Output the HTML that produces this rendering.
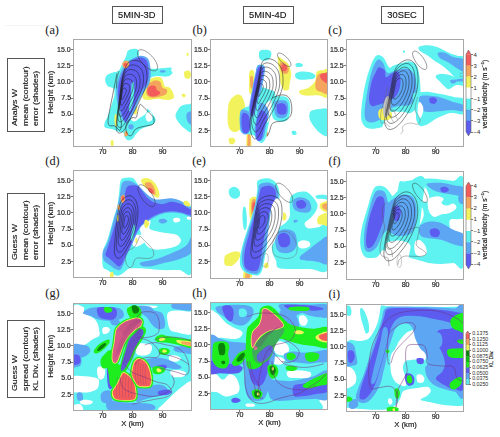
<!DOCTYPE html><html><head><meta charset="utf-8"><style>
*{margin:0;padding:0;box-sizing:border-box}
html,body{width:500px;height:437px;background:#fff;overflow:hidden}
body{position:relative;font-family:"Liberation Sans",sans-serif;color:#111;-webkit-text-stroke:0.15px #222}
.a{position:absolute}
.fr{position:absolute;border:1px solid #a8a8a8}
.t{position:absolute;font-size:7px;line-height:7px;white-space:nowrap;color:#333}
.tk{position:absolute;background:#777}
.pl{position:absolute;-webkit-text-stroke:0.05px #111;font-family:"Liberation Serif",serif;font-size:12.3px;line-height:12px;white-space:nowrap;color:#222}
.box{position:absolute;border:1px solid #555;font-size:9.6px;white-space:nowrap;color:#333}
svg{position:absolute;overflow:hidden}
svg.p{filter:blur(0.35px)}
</style></head><body>

<div class="box" style="left:111.5px;top:5.5px;width:51.0px;height:18.0px"></div>
<div class="a" style="left:107.00px;top:10.97px;width:60px;text-align:center;font-size:8.9px;line-height:8.9px;white-space:nowrap;color:#111;"><span style="display:inline-block;transform:scaleX(1.05);transform-origin:50% 50%">5MIN-3D</span></div>
<div class="box" style="left:243px;top:6px;width:50.5px;height:18px"></div>
<div class="a" style="left:238.25px;top:11.47px;width:60px;text-align:center;font-size:8.9px;line-height:8.9px;white-space:nowrap;color:#111;"><span style="display:inline-block;transform:scaleX(1.05);transform-origin:50% 50%">5MIN-4D</span></div>
<div class="box" style="left:380.5px;top:5.5px;width:43.0px;height:18.0px"></div>
<div class="a" style="left:372.00px;top:10.97px;width:60px;text-align:center;font-size:8.9px;line-height:8.9px;white-space:nowrap;color:#111;"><span style="display:inline-block;transform:scaleX(1.05);transform-origin:50% 50%">30SEC</span></div>
<div class="a" style="left:5px;top:25px;width:40px;height:1px;background:#f4f4f4"></div>
<div class="box" style="left:7px;top:58.4px;width:37.5px;height:73.79999999999998px"></div>
<div class="a" style="left:11.44px;top:125.50px;font-size:7.4px;line-height:7.4px;white-space:nowrap;color:#111;transform-origin:0 0;transform:rotate(-90deg);"><span style="display:inline-block;transform:scaleX(1.19);transform-origin:0 50%">Analys W</span></div>
<div class="a" style="left:21.54px;top:125.50px;font-size:7.4px;line-height:7.4px;white-space:nowrap;color:#111;transform-origin:0 0;transform:rotate(-90deg);"><span style="display:inline-block;transform:scaleX(1.19);transform-origin:0 50%">mean (contour)</span></div>
<div class="a" style="left:31.74px;top:125.50px;font-size:7.4px;line-height:7.4px;white-space:nowrap;color:#111;transform-origin:0 0;transform:rotate(-90deg);"><span style="display:inline-block;transform:scaleX(1.19);transform-origin:0 50%">error (shades)</span></div>
<div class="box" style="left:7px;top:193.2px;width:37.5px;height:73.5px"></div>
<div class="a" style="left:11.44px;top:260.00px;font-size:7.4px;line-height:7.4px;white-space:nowrap;color:#111;transform-origin:0 0;transform:rotate(-90deg);"><span style="display:inline-block;transform:scaleX(1.19);transform-origin:0 50%">Guess W</span></div>
<div class="a" style="left:21.54px;top:260.00px;font-size:7.4px;line-height:7.4px;white-space:nowrap;color:#111;transform-origin:0 0;transform:rotate(-90deg);"><span style="display:inline-block;transform:scaleX(1.19);transform-origin:0 50%">mean (contour)</span></div>
<div class="a" style="left:31.74px;top:260.00px;font-size:7.4px;line-height:7.4px;white-space:nowrap;color:#111;transform-origin:0 0;transform:rotate(-90deg);"><span style="display:inline-block;transform:scaleX(1.19);transform-origin:0 50%">error (shades)</span></div>
<div class="box" style="left:7px;top:320.1px;width:37.5px;height:77.5px"></div>
<div class="a" style="left:11.44px;top:390.90px;font-size:7.4px;line-height:7.4px;white-space:nowrap;color:#111;transform-origin:0 0;transform:rotate(-90deg);"><span style="display:inline-block;transform:scaleX(1.19);transform-origin:0 50%">Guess W</span></div>
<div class="a" style="left:21.54px;top:390.90px;font-size:7.4px;line-height:7.4px;white-space:nowrap;color:#111;transform-origin:0 0;transform:rotate(-90deg);"><span style="display:inline-block;transform:scaleX(1.19);transform-origin:0 50%">spread (contour)</span></div>
<div class="a" style="left:31.74px;top:390.90px;font-size:7.4px;line-height:7.4px;white-space:nowrap;color:#111;transform-origin:0 0;transform:rotate(-90deg);"><span style="display:inline-block;transform:scaleX(1.19);transform-origin:0 50%">KL Div. (shades)</span></div>
<svg class="p" style="left:73px;top:39px" width="119" height="108" viewBox="0 0 482 437" preserveAspectRatio="none"><defs><clipPath id="ca"><rect x="2.0" y="2.0" width="477.9" height="433.0"/></clipPath></defs><g clip-path="url(#ca)"><path d="M222.0,48.0 C226.2,43.0 233.3,41.0 240.0,40.0 C246.7,39.0 257.3,38.7 262.0,42.0 C266.7,45.3 268.0,54.0 268.0,60.0 C268.0,66.0 260.3,71.3 262.0,78.0 C263.7,84.7 271.7,93.3 278.0,100.0 C284.3,106.7 291.3,113.3 300.0,118.0 C308.7,122.7 320.0,127.3 330.0,128.0 C340.0,128.7 349.2,122.3 360.0,122.0 C370.8,121.7 388.0,123.0 395.0,126.0 C402.0,129.0 404.5,135.7 402.0,140.0 C399.5,144.3 390.3,150.3 380.0,152.0 C369.7,153.7 351.7,148.7 340.0,150.0 C328.3,151.3 318.0,154.2 310.0,160.0 C302.0,165.8 297.0,175.8 292.0,185.0 C287.0,194.2 284.0,205.0 280.0,215.0 C276.0,225.0 271.0,236.7 268.0,245.0 C265.0,253.3 259.2,261.2 262.0,265.0 C264.8,268.8 278.7,265.5 285.0,268.0 C291.3,270.5 294.2,274.7 300.0,280.0 C305.8,285.3 314.2,292.5 320.0,300.0 C325.8,307.5 334.2,317.5 335.0,325.0 C335.8,332.5 330.8,340.0 325.0,345.0 C319.2,350.0 308.3,351.7 300.0,355.0 C291.7,358.3 282.5,360.0 275.0,365.0 C267.5,370.0 260.8,378.3 255.0,385.0 C249.2,391.7 245.5,400.8 240.0,405.0 C234.5,409.2 227.0,411.2 222.0,410.0 C217.0,408.8 212.8,403.0 210.0,398.0 C207.2,393.0 209.2,383.8 205.0,380.0 C200.8,376.2 192.5,377.5 185.0,375.0 C177.5,372.5 169.2,367.8 160.0,365.0 C150.8,362.2 135.3,362.2 130.0,358.0 C124.7,353.8 126.3,347.2 128.0,340.0 C129.7,332.8 136.3,324.2 140.0,315.0 C143.7,305.8 146.7,295.0 150.0,285.0 C153.3,275.0 157.0,265.0 160.0,255.0 C163.0,245.0 167.2,234.2 168.0,225.0 C168.8,215.8 169.7,205.8 165.0,200.0 C160.3,194.2 145.8,195.8 140.0,190.0 C134.2,184.2 130.0,172.5 130.0,165.0 C130.0,157.5 134.2,150.0 140.0,145.0 C145.8,140.0 157.5,137.8 165.0,135.0 C172.5,132.2 180.0,132.2 185.0,128.0 C190.0,123.8 191.7,116.3 195.0,110.0 C198.3,103.7 201.7,96.7 205.0,90.0 C208.3,83.3 212.2,77.0 215.0,70.0 C217.8,63.0 217.8,53.0 222.0,48.0Z" fill="#5ef2f0"/><path d="M255.0,266.0 C262.5,262.7 277.5,260.2 285.0,262.0 C292.5,263.8 298.2,270.7 300.0,277.0 C301.8,283.3 300.7,293.2 296.0,300.0 C291.3,306.8 279.3,312.5 272.0,318.0 C264.7,323.5 258.0,331.3 252.0,333.0 C246.0,334.7 239.3,333.2 236.0,328.0 C232.7,322.8 231.3,309.7 232.0,302.0 C232.7,294.3 236.2,288.0 240.0,282.0 C243.8,276.0 247.5,269.3 255.0,266.0Z" fill="#ffffff"/><path d="M298.0,300.0 C301.5,296.3 311.0,294.0 315.0,296.0 C319.0,298.0 321.5,306.3 322.0,312.0 C322.5,317.7 321.3,326.3 318.0,330.0 C314.7,333.7 306.0,336.0 302.0,334.0 C298.0,332.0 294.7,323.7 294.0,318.0 C293.3,312.3 294.5,303.7 298.0,300.0Z" fill="#ffffff"/><path d="M440.0,270.0 C447.7,266.0 463.0,264.0 470.0,264.0 C477.0,264.0 480.0,252.0 482.0,270.0 C484.0,288.0 487.0,356.7 482.0,372.0 C477.0,387.3 461.0,367.7 452.0,362.0 C443.0,356.3 434.2,346.3 428.0,338.0 C421.8,329.7 415.7,320.3 415.0,312.0 C414.3,303.7 419.8,295.0 424.0,288.0 C428.2,281.0 432.3,274.0 440.0,270.0Z" fill="#5ef2f0"/><path d="M462.0,300.0 C465.7,295.5 478.7,287.5 482.0,295.0 C485.3,302.5 484.3,337.5 482.0,345.0 C479.7,352.5 471.7,343.8 468.0,340.0 C464.3,336.2 461.0,328.7 460.0,322.0 C459.0,315.3 458.3,304.5 462.0,300.0Z" fill="#5ca6f4"/><path d="M306.0,122.0 C311.0,119.5 329.3,120.8 340.0,120.0 C350.7,119.2 360.2,117.5 370.0,117.0 C379.8,116.5 395.3,114.0 399.0,117.0 C402.7,120.0 393.5,129.5 392.0,135.0 C390.5,140.5 395.3,148.3 390.0,150.0 C384.7,151.7 370.0,146.7 360.0,145.0 C350.0,143.3 338.3,141.7 330.0,140.0 C321.7,138.3 314.0,138.0 310.0,135.0 C306.0,132.0 301.0,124.5 306.0,122.0Z" fill="#5ef2f0"/><path d="M353.0,128.0 C355.3,126.5 364.2,125.5 368.0,126.0 C371.8,126.5 376.3,129.3 376.0,131.0 C375.7,132.7 369.7,135.3 366.0,136.0 C362.3,136.7 356.2,136.3 354.0,135.0 C351.8,133.7 350.7,129.5 353.0,128.0Z" fill="#5ca6f4"/><path d="M452.0,132.0 C455.3,129.2 465.7,126.3 470.0,128.0 C474.3,129.7 477.7,136.7 478.0,142.0 C478.3,147.3 475.8,157.3 472.0,160.0 C468.2,162.7 458.7,160.5 455.0,158.0 C451.3,155.5 450.5,149.3 450.0,145.0 C449.5,140.7 448.7,134.8 452.0,132.0Z" fill="#f2f25c"/><path d="M440.0,224.0 C441.0,221.7 449.3,220.7 452.0,222.0 C454.7,223.3 457.0,229.7 456.0,232.0 C455.0,234.3 448.7,237.3 446.0,236.0 C443.3,234.7 439.0,226.3 440.0,224.0Z" fill="#f2f25c"/><path d="M460.0,58.0 C460.7,55.7 464.7,54.7 466.0,56.0 C467.3,57.3 468.7,63.7 468.0,66.0 C467.3,68.3 463.3,71.3 462.0,70.0 C460.7,68.7 459.3,60.3 460.0,58.0Z" fill="#f2f25c"/><path d="M154.0,412.0 C155.5,409.0 160.2,407.8 162.0,410.0 C163.8,412.2 165.3,421.0 165.0,425.0 C164.7,429.0 162.0,433.5 160.0,434.0 C158.0,434.5 154.0,431.7 153.0,428.0 C152.0,424.3 152.5,415.0 154.0,412.0Z" fill="#f2f25c"/><path d="M244.0,252.0 C245.8,247.0 251.3,246.2 254.0,250.0 C256.7,253.8 259.3,266.7 260.0,275.0 C260.7,283.3 260.0,295.2 258.0,300.0 C256.0,304.8 250.5,307.3 248.0,304.0 C245.5,300.7 243.7,288.7 243.0,280.0 C242.3,271.3 242.2,257.0 244.0,252.0Z" fill="#f2f25c"/><path d="M169.0,308.0 C170.3,304.0 174.5,302.3 176.0,306.0 C177.5,309.7 178.0,322.0 178.0,330.0 C178.0,338.0 177.3,350.7 176.0,354.0 C174.7,357.3 171.3,354.0 170.0,350.0 C168.7,346.0 168.2,337.0 168.0,330.0 C167.8,323.0 167.7,312.0 169.0,308.0Z" fill="#f2f25c"/><path d="M284.0,224.0 C286.2,213.3 291.0,188.8 297.0,178.0 C303.0,167.2 311.5,163.0 320.0,159.0 C328.5,155.0 341.0,153.2 348.0,154.0 C355.0,154.8 358.0,157.8 362.0,164.0 C366.0,170.2 367.3,185.7 372.0,191.0 C376.7,196.3 384.7,192.2 390.0,196.0 C395.3,199.8 401.0,207.0 404.0,214.0 C407.0,221.0 411.2,232.5 408.0,238.0 C404.8,243.5 395.7,246.3 385.0,247.0 C374.3,247.7 357.0,242.0 344.0,242.0 C331.0,242.0 317.0,247.0 307.0,247.0 C297.0,247.0 287.8,245.8 284.0,242.0 C280.2,238.2 281.8,234.7 284.0,224.0Z" fill="#f2f25c"/><path d="M297.0,210.0 C298.2,202.3 301.5,189.0 307.0,182.0 C312.5,175.0 322.3,169.5 330.0,168.0 C337.7,166.5 347.7,168.3 353.0,173.0 C358.3,177.7 357.3,190.7 362.0,196.0 C366.7,201.3 378.7,200.3 381.0,205.0 C383.3,209.7 380.7,219.3 376.0,224.0 C371.3,228.7 362.3,230.7 353.0,233.0 C343.7,235.3 328.8,238.8 320.0,238.0 C311.2,237.2 303.8,232.7 300.0,228.0 C296.2,223.3 295.8,217.7 297.0,210.0Z" fill="#f4a45c"/><path d="M302.0,201.0 C304.0,195.2 310.7,190.7 316.0,189.0 C321.3,187.3 330.2,188.3 334.0,191.0 C337.8,193.7 335.8,201.0 339.0,205.0 C342.2,209.0 352.2,211.2 353.0,215.0 C353.8,218.8 349.5,225.0 344.0,228.0 C338.5,231.0 326.7,233.7 320.0,233.0 C313.3,232.3 307.0,229.3 304.0,224.0 C301.0,218.7 300.0,206.8 302.0,201.0Z" fill="#f45c5c"/><path d="M208.0,108.0 C216.0,97.0 225.0,88.7 236.0,82.0 C247.0,75.3 262.7,68.3 274.0,68.0 C285.3,67.7 297.5,72.7 304.0,80.0 C310.5,87.3 311.2,101.7 313.0,112.0 C314.8,122.3 315.7,130.7 315.0,142.0 C314.3,153.3 313.2,168.7 309.0,180.0 C304.8,191.3 296.5,199.3 290.0,210.0 C283.5,220.7 276.0,232.0 270.0,244.0 C264.0,256.0 259.3,270.3 254.0,282.0 C248.7,293.7 243.7,304.0 238.0,314.0 C232.3,324.0 225.7,339.3 220.0,342.0 C214.3,344.7 209.3,338.0 204.0,330.0 C198.7,322.0 192.5,308.7 188.0,294.0 C183.5,279.3 178.8,259.3 177.0,242.0 C175.2,224.7 175.2,205.7 177.0,190.0 C178.8,174.3 182.8,161.7 188.0,148.0 C193.2,134.3 200.0,119.0 208.0,108.0Z" fill="#5ca6f4"/><path d="M213.0,113.0 C220.3,102.2 228.0,94.3 238.0,88.0 C248.0,81.7 263.2,75.3 273.0,75.0 C282.8,74.7 291.7,79.7 297.0,86.0 C302.3,92.3 303.3,104.0 305.0,113.0 C306.7,122.0 307.8,129.2 307.0,140.0 C306.2,150.8 304.5,167.2 300.0,178.0 C295.5,188.8 286.3,194.7 280.0,205.0 C273.7,215.3 267.7,227.5 262.0,240.0 C256.3,252.5 251.3,268.3 246.0,280.0 C240.7,291.7 235.3,301.0 230.0,310.0 C224.7,319.0 218.3,332.0 214.0,334.0 C209.7,336.0 207.3,329.2 204.0,322.0 C200.7,314.8 197.3,304.3 194.0,291.0 C190.7,277.7 185.7,258.5 184.0,242.0 C182.3,225.5 182.3,206.8 184.0,192.0 C185.7,177.2 189.2,166.2 194.0,153.0 C198.8,139.8 205.7,123.8 213.0,113.0Z" fill="#5c5cf0"/><path d="M238.0,180.0 C239.7,173.5 244.3,169.3 246.0,176.0 C247.7,182.7 248.7,205.7 248.0,220.0 C247.3,234.3 244.7,250.3 242.0,262.0 C239.3,273.7 234.7,286.0 232.0,290.0 C229.3,294.0 226.0,292.7 226.0,286.0 C226.0,279.3 230.3,261.8 232.0,250.0 C233.7,238.2 235.0,226.7 236.0,215.0 C237.0,203.3 236.3,186.5 238.0,180.0Z" fill="#5ef2f0"/><path d="M200.0,98.0 C201.7,94.0 207.7,89.0 212.0,88.0 C216.3,87.0 223.7,88.7 226.0,92.0 C228.3,95.3 228.0,103.7 226.0,108.0 C224.0,112.3 218.0,117.3 214.0,118.0 C210.0,118.7 204.3,115.3 202.0,112.0 C199.7,108.7 198.3,102.0 200.0,98.0Z" fill="#f4a45c"/><path d="M206.0,102.0 C207.2,99.7 211.7,95.7 214.0,96.0 C216.3,96.3 220.0,101.3 220.0,104.0 C220.0,106.7 216.2,111.0 214.0,112.0 C211.8,113.0 208.3,111.7 207.0,110.0 C205.7,108.3 204.8,104.3 206.0,102.0Z" fill="#f45c5c"/><path d="M209.0,376.0 C210.5,373.2 215.7,371.3 218.0,373.0 C220.3,374.7 223.3,382.5 223.0,386.0 C222.7,389.5 218.3,393.3 216.0,394.0 C213.7,394.7 210.2,393.0 209.0,390.0 C207.8,387.0 207.5,378.8 209.0,376.0Z" fill="#f4a45c"/><path d="M226.0,348.0 C228.3,345.2 236.7,343.7 240.0,345.0 C243.3,346.3 246.3,352.5 246.0,356.0 C245.7,359.5 241.3,365.0 238.0,366.0 C234.7,367.0 228.0,365.0 226.0,362.0 C224.0,359.0 223.7,350.8 226.0,348.0Z" fill="#5ca6f4"/><path d="M338.8,125.5 C336.6,127.6 333.2,128.7 329.3,128.8 C325.4,128.8 320.5,127.6 315.6,125.5 C310.7,123.4 305.1,120.1 299.9,116.2 C294.7,112.4 289.1,107.4 284.4,102.4 C279.7,97.3 275.2,91.5 271.7,86.0 C268.2,80.6 265.3,74.7 263.5,69.6 C261.8,64.6 261.0,59.6 261.3,55.8 C261.5,51.9 262.9,48.6 265.2,46.5 C267.4,44.4 270.8,43.3 274.7,43.2 C278.6,43.2 283.5,44.4 288.4,46.5 C293.3,48.6 298.9,51.9 304.1,55.8 C309.3,59.6 314.9,64.6 319.6,69.6 C324.3,74.7 328.8,80.5 332.3,86.0 C335.8,91.4 338.7,97.3 340.5,102.4 C342.2,107.4 343.0,112.4 342.7,116.2 C342.5,120.1 341.1,123.4 338.8,125.5Z" fill="none" stroke="#333" stroke-width="2.0"/><path d="M228.0,92.0 C237.3,85.0 251.7,85.3 262.0,88.0 C272.3,90.7 283.7,97.7 290.0,108.0 C296.3,118.3 299.7,134.7 300.0,150.0 C300.3,165.3 296.7,184.2 292.0,200.0 C287.3,215.8 279.0,230.0 272.0,245.0 C265.0,260.0 257.3,275.8 250.0,290.0 C242.7,304.2 235.5,316.7 228.0,330.0 C220.5,343.3 212.2,361.7 205.0,370.0 C197.8,378.3 190.0,381.7 185.0,380.0 C180.0,378.3 175.8,373.3 175.0,360.0 C174.2,346.7 177.8,320.0 180.0,300.0 C182.2,280.0 185.3,260.0 188.0,240.0 C190.7,220.0 193.0,198.3 196.0,180.0 C199.0,161.7 200.7,144.7 206.0,130.0 C211.3,115.3 218.7,99.0 228.0,92.0Z" fill="none" stroke="#1e1e1e" stroke-width="2.1"/><path d="M224.1,109.9 C232.1,103.9 244.4,104.2 253.3,106.5 C262.2,108.8 272.0,114.8 277.4,123.7 C282.8,132.6 285.7,146.6 286.0,159.8 C286.3,173.0 283.1,189.2 279.1,202.8 C275.1,216.4 267.9,228.6 261.9,241.5 C255.9,254.4 249.3,268.0 243.0,280.2 C236.7,292.4 230.5,303.1 224.1,314.6 C217.6,326.1 210.5,341.8 204.3,349.0 C198.1,356.2 191.4,359.0 187.1,357.6 C182.8,356.2 179.2,351.9 178.5,340.4 C177.8,328.9 180.9,306.0 182.8,288.8 C184.7,271.6 187.4,254.4 189.7,237.2 C192.0,220.0 194.0,201.4 196.6,185.6 C199.1,169.8 200.6,155.2 205.2,142.6 C209.7,130.0 216.1,115.9 224.1,109.9Z" fill="none" stroke="#1e1e1e" stroke-width="2.1"/><path d="M220.2,127.8 C226.9,122.8 237.2,123.0 244.6,125.0 C252.1,126.9 260.2,131.9 264.8,139.4 C269.4,146.8 271.8,158.6 272.0,169.6 C272.2,180.6 269.6,194.2 266.2,205.6 C262.9,217.0 256.9,227.2 251.8,238.0 C246.8,248.8 241.3,260.2 236.0,270.4 C230.7,280.6 225.6,289.6 220.2,299.2 C214.8,308.8 208.8,322.0 203.6,328.0 C198.4,334.0 192.8,336.4 189.2,335.2 C185.6,334.0 182.6,330.4 182.0,320.8 C181.4,311.2 184.0,292.0 185.6,277.6 C187.2,263.2 189.4,248.8 191.4,234.4 C193.3,220.0 195.0,204.4 197.1,191.2 C199.3,178.0 200.5,165.8 204.3,155.2 C208.2,144.6 213.4,132.9 220.2,127.8Z" fill="none" stroke="#1e1e1e" stroke-width="2.1"/><path d="M216.2,145.8 C221.7,141.7 230.0,141.9 236.0,143.4 C242.0,145.0 248.5,149.0 252.2,155.0 C255.9,161.0 257.8,170.5 258.0,179.4 C258.2,188.3 256.1,199.2 253.4,208.4 C250.7,217.6 245.8,225.8 241.8,234.5 C237.7,243.2 233.3,252.4 229.0,260.6 C224.7,268.8 220.6,276.1 216.2,283.8 C211.9,291.5 207.1,302.2 202.9,307.0 C198.7,311.8 194.2,313.8 191.3,312.8 C188.4,311.8 186.0,308.9 185.5,301.2 C185.0,293.5 187.1,278.0 188.4,266.4 C189.7,254.8 191.5,243.2 193.0,231.6 C194.6,220.0 195.9,207.4 197.7,196.8 C199.4,186.2 200.4,176.3 203.5,167.8 C206.6,159.3 210.8,149.8 216.2,145.8Z" fill="none" stroke="#1e1e1e" stroke-width="2.1"/><path d="M212.3,163.7 C216.4,160.6 222.7,160.7 227.3,161.9 C231.8,163.1 236.8,166.2 239.6,170.7 C242.4,175.3 243.9,182.5 244.0,189.2 C244.1,195.9 242.5,204.2 240.5,211.2 C238.4,218.2 234.8,224.4 231.7,231.0 C228.6,237.6 225.2,244.6 222.0,250.8 C218.8,257.0 215.6,262.5 212.3,268.4 C209.0,274.3 205.4,282.3 202.2,286.0 C199.0,289.7 195.6,291.1 193.4,290.4 C191.2,289.7 189.4,287.5 189.0,281.6 C188.6,275.7 190.2,264.0 191.2,255.2 C192.2,246.4 193.5,237.6 194.7,228.8 C195.9,220.0 196.9,210.5 198.2,202.4 C199.6,194.3 200.3,186.9 202.6,180.4 C205.0,173.9 208.2,166.8 212.3,163.7Z" fill="none" stroke="#1e1e1e" stroke-width="2.1"/><path d="M208.4,181.6 C211.2,179.5 215.5,179.6 218.6,180.4 C221.7,181.2 225.1,183.3 227.0,186.4 C228.9,189.5 229.9,194.4 230.0,199.0 C230.1,203.6 229.0,209.2 227.6,214.0 C226.2,218.8 223.7,223.0 221.6,227.5 C219.5,232.0 217.2,236.8 215.0,241.0 C212.8,245.2 210.7,249.0 208.4,253.0 C206.2,257.0 203.7,262.5 201.5,265.0 C199.3,267.5 197.0,268.5 195.5,268.0 C194.0,267.5 192.8,266.0 192.5,262.0 C192.2,258.0 193.3,250.0 194.0,244.0 C194.7,238.0 195.6,232.0 196.4,226.0 C197.2,220.0 197.9,213.5 198.8,208.0 C199.7,202.5 200.2,197.4 201.8,193.0 C203.4,188.6 205.6,183.7 208.4,181.6Z" fill="none" stroke="#1e1e1e" stroke-width="2.1"/><path d="M204.5,199.5 C206.0,198.4 208.3,198.5 209.9,198.9 C211.6,199.3 213.4,200.4 214.4,202.1 C215.4,203.7 215.9,206.3 216.0,208.8 C216.1,211.3 215.5,214.3 214.7,216.8 C214.0,219.3 212.6,221.6 211.5,224.0 C210.4,226.4 209.2,228.9 208.0,231.2 C206.8,233.5 205.7,235.5 204.5,237.6 C203.3,239.7 201.9,242.7 200.8,244.0 C199.7,245.3 198.4,245.9 197.6,245.6 C196.8,245.3 196.1,244.5 196.0,242.4 C195.9,240.3 196.5,236.0 196.8,232.8 C197.1,229.6 197.7,226.4 198.1,223.2 C198.5,220.0 198.9,216.5 199.4,213.6 C199.8,210.7 200.1,207.9 201.0,205.6 C201.8,203.3 203.0,200.6 204.5,199.5Z" fill="none" stroke="#1e1e1e" stroke-width="2.1"/><path d="M274.6,264.7 C278.1,266.4 283.4,273.5 290.5,280.5 C297.6,287.5 310.8,299.8 316.9,306.9 C323.0,313.9 326.1,316.6 327.4,322.8 C328.7,329.0 330.1,339.1 324.8,343.9 C319.5,348.7 305.8,349.2 295.7,351.8 C285.6,354.4 271.9,356.6 264.0,359.7 C256.1,362.8 251.7,366.8 248.2,370.3 C244.7,373.8 245.2,377.3 243.0,380.8 C240.8,384.3 238.5,390.5 235.0,391.4 C231.5,392.3 225.3,390.5 221.8,386.1 C218.3,381.7 214.8,372.0 213.9,365.0 C213.0,358.0 214.3,350.1 216.5,343.9 C218.7,337.7 222.7,332.4 227.1,328.0 C231.5,323.6 238.2,319.2 243.0,317.5 C247.8,315.8 252.6,322.8 256.1,317.5 C259.6,312.2 261.8,293.7 264.0,285.8 C266.2,277.9 267.5,273.5 269.3,270.0 C271.1,266.5 271.1,262.9 274.6,264.7Z" fill="none" stroke="#1e1e1e" stroke-width="2.2"/><path d="M178.0,140.0 C176.7,146.7 173.0,165.0 170.0,180.0 C167.0,195.0 163.3,213.3 160.0,230.0 C156.7,246.7 153.0,263.3 150.0,280.0 C147.0,296.7 142.3,318.3 142.0,330.0 C141.7,341.7 143.3,346.3 148.0,350.0 C152.7,353.7 163.0,348.7 170.0,352.0 C177.0,355.3 185.7,372.0 190.0,370.0 C194.3,368.0 196.3,351.7 196.0,340.0 C195.7,328.3 189.3,306.7 188.0,300.0" fill="none" stroke="#1e1e1e" stroke-width="2.2"/><path d="M186.0,130.0 C184.7,135.0 179.7,148.3 178.0,160.0 C176.3,171.7 176.3,193.3 176.0,200.0" fill="none" stroke="#1e1e1e" stroke-width="2.0"/></g></svg>
<div class="fr" style="left:73px;top:39px;width:119px;height:108px"></div>
<div class="tk" style="left:102px;top:147px;width:1px;height:2px"></div>
<div class="a" style="left:92.50px;top:149.40px;width:20px;text-align:center;font-size:6.5px;line-height:6.5px;white-space:nowrap;color:#111;"><span style="display:inline-block;transform:scaleX(1.1);transform-origin:50% 50%">70</span></div>
<div class="tk" style="left:132px;top:147px;width:1px;height:2px"></div>
<div class="a" style="left:122.50px;top:149.40px;width:20px;text-align:center;font-size:6.5px;line-height:6.5px;white-space:nowrap;color:#111;"><span style="display:inline-block;transform:scaleX(1.1);transform-origin:50% 50%">80</span></div>
<div class="tk" style="left:162px;top:147px;width:1px;height:2px"></div>
<div class="a" style="left:152.50px;top:149.40px;width:20px;text-align:center;font-size:6.5px;line-height:6.5px;white-space:nowrap;color:#111;"><span style="display:inline-block;transform:scaleX(1.1);transform-origin:50% 50%">90</span></div>
<div class="tk" style="left:71px;top:49.0px;width:2px;height:1px"></div>
<div class="a" style="left:40.80px;top:46.60px;width:30px;text-align:right;font-size:6.5px;line-height:6.5px;white-space:nowrap;color:#111;"><span style="display:inline-block;transform:scaleX(1.08);transform-origin:100% 50%">15.0</span></div>
<div class="tk" style="left:71px;top:65.2px;width:2px;height:1px"></div>
<div class="a" style="left:40.80px;top:62.80px;width:30px;text-align:right;font-size:6.5px;line-height:6.5px;white-space:nowrap;color:#111;"><span style="display:inline-block;transform:scaleX(1.08);transform-origin:100% 50%">12.5</span></div>
<div class="tk" style="left:71px;top:81.4px;width:2px;height:1px"></div>
<div class="a" style="left:40.80px;top:79.00px;width:30px;text-align:right;font-size:6.5px;line-height:6.5px;white-space:nowrap;color:#111;"><span style="display:inline-block;transform:scaleX(1.08);transform-origin:100% 50%">10.0</span></div>
<div class="tk" style="left:71px;top:97.6px;width:2px;height:1px"></div>
<div class="a" style="left:40.80px;top:95.20px;width:30px;text-align:right;font-size:6.5px;line-height:6.5px;white-space:nowrap;color:#111;"><span style="display:inline-block;transform:scaleX(1.08);transform-origin:100% 50%">7.5</span></div>
<div class="tk" style="left:71px;top:113.8px;width:2px;height:1px"></div>
<div class="a" style="left:40.80px;top:111.40px;width:30px;text-align:right;font-size:6.5px;line-height:6.5px;white-space:nowrap;color:#111;"><span style="display:inline-block;transform:scaleX(1.08);transform-origin:100% 50%">5.0</span></div>
<div class="tk" style="left:71px;top:130.0px;width:2px;height:1px"></div>
<div class="a" style="left:40.80px;top:127.60px;width:30px;text-align:right;font-size:6.5px;line-height:6.5px;white-space:nowrap;color:#111;"><span style="display:inline-block;transform:scaleX(1.08);transform-origin:100% 50%">2.5</span></div>
<div class="pl" style="left:45.300000000000004px;top:24.30px;font-size:12.3px;line-height:12.3px">(a)</div>
<div class="a" style="left:47.42px;top:131.70px;width:80px;text-align:center;font-size:7.3px;line-height:7.3px;white-space:nowrap;color:#111;transform-origin:0 0;transform:rotate(-90deg);"><span style="display:inline-block;transform:scaleX(1.14);transform-origin:50% 50%">Height (km)</span></div>
<svg class="p" style="left:210px;top:39px" width="118" height="108" viewBox="0 0 477 437" preserveAspectRatio="none"><defs><clipPath id="cb"><rect x="2.0" y="2.0" width="473.0" height="433.0"/></clipPath></defs><g clip-path="url(#cb)"><path d="M200.0,50.0 C203.7,44.3 214.5,44.0 222.0,44.0 C229.5,44.0 240.8,45.7 245.0,50.0 C249.2,54.3 248.5,64.3 247.0,70.0 C245.5,75.7 241.3,81.0 236.0,84.0 C230.7,87.0 221.0,89.0 215.0,88.0 C209.0,87.0 202.5,84.3 200.0,78.0 C197.5,71.7 196.3,55.7 200.0,50.0Z" fill="#5ef2f0"/><path d="M108.0,226.0 C116.0,223.0 122.7,226.0 128.0,232.0 C133.3,238.0 137.5,250.7 140.0,262.0 C142.5,273.3 143.3,287.8 143.0,300.0 C142.7,312.2 140.8,324.7 138.0,335.0 C135.2,345.3 131.7,355.2 126.0,362.0 C120.3,368.8 111.3,375.0 104.0,376.0 C96.7,377.0 87.3,374.0 82.0,368.0 C76.7,362.0 73.7,353.0 72.0,340.0 C70.3,327.0 70.7,305.0 72.0,290.0 C73.3,275.0 74.0,260.7 80.0,250.0 C86.0,239.3 100.0,229.0 108.0,226.0Z" fill="#f2f25c"/><path d="M76.0,404.0 C78.0,400.0 87.7,399.0 92.0,400.0 C96.3,401.0 101.3,406.0 102.0,410.0 C102.7,414.0 99.7,421.7 96.0,424.0 C92.3,426.3 83.3,427.3 80.0,424.0 C76.7,420.7 74.0,408.0 76.0,404.0Z" fill="#f2f25c"/><path d="M160.0,132.0 C163.0,124.2 172.7,122.5 176.0,128.0 C179.3,133.5 180.0,152.2 180.0,165.0 C180.0,177.8 178.0,194.8 176.0,205.0 C174.0,215.2 171.0,224.8 168.0,226.0 C165.0,227.2 159.7,220.5 158.0,212.0 C156.3,203.5 157.7,188.3 158.0,175.0 C158.3,161.7 157.0,139.8 160.0,132.0Z" fill="#f2f25c"/><path d="M163.0,155.0 C164.5,149.0 170.2,147.0 172.0,152.0 C173.8,157.0 174.7,176.7 174.0,185.0 C173.3,193.3 169.8,201.5 168.0,202.0 C166.2,202.5 163.8,195.8 163.0,188.0 C162.2,180.2 161.5,161.0 163.0,155.0Z" fill="#f4a45c"/><path d="M150.0,372.0 C152.0,366.7 157.3,363.3 160.0,368.0 C162.7,372.7 165.0,388.5 166.0,400.0 C167.0,411.5 169.0,430.8 166.0,437.0 C163.0,443.2 151.0,443.2 148.0,437.0 C145.0,430.8 147.7,410.8 148.0,400.0 C148.3,389.2 148.0,377.3 150.0,372.0Z" fill="#f2f25c"/><path d="M154.0,382.0 C155.7,377.3 160.3,375.3 162.0,380.0 C163.7,384.7 164.0,400.5 164.0,410.0 C164.0,419.5 164.0,432.5 162.0,437.0 C160.0,441.5 153.7,441.8 152.0,437.0 C150.3,432.2 151.7,417.2 152.0,408.0 C152.3,398.8 152.3,386.7 154.0,382.0Z" fill="#f4a45c"/><path d="M222.0,378.0 C223.7,376.0 229.7,374.8 232.0,376.0 C234.3,377.2 236.3,382.3 236.0,385.0 C235.7,387.7 232.3,391.5 230.0,392.0 C227.7,392.5 223.3,390.3 222.0,388.0 C220.7,385.7 220.3,380.0 222.0,378.0Z" fill="#f4a45c"/><path d="M190.0,112.0 C193.5,104.3 200.3,104.0 205.0,104.0 C209.7,104.0 216.8,101.8 218.0,112.0 C219.2,122.2 215.7,145.3 212.0,165.0 C208.3,184.7 201.3,209.2 196.0,230.0 C190.7,250.8 184.7,278.3 180.0,290.0 C175.3,301.7 170.3,305.0 168.0,300.0 C165.7,295.0 164.7,276.7 166.0,260.0 C167.3,243.3 173.0,218.3 176.0,200.0 C179.0,181.7 181.7,164.7 184.0,150.0 C186.3,135.3 186.5,119.7 190.0,112.0Z" fill="#5ef2f0"/><path d="M196.0,200.0 C202.5,191.0 207.7,195.2 215.0,196.0 C222.3,196.8 232.2,201.8 240.0,205.0 C247.8,208.2 258.3,207.5 262.0,215.0 C265.7,222.5 264.0,237.5 262.0,250.0 C260.0,262.5 253.7,276.7 250.0,290.0 C246.3,303.3 243.0,316.7 240.0,330.0 C237.0,343.3 234.3,358.3 232.0,370.0 C229.7,381.7 229.3,391.7 226.0,400.0 C222.7,408.3 217.0,417.7 212.0,420.0 C207.0,422.3 201.7,419.0 196.0,414.0 C190.3,409.0 184.0,394.7 178.0,390.0 C172.0,385.3 168.8,388.3 160.0,386.0 C151.2,383.7 131.5,383.7 125.0,376.0 C118.5,368.3 121.7,352.7 121.0,340.0 C120.3,327.3 118.7,310.0 121.0,300.0 C123.3,290.0 128.5,285.0 135.0,280.0 C141.5,275.0 153.2,275.0 160.0,270.0 C166.8,265.0 170.0,261.7 176.0,250.0 C182.0,238.3 189.5,209.0 196.0,200.0Z" fill="#5ef2f0"/><path d="M226.0,262.0 C231.3,253.0 247.0,245.3 252.0,246.0 C257.0,246.7 257.3,257.0 256.0,266.0 C254.7,275.0 247.3,288.5 244.0,300.0 C240.7,311.5 238.7,330.0 236.0,335.0 C233.3,340.0 230.7,335.8 228.0,330.0 C225.3,324.2 220.3,311.3 220.0,300.0 C219.7,288.7 220.7,271.0 226.0,262.0Z" fill="#ffffff"/><path d="M200.0,262.0 C206.0,253.3 217.7,261.7 224.0,268.0 C230.3,274.3 237.3,287.2 238.0,300.0 C238.7,312.8 231.3,329.2 228.0,345.0 C224.7,360.8 222.0,383.8 218.0,395.0 C214.0,406.2 209.3,410.3 204.0,412.0 C198.7,413.7 190.0,412.8 186.0,405.0 C182.0,397.2 179.7,379.2 180.0,365.0 C180.3,350.8 184.7,337.2 188.0,320.0 C191.3,302.8 194.0,270.7 200.0,262.0Z" fill="#5ca6f4"/><path d="M208.0,288.0 C214.7,286.0 229.0,299.5 231.0,311.0 C233.0,322.5 223.8,341.5 220.0,357.0 C216.2,372.5 212.8,395.2 208.0,404.0 C203.2,412.8 194.8,415.8 191.0,410.0 C187.2,404.2 185.0,383.5 185.0,369.0 C185.0,354.5 187.2,336.5 191.0,323.0 C194.8,309.5 201.3,290.0 208.0,288.0Z" fill="#5c5cf0"/><path d="M124.0,292.0 C128.2,281.7 139.3,285.8 146.0,288.0 C152.7,290.2 160.7,294.7 164.0,305.0 C167.3,315.3 167.7,337.2 166.0,350.0 C164.3,362.8 159.7,376.7 154.0,382.0 C148.3,387.3 137.5,387.3 132.0,382.0 C126.5,376.7 122.3,365.0 121.0,350.0 C119.7,335.0 119.8,302.3 124.0,292.0Z" fill="#5ca6f4"/><path d="M133.0,300.0 C137.8,296.2 151.2,301.5 156.0,311.0 C160.8,320.5 163.0,345.5 162.0,357.0 C161.0,368.5 154.8,377.0 150.0,380.0 C145.2,383.0 136.8,382.7 133.0,375.0 C129.2,367.3 127.0,346.5 127.0,334.0 C127.0,321.5 128.2,303.8 133.0,300.0Z" fill="#5c5cf0"/><path d="M192.0,108.0 C196.7,101.3 205.0,104.3 210.0,106.0 C215.0,107.7 221.3,106.3 222.0,118.0 C222.7,129.7 218.3,154.8 214.0,176.0 C209.7,197.2 201.7,223.5 196.0,245.0 C190.3,266.5 185.3,293.3 180.0,305.0 C174.7,316.7 167.7,319.2 164.0,315.0 C160.3,310.8 157.0,298.2 158.0,280.0 C159.0,261.8 166.0,228.3 170.0,206.0 C174.0,183.7 178.3,162.3 182.0,146.0 C185.7,129.7 187.3,114.7 192.0,108.0Z" fill="#5ca6f4"/><path d="M197.0,114.0 C202.2,109.2 214.2,110.3 216.0,120.0 C217.8,129.7 212.2,151.7 208.0,172.0 C203.8,192.3 196.2,220.7 191.0,242.0 C185.8,263.3 181.2,288.5 177.0,300.0 C172.8,311.5 168.5,315.0 166.0,311.0 C163.5,307.0 160.7,293.3 162.0,276.0 C163.3,258.7 170.2,228.2 174.0,207.0 C177.8,185.8 181.2,164.5 185.0,149.0 C188.8,133.5 191.8,118.8 197.0,114.0Z" fill="#5c5cf0"/><path d="M252.0,240.0 C257.0,230.3 270.3,232.7 280.0,232.0 C289.7,231.3 302.8,231.3 310.0,236.0 C317.2,240.7 320.8,249.3 323.0,260.0 C325.2,270.7 325.2,288.3 323.0,300.0 C320.8,311.7 317.2,324.3 310.0,330.0 C302.8,335.7 289.0,335.3 280.0,334.0 C271.0,332.7 261.0,329.3 256.0,322.0 C251.0,314.7 250.7,303.7 250.0,290.0 C249.3,276.3 247.0,249.7 252.0,240.0Z" fill="#5ef2f0"/><path d="M262.0,254.0 C267.0,248.7 281.7,247.7 290.0,248.0 C298.3,248.3 307.7,249.0 312.0,256.0 C316.3,263.0 317.0,280.0 316.0,290.0 C315.0,300.0 312.0,311.0 306.0,316.0 C300.0,321.0 287.0,321.8 280.0,320.0 C273.0,318.2 267.3,311.7 264.0,305.0 C260.7,298.3 260.3,288.5 260.0,280.0 C259.7,271.5 257.0,259.3 262.0,254.0Z" fill="#5ca6f4"/><path d="M272.0,264.0 C276.0,260.3 288.0,258.7 294.0,260.0 C300.0,261.3 305.7,265.7 308.0,272.0 C310.3,278.3 310.7,292.3 308.0,298.0 C305.3,303.7 297.7,305.7 292.0,306.0 C286.3,306.3 277.7,304.0 274.0,300.0 C270.3,296.0 270.3,288.0 270.0,282.0 C269.7,276.0 268.0,267.7 272.0,264.0Z" fill="#5c5cf0"/><path d="M274.0,76.0 C276.3,66.7 288.7,79.3 296.0,84.0 C303.3,88.7 312.7,94.7 318.0,104.0 C323.3,113.3 327.3,127.3 328.0,140.0 C328.7,152.7 323.7,169.3 322.0,180.0 C320.3,190.7 322.0,199.7 318.0,204.0 C314.0,208.3 303.3,210.0 298.0,206.0 C292.7,202.0 288.7,191.0 286.0,180.0 C283.3,169.0 284.0,157.3 282.0,140.0 C280.0,122.7 271.7,85.3 274.0,76.0Z" fill="#f2f25c"/><path d="M284.0,96.0 C287.3,92.3 298.3,94.3 304.0,98.0 C309.7,101.7 316.3,111.3 318.0,118.0 C319.7,124.7 317.7,134.3 314.0,138.0 C310.3,141.7 301.0,143.0 296.0,140.0 C291.0,137.0 286.0,127.3 284.0,120.0 C282.0,112.7 280.7,99.7 284.0,96.0Z" fill="#f4a45c"/><path d="M290.0,104.0 C292.0,100.3 300.3,101.7 304.0,104.0 C307.7,106.3 312.0,113.7 312.0,118.0 C312.0,122.3 307.3,128.7 304.0,130.0 C300.7,131.3 294.3,130.3 292.0,126.0 C289.7,121.7 288.0,107.7 290.0,104.0Z" fill="#f45c5c"/><path d="M346.0,100.0 C348.0,97.5 357.0,96.3 362.0,97.0 C367.0,97.7 374.7,101.5 376.0,104.0 C377.3,106.5 374.3,110.7 370.0,112.0 C365.7,113.3 354.0,114.0 350.0,112.0 C346.0,110.0 344.0,102.5 346.0,100.0Z" fill="#5ef2f0"/><path d="M346.0,140.0 C350.0,136.2 361.0,133.0 370.0,132.0 C379.0,131.0 390.8,131.7 400.0,134.0 C409.2,136.3 421.7,141.7 425.0,146.0 C428.3,150.3 425.5,157.0 420.0,160.0 C414.5,163.0 402.0,163.3 392.0,164.0 C382.0,164.7 367.7,165.5 360.0,164.0 C352.3,162.5 348.3,159.0 346.0,155.0 C343.7,151.0 342.0,143.8 346.0,140.0Z" fill="#5ef2f0"/><path d="M360.0,210.0 C363.3,204.8 387.2,203.7 398.0,197.0 C408.8,190.3 419.3,180.8 425.0,170.0 C430.7,159.2 426.5,139.3 432.0,132.0 C437.5,124.7 450.5,126.3 458.0,126.0 C465.5,125.7 473.8,112.3 477.0,130.0 C480.2,147.7 483.5,215.7 477.0,232.0 C470.5,248.3 454.5,228.7 438.0,228.0 C421.5,227.3 391.0,231.0 378.0,228.0 C365.0,225.0 356.7,215.2 360.0,210.0Z" fill="#f2f25c"/><path d="M426.0,180.0 C427.0,170.0 430.3,152.0 436.0,145.0 C441.7,138.0 453.2,138.8 460.0,138.0 C466.8,137.2 474.2,126.7 477.0,140.0 C479.8,153.3 481.5,205.7 477.0,218.0 C472.5,230.3 457.8,216.2 450.0,214.0 C442.2,211.8 434.0,210.7 430.0,205.0 C426.0,199.3 425.0,190.0 426.0,180.0Z" fill="#f4a45c"/><path d="M446.0,145.0 C448.7,141.3 458.8,138.8 464.0,138.0 C469.2,137.2 474.8,133.3 477.0,140.0 C479.2,146.7 479.8,172.7 477.0,178.0 C474.2,183.3 464.8,175.0 460.0,172.0 C455.2,169.0 450.3,164.5 448.0,160.0 C445.7,155.5 443.3,148.7 446.0,145.0Z" fill="#f45c5c"/><path d="M410.0,290.0 C416.3,286.5 428.8,284.0 440.0,284.0 C451.2,284.0 470.8,273.0 477.0,290.0 C483.2,307.0 481.5,370.3 477.0,386.0 C472.5,401.7 458.7,388.3 450.0,384.0 C441.3,379.7 432.5,369.0 425.0,360.0 C417.5,351.0 408.8,339.2 405.0,330.0 C401.2,320.8 401.2,311.7 402.0,305.0 C402.8,298.3 403.7,293.5 410.0,290.0Z" fill="#5ef2f0"/><path d="M330.0,374.0 C331.5,371.3 341.7,370.3 345.0,372.0 C348.3,373.7 351.5,381.3 350.0,384.0 C348.5,386.7 339.3,389.7 336.0,388.0 C332.7,386.3 328.5,376.7 330.0,374.0Z" fill="#5ef2f0"/><path d="M325.5,109.5 C324.2,110.7 322.1,111.4 319.7,111.3 C317.3,111.2 314.2,110.4 311.0,109.0 C307.8,107.6 304.1,105.4 300.6,102.9 C297.1,100.4 293.3,97.1 290.1,93.9 C286.9,90.7 283.6,86.9 281.1,83.4 C278.6,79.9 276.4,76.2 275.0,73.0 C273.6,69.8 272.8,66.7 272.7,64.3 C272.6,61.9 273.3,59.8 274.5,58.5 C275.8,57.3 277.9,56.6 280.3,56.7 C282.7,56.8 285.8,57.6 289.0,59.0 C292.2,60.4 295.9,62.6 299.4,65.1 C302.9,67.6 306.7,70.9 309.9,74.1 C313.1,77.3 316.4,81.1 318.9,84.6 C321.4,88.1 323.6,91.8 325.0,95.0 C326.4,98.2 327.2,101.3 327.3,103.7 C327.4,106.1 326.7,108.2 325.5,109.5Z" fill="none" stroke="#333" stroke-width="2.0"/><path d="M212.0,92.0 C216.8,84.5 223.7,80.7 232.0,80.0 C240.3,79.3 252.7,81.7 262.0,88.0 C271.3,94.3 282.5,106.0 288.0,118.0 C293.5,130.0 294.3,146.3 295.0,160.0 C295.7,173.7 295.8,184.5 292.0,200.0 C288.2,215.5 279.2,236.3 272.0,253.0 C264.8,269.7 257.7,284.5 249.0,300.0 C240.3,315.5 228.7,330.7 220.0,346.0 C211.3,361.3 203.7,382.3 197.0,392.0 C190.3,401.7 185.2,405.8 180.0,404.0 C174.8,402.2 169.0,392.7 166.0,381.0 C163.0,369.3 160.7,353.3 162.0,334.0 C163.3,314.7 169.2,290.0 174.0,265.0 C178.8,240.0 186.2,207.3 191.0,184.0 C195.8,160.7 199.5,140.3 203.0,125.0 C206.5,109.7 207.2,99.5 212.0,92.0Z" fill="none" stroke="#1e1e1e" stroke-width="2.1"/><path d="M210.3,107.1 C214.5,100.7 220.4,97.4 227.5,96.8 C234.7,96.2 245.3,98.2 253.3,103.7 C261.3,109.1 270.9,119.2 275.7,129.5 C280.4,139.8 281.1,153.8 281.7,165.6 C282.3,177.4 282.4,186.7 279.1,200.0 C275.8,213.3 268.1,231.2 261.9,245.6 C255.8,259.9 249.6,272.7 242.1,286.0 C234.7,299.3 224.7,312.4 217.2,325.6 C209.7,338.7 203.2,356.8 197.4,365.1 C191.7,373.4 187.2,377.0 182.8,375.4 C178.4,373.9 173.3,365.7 170.8,355.7 C168.2,345.6 166.2,331.9 167.3,315.2 C168.5,298.6 173.5,277.4 177.6,255.9 C181.8,234.4 188.1,206.3 192.3,186.2 C196.4,166.2 199.6,148.7 202.6,135.5 C205.6,122.3 206.2,113.6 210.3,107.1Z" fill="none" stroke="#1e1e1e" stroke-width="2.1"/><path d="M208.6,122.2 C212.1,116.8 217.0,114.1 223.0,113.6 C229.0,113.1 237.9,114.8 244.6,119.4 C251.4,123.9 259.4,132.3 263.4,141.0 C267.3,149.6 267.9,161.4 268.4,171.2 C268.9,181.0 269.0,188.8 266.2,200.0 C263.5,211.2 257.0,226.2 251.8,238.2 C246.7,250.2 241.5,260.8 235.3,272.0 C229.0,283.2 220.6,294.1 214.4,305.1 C208.2,316.2 202.6,331.3 197.8,338.2 C193.0,345.2 189.3,348.2 185.6,346.9 C181.9,345.6 177.7,338.7 175.5,330.3 C173.4,321.9 171.7,310.4 172.6,296.5 C173.6,282.6 177.8,264.8 181.3,246.8 C184.8,228.8 190.0,205.3 193.5,188.5 C197.0,171.7 199.6,157.0 202.2,146.0 C204.7,135.0 205.2,127.6 208.6,122.2Z" fill="none" stroke="#1e1e1e" stroke-width="2.1"/><path d="M207.0,137.4 C209.8,133.0 213.7,130.8 218.6,130.4 C223.4,130.0 230.5,131.4 236.0,135.0 C241.4,138.7 247.8,145.5 251.0,152.4 C254.2,159.4 254.7,168.9 255.1,176.8 C255.5,184.7 255.6,191.0 253.4,200.0 C251.1,209.0 245.9,221.1 241.8,230.7 C237.6,240.4 233.4,249.0 228.4,258.0 C223.4,267.0 216.6,275.8 211.6,284.7 C206.6,293.6 202.1,305.8 198.3,311.4 C194.4,317.0 191.4,319.4 188.4,318.3 C185.4,317.3 182.0,311.7 180.3,305.0 C178.5,298.2 177.2,288.9 178.0,277.7 C178.7,266.5 182.1,252.2 184.9,237.7 C187.7,223.2 192.0,204.3 194.8,190.7 C197.6,177.2 199.7,165.4 201.7,156.5 C203.8,147.6 204.2,141.7 207.0,137.4Z" fill="none" stroke="#1e1e1e" stroke-width="2.1"/><path d="M205.3,152.5 C207.4,149.2 210.4,147.5 214.1,147.2 C217.7,146.9 223.2,147.9 227.3,150.7 C231.4,153.5 236.3,158.6 238.7,163.9 C241.1,169.2 241.5,176.4 241.8,182.4 C242.1,188.4 242.2,193.2 240.5,200.0 C238.8,206.8 234.8,216.0 231.7,223.3 C228.5,230.7 225.4,237.2 221.6,244.0 C217.7,250.8 212.6,257.5 208.8,264.2 C205.0,271.0 201.6,280.2 198.7,284.5 C195.7,288.7 193.5,290.6 191.2,289.8 C188.9,289.0 186.4,284.8 185.0,279.6 C183.7,274.5 182.7,267.5 183.3,259.0 C183.9,250.5 186.4,239.6 188.6,228.6 C190.7,217.6 193.9,203.2 196.0,193.0 C198.2,182.7 199.8,173.7 201.3,167.0 C202.9,160.3 203.2,155.8 205.3,152.5Z" fill="none" stroke="#1e1e1e" stroke-width="2.1"/><path d="M203.6,167.6 C205.0,165.3 207.1,164.2 209.6,164.0 C212.1,163.8 215.8,164.5 218.6,166.4 C221.4,168.3 224.8,171.8 226.4,175.4 C228.1,179.0 228.3,183.9 228.5,188.0 C228.7,192.1 228.8,195.3 227.6,200.0 C226.4,204.7 223.8,210.9 221.6,215.9 C219.4,220.9 217.3,225.3 214.7,230.0 C212.1,234.7 208.6,239.2 206.0,243.8 C203.4,248.4 201.1,254.7 199.1,257.6 C197.1,260.5 195.6,261.8 194.0,261.2 C192.4,260.6 190.7,257.8 189.8,254.3 C188.9,250.8 188.2,246.0 188.6,240.2 C189.0,234.4 190.8,227.0 192.2,219.5 C193.6,212.0 195.9,202.2 197.3,195.2 C198.8,188.2 199.9,182.1 200.9,177.5 C201.9,172.9 202.2,169.8 203.6,167.6Z" fill="none" stroke="#1e1e1e" stroke-width="2.1"/><path d="M201.9,182.7 C202.7,181.5 203.8,180.9 205.1,180.8 C206.5,180.7 208.4,181.1 209.9,182.1 C211.4,183.1 213.2,185.0 214.1,186.9 C215.0,188.8 215.1,191.4 215.2,193.6 C215.3,195.8 215.3,197.5 214.7,200.0 C214.1,202.5 212.7,205.8 211.5,208.5 C210.4,211.1 209.2,213.5 207.8,216.0 C206.5,218.5 204.6,220.9 203.2,223.4 C201.8,225.8 200.6,229.2 199.5,230.7 C198.5,232.3 197.6,232.9 196.8,232.6 C196.0,232.3 195.0,230.8 194.6,229.0 C194.1,227.1 193.7,224.5 193.9,221.4 C194.1,218.3 195.1,214.4 195.8,210.4 C196.6,206.4 197.8,201.2 198.6,197.4 C199.3,193.7 199.9,190.5 200.5,188.0 C201.0,185.5 201.1,183.9 201.9,182.7Z" fill="none" stroke="#1e1e1e" stroke-width="2.1"/><path d="M252.0,238.0 C258.3,236.0 279.0,226.3 290.0,226.0 C301.0,225.7 311.3,228.7 318.0,236.0 C324.7,243.3 328.7,257.7 330.0,270.0 C331.3,282.3 331.0,300.0 326.0,310.0 C321.0,320.0 309.7,325.8 300.0,330.0 C290.3,334.2 276.3,332.5 268.0,335.0 C259.7,337.5 254.7,338.3 250.0,345.0 C245.3,351.7 243.3,366.7 240.0,375.0 C236.7,383.3 231.7,391.7 230.0,395.0" fill="none" stroke="#1e1e1e" stroke-width="2.2"/></g></svg>
<div class="fr" style="left:210px;top:39px;width:118px;height:108px"></div>
<div class="tk" style="left:239px;top:147px;width:1px;height:2px"></div>
<div class="a" style="left:229.50px;top:149.40px;width:20px;text-align:center;font-size:6.5px;line-height:6.5px;white-space:nowrap;color:#111;"><span style="display:inline-block;transform:scaleX(1.1);transform-origin:50% 50%">70</span></div>
<div class="tk" style="left:269px;top:147px;width:1px;height:2px"></div>
<div class="a" style="left:259.50px;top:149.40px;width:20px;text-align:center;font-size:6.5px;line-height:6.5px;white-space:nowrap;color:#111;"><span style="display:inline-block;transform:scaleX(1.1);transform-origin:50% 50%">80</span></div>
<div class="tk" style="left:299px;top:147px;width:1px;height:2px"></div>
<div class="a" style="left:289.50px;top:149.40px;width:20px;text-align:center;font-size:6.5px;line-height:6.5px;white-space:nowrap;color:#111;"><span style="display:inline-block;transform:scaleX(1.1);transform-origin:50% 50%">90</span></div>
<div class="tk" style="left:208px;top:49.0px;width:2px;height:1px"></div>
<div class="a" style="left:177.80px;top:46.60px;width:30px;text-align:right;font-size:6.5px;line-height:6.5px;white-space:nowrap;color:#111;"><span style="display:inline-block;transform:scaleX(1.08);transform-origin:100% 50%">15.0</span></div>
<div class="tk" style="left:208px;top:65.2px;width:2px;height:1px"></div>
<div class="a" style="left:177.80px;top:62.80px;width:30px;text-align:right;font-size:6.5px;line-height:6.5px;white-space:nowrap;color:#111;"><span style="display:inline-block;transform:scaleX(1.08);transform-origin:100% 50%">12.5</span></div>
<div class="tk" style="left:208px;top:81.4px;width:2px;height:1px"></div>
<div class="a" style="left:177.80px;top:79.00px;width:30px;text-align:right;font-size:6.5px;line-height:6.5px;white-space:nowrap;color:#111;"><span style="display:inline-block;transform:scaleX(1.08);transform-origin:100% 50%">10.0</span></div>
<div class="tk" style="left:208px;top:97.6px;width:2px;height:1px"></div>
<div class="a" style="left:177.80px;top:95.20px;width:30px;text-align:right;font-size:6.5px;line-height:6.5px;white-space:nowrap;color:#111;"><span style="display:inline-block;transform:scaleX(1.08);transform-origin:100% 50%">7.5</span></div>
<div class="tk" style="left:208px;top:113.8px;width:2px;height:1px"></div>
<div class="a" style="left:177.80px;top:111.40px;width:30px;text-align:right;font-size:6.5px;line-height:6.5px;white-space:nowrap;color:#111;"><span style="display:inline-block;transform:scaleX(1.08);transform-origin:100% 50%">5.0</span></div>
<div class="tk" style="left:208px;top:130.0px;width:2px;height:1px"></div>
<div class="a" style="left:177.80px;top:127.60px;width:30px;text-align:right;font-size:6.5px;line-height:6.5px;white-space:nowrap;color:#111;"><span style="display:inline-block;transform:scaleX(1.08);transform-origin:100% 50%">2.5</span></div>
<div class="pl" style="left:192.5px;top:24.30px;font-size:12.3px;line-height:12.3px">(b)</div>
<svg class="p" style="left:346px;top:39px" width="118" height="108" viewBox="0 0 477 437" preserveAspectRatio="none"><defs><clipPath id="cc"><rect x="2.0" y="2.0" width="473.0" height="433.0"/></clipPath></defs><g clip-path="url(#cc)"><path d="M122.0,68.0 C130.7,61.3 141.3,66.3 150.0,74.0 C158.7,81.7 167.2,108.3 174.0,114.0 C180.8,119.7 182.3,110.8 191.0,108.0 C199.7,105.2 214.5,99.8 226.0,97.0 C237.5,94.2 249.5,88.2 260.0,91.0 C270.5,93.8 282.2,96.7 289.0,114.0 C295.8,131.3 300.0,169.8 301.0,195.0 C302.0,220.2 301.8,247.5 295.0,265.0 C288.2,282.5 271.5,295.2 260.0,300.0 C248.5,304.8 237.5,292.2 226.0,294.0 C214.5,295.8 198.7,302.3 191.0,311.0 C183.3,319.7 187.7,338.3 180.0,346.0 C172.3,353.7 158.7,354.2 145.0,357.0 C131.3,359.8 110.5,364.8 98.0,363.0 C85.5,361.2 76.2,356.5 70.0,346.0 C63.8,335.5 60.2,325.2 61.0,300.0 C61.8,274.8 68.8,226.0 75.0,195.0 C81.2,164.0 90.2,135.2 98.0,114.0 C105.8,92.8 113.3,74.7 122.0,68.0Z" fill="#5ef2f0"/><path d="M127.0,85.0 C134.7,79.3 143.2,88.3 150.0,97.0 C156.8,105.7 159.2,132.2 168.0,137.0 C176.8,141.8 189.5,128.8 203.0,126.0 C216.5,123.2 236.5,116.2 249.0,120.0 C261.5,123.8 272.2,132.7 278.0,149.0 C283.8,165.3 287.0,198.7 284.0,218.0 C281.0,237.3 271.7,256.2 260.0,265.0 C248.3,273.8 227.3,268.2 214.0,271.0 C200.7,273.8 189.7,275.3 180.0,282.0 C170.3,288.7 165.7,302.3 156.0,311.0 C146.3,319.7 133.5,330.2 122.0,334.0 C110.5,337.8 94.8,339.7 87.0,334.0 C79.2,328.3 75.0,321.2 75.0,300.0 C75.0,278.8 82.2,235.2 87.0,207.0 C91.8,178.8 97.3,151.3 104.0,131.0 C110.7,110.7 119.3,90.7 127.0,85.0Z" fill="#5ca6f4"/><path d="M133.0,114.0 C138.7,113.2 151.2,119.2 156.0,126.0 C160.8,132.8 156.2,153.2 162.0,155.0 C167.8,156.8 182.3,140.0 191.0,137.0 C199.7,134.0 209.2,129.2 214.0,137.0 C218.8,144.8 221.8,168.5 220.0,184.0 C218.2,199.5 211.7,218.5 203.0,230.0 C194.3,241.5 179.7,247.2 168.0,253.0 C156.3,258.8 143.7,262.0 133.0,265.0 C122.3,268.0 110.7,274.8 104.0,271.0 C97.3,267.2 93.0,258.5 93.0,242.0 C93.0,225.5 99.2,190.5 104.0,172.0 C108.8,153.5 117.2,140.7 122.0,131.0 C126.8,121.3 127.3,114.8 133.0,114.0Z" fill="#5c5cf0"/><path d="M180.0,300.0 C190.7,291.3 202.5,294.0 214.0,294.0 C225.5,294.0 235.5,297.2 249.0,300.0 C262.5,302.8 286.3,301.5 295.0,311.0 C303.7,320.5 302.8,341.5 301.0,357.0 C299.2,372.5 302.3,394.3 284.0,404.0 C265.7,413.7 214.2,417.0 191.0,415.0 C167.8,413.0 151.8,403.5 145.0,392.0 C138.2,380.5 144.2,361.3 150.0,346.0 C155.8,330.7 169.3,308.7 180.0,300.0Z" fill="#ffffff"/><path d="M133.0,288.0 C137.8,281.7 153.3,277.0 162.0,279.0 C170.7,281.0 182.0,292.7 185.0,300.0 C188.0,307.3 185.8,318.2 180.0,323.0 C174.2,327.8 157.8,330.0 150.0,329.0 C142.2,328.0 135.8,323.8 133.0,317.0 C130.2,310.2 128.2,294.3 133.0,288.0Z" fill="#f2f25c"/><path d="M160.0,240.0 C163.3,234.0 168.7,228.3 172.0,232.0 C175.3,235.7 179.3,250.7 180.0,262.0 C180.7,273.3 179.3,290.7 176.0,300.0 C172.7,309.3 164.3,318.0 160.0,318.0 C155.7,318.0 151.3,308.3 150.0,300.0 C148.7,291.7 150.3,278.0 152.0,268.0 C153.7,258.0 156.7,246.0 160.0,240.0Z" fill="#c4c4c4"/><path d="M297.0,30.0 C303.2,27.5 318.7,24.5 331.0,25.0 C343.3,25.5 356.8,27.8 371.0,33.0 C385.2,38.2 402.8,50.2 416.0,56.0 C429.2,61.8 439.8,64.2 450.0,68.0 C460.2,71.8 472.5,61.7 477.0,79.0 C481.5,96.3 482.5,158.8 477.0,172.0 C471.5,185.2 454.2,165.0 444.0,158.0 C433.8,151.0 425.3,138.5 416.0,130.0 C406.7,121.5 397.3,113.7 388.0,107.0 C378.7,100.3 369.5,96.5 360.0,90.0 C350.5,83.5 340.5,74.5 331.0,68.0 C321.5,61.5 309.2,55.7 303.0,51.0 C296.8,46.3 295.0,43.5 294.0,40.0 C293.0,36.5 290.8,32.5 297.0,30.0Z" fill="#5ef2f0"/><path d="M371.0,57.0 C373.8,53.2 388.7,53.3 399.0,56.0 C409.3,58.7 420.0,68.2 433.0,73.0 C446.0,77.8 469.7,75.5 477.0,85.0 C484.3,94.5 481.5,124.3 477.0,130.0 C472.5,135.7 460.2,124.7 450.0,119.0 C439.8,113.3 427.3,102.7 416.0,96.0 C404.7,89.3 389.5,85.5 382.0,79.0 C374.5,72.5 368.2,60.8 371.0,57.0Z" fill="#5ca6f4"/><path d="M365.0,147.0 C368.8,144.2 378.5,141.0 388.0,141.0 C397.5,141.0 412.7,144.5 422.0,147.0 C431.3,149.5 434.8,154.5 444.0,156.0 C453.2,157.5 471.5,150.8 477.0,156.0 C482.5,161.2 482.5,181.8 477.0,187.0 C471.5,192.2 454.2,184.3 444.0,187.0 C433.8,189.7 423.5,202.2 416.0,203.0 C408.5,203.8 404.7,196.7 399.0,192.0 C393.3,187.3 387.7,180.7 382.0,175.0 C376.3,169.3 367.8,162.7 365.0,158.0 C362.2,153.3 361.2,149.8 365.0,147.0Z" fill="#5ef2f0"/><path d="M421.0,167.0 C423.0,164.5 436.0,163.7 440.0,165.0 C444.0,166.3 447.0,172.5 445.0,175.0 C443.0,177.5 432.0,181.3 428.0,180.0 C424.0,178.7 419.0,169.5 421.0,167.0Z" fill="#5ca6f4"/><path d="M440.0,165.0 C445.3,163.0 470.8,159.2 477.0,160.0 C483.2,160.8 482.3,168.0 477.0,170.0 C471.7,172.0 451.2,172.8 445.0,172.0 C438.8,171.2 434.7,167.0 440.0,165.0Z" fill="#5ca6f4"/><path d="M270.0,222.0 C274.2,213.7 289.2,216.3 300.0,215.0 C310.8,213.7 319.2,212.3 335.0,214.0 C350.8,215.7 377.5,221.3 395.0,225.0 C412.5,228.7 426.3,232.7 440.0,236.0 C453.7,239.3 470.8,234.0 477.0,245.0 C483.2,256.0 483.2,292.8 477.0,302.0 C470.8,311.2 451.2,300.0 440.0,300.0 C428.8,300.0 422.5,298.3 410.0,302.0 C397.5,305.7 378.3,314.8 365.0,322.0 C351.7,329.2 340.8,340.0 330.0,345.0 C319.2,350.0 307.5,354.5 300.0,352.0 C292.5,349.5 288.0,338.7 285.0,330.0 C282.0,321.3 283.7,310.8 282.0,300.0 C280.3,289.2 277.0,278.0 275.0,265.0 C273.0,252.0 265.8,230.3 270.0,222.0Z" fill="#5ef2f0"/><path d="M300.0,232.0 C307.3,227.0 326.7,229.3 340.0,230.0 C353.3,230.7 365.0,232.0 380.0,236.0 C395.0,240.0 413.8,248.7 430.0,254.0 C446.2,259.3 469.2,261.7 477.0,268.0 C484.8,274.3 484.8,288.8 477.0,292.0 C469.2,295.2 447.0,287.0 430.0,287.0 C413.0,287.0 391.7,290.7 375.0,292.0 C358.3,293.3 341.5,296.2 330.0,295.0 C318.5,293.8 311.7,290.8 306.0,285.0 C300.3,279.2 297.0,268.8 296.0,260.0 C295.0,251.2 292.7,237.0 300.0,232.0Z" fill="#5ca6f4"/><path d="M338.0,240.0 C340.7,236.3 351.0,234.7 356.0,236.0 C361.0,237.3 367.7,243.7 368.0,248.0 C368.3,252.3 362.7,260.3 358.0,262.0 C353.3,263.7 343.3,261.7 340.0,258.0 C336.7,254.3 335.3,243.7 338.0,240.0Z" fill="#5c5cf0"/><path d="M292.0,262.0 C293.7,254.7 296.7,253.7 300.0,256.0 C303.3,258.3 310.3,268.7 312.0,276.0 C313.7,283.3 312.0,292.7 310.0,300.0 C308.0,307.3 303.3,320.0 300.0,320.0 C296.7,320.0 291.3,309.7 290.0,300.0 C288.7,290.3 290.3,269.3 292.0,262.0Z" fill="#ffffff"/><path d="M230.0,48.0 C230.7,46.3 234.7,45.0 236.0,46.0 C237.3,47.0 238.7,52.3 238.0,54.0 C237.3,55.7 233.3,57.0 232.0,56.0 C230.7,55.0 229.3,49.7 230.0,48.0Z" fill="#5ef2f0"/><path d="M323.2,122.0 C321.5,123.3 318.9,123.6 316.0,123.0 C313.1,122.4 309.5,120.8 306.0,118.4 C302.5,116.0 298.4,112.6 294.8,108.8 C291.1,105.0 287.3,100.3 284.1,95.8 C280.9,91.2 277.8,85.9 275.5,81.2 C273.2,76.5 271.3,71.5 270.3,67.4 C269.3,63.3 268.9,59.3 269.4,56.4 C269.8,53.5 271.0,51.2 272.8,50.0 C274.5,48.7 277.1,48.4 280.0,49.0 C282.9,49.6 286.5,51.2 290.0,53.6 C293.5,56.0 297.6,59.4 301.2,63.2 C304.9,67.0 308.7,71.7 311.9,76.2 C315.1,80.8 318.2,86.1 320.5,90.8 C322.8,95.5 324.7,100.5 325.7,104.6 C326.7,108.7 327.1,112.7 326.6,115.6 C326.2,118.5 325.0,120.8 323.2,122.0Z" fill="none" stroke="#333" stroke-width="2.0"/><path d="M208.0,108.0 C216.7,97.3 232.3,87.5 243.0,85.0 C253.7,82.5 264.3,85.2 272.0,93.0 C279.7,100.8 286.2,115.0 289.0,132.0 C291.8,149.0 291.8,174.8 289.0,195.0 C286.2,215.2 278.7,235.5 272.0,253.0 C265.3,270.5 257.7,285.5 249.0,300.0 C240.3,314.5 229.7,329.5 220.0,340.0 C210.3,350.5 199.7,359.2 191.0,363.0 C182.3,366.8 173.8,367.8 168.0,363.0 C162.2,358.2 156.3,348.5 156.0,334.0 C155.7,319.5 162.0,297.2 166.0,276.0 C170.0,254.8 175.8,228.2 180.0,207.0 C184.2,185.8 186.3,165.5 191.0,149.0 C195.7,132.5 199.3,118.7 208.0,108.0Z" fill="none" stroke="#1e1e1e" stroke-width="2.1"/><path d="M207.6,119.5 C215.0,110.3 228.5,101.9 237.7,99.7 C246.9,97.5 256.0,99.8 262.6,106.6 C269.2,113.3 274.8,125.5 277.2,140.1 C279.7,154.7 279.7,177.0 277.2,194.3 C274.8,211.6 268.4,229.1 262.6,244.2 C256.9,259.2 250.3,272.1 242.8,284.6 C235.4,297.1 226.2,310.0 217.9,319.0 C209.6,328.0 200.4,335.5 193.0,338.8 C185.5,342.1 178.2,342.9 173.2,338.8 C168.2,334.6 163.1,326.3 162.9,313.8 C162.6,301.4 168.0,282.2 171.5,264.0 C174.9,245.8 179.9,222.8 183.5,204.6 C187.1,186.4 188.9,168.9 193.0,154.7 C197.0,140.6 200.1,128.7 207.6,119.5Z" fill="none" stroke="#1e1e1e" stroke-width="2.1"/><path d="M207.2,131.0 C213.4,123.3 224.7,116.2 232.4,114.4 C240.0,112.6 247.7,114.5 253.2,120.2 C258.8,125.8 263.4,136.0 265.5,148.2 C267.5,160.5 267.5,179.1 265.5,193.6 C263.4,208.1 258.0,222.8 253.2,235.4 C248.4,248.0 242.9,258.8 236.7,269.2 C230.4,279.6 222.8,290.4 215.8,298.0 C208.8,305.6 201.2,311.8 194.9,314.6 C188.7,317.3 182.6,318.0 178.4,314.6 C174.2,311.1 170.0,304.1 169.7,293.7 C169.5,283.2 174.0,267.2 176.9,251.9 C179.8,236.7 184.0,217.5 187.0,202.2 C190.0,187.0 191.6,172.4 194.9,160.5 C198.3,148.6 200.9,138.6 207.2,131.0Z" fill="none" stroke="#1e1e1e" stroke-width="2.1"/><path d="M206.7,142.4 C211.8,136.3 220.9,130.5 227.0,129.1 C233.2,127.6 239.4,129.2 243.9,133.7 C248.3,138.3 252.1,146.5 253.7,156.4 C255.4,166.2 255.4,181.2 253.7,192.9 C252.1,204.6 247.7,216.4 243.9,226.5 C240.0,236.7 235.5,245.4 230.5,253.8 C225.5,262.2 219.3,270.9 213.7,277.0 C208.1,283.1 201.9,288.1 196.9,290.3 C191.9,292.6 186.9,293.1 183.5,290.3 C180.2,287.5 176.8,281.9 176.6,273.5 C176.4,265.1 180.1,252.2 182.4,239.9 C184.7,227.6 188.1,212.1 190.5,199.9 C192.9,187.6 194.2,175.8 196.9,166.2 C199.6,156.7 201.7,148.6 206.7,142.4Z" fill="none" stroke="#1e1e1e" stroke-width="2.1"/><path d="M206.3,153.9 C210.1,149.2 217.0,144.9 221.7,143.8 C226.4,142.7 231.1,143.9 234.5,147.3 C237.9,150.8 240.7,157.0 242.0,164.5 C243.2,172.0 243.2,183.3 242.0,192.2 C240.7,201.1 237.4,210.0 234.5,217.7 C231.5,225.4 228.2,232.0 224.4,238.4 C220.5,244.8 215.9,251.4 211.6,256.0 C207.3,260.6 202.7,264.4 198.8,266.1 C195.0,267.8 191.3,268.2 188.7,266.1 C186.2,264.0 183.6,259.7 183.4,253.4 C183.3,247.0 186.1,237.2 187.8,227.8 C189.6,218.5 192.2,206.8 194.0,197.5 C195.8,188.2 196.8,179.2 198.8,172.0 C200.9,164.7 202.5,158.6 206.3,153.9Z" fill="none" stroke="#1e1e1e" stroke-width="2.1"/><path d="M205.9,165.4 C208.5,162.2 213.2,159.2 216.4,158.5 C219.6,157.8 222.8,158.6 225.1,160.9 C227.4,163.2 229.3,167.5 230.2,172.6 C231.0,177.7 231.0,185.4 230.2,191.5 C229.3,197.6 227.1,203.7 225.1,208.9 C223.1,214.2 220.8,218.7 218.2,223.0 C215.6,227.3 212.4,231.8 209.5,235.0 C206.6,238.2 203.4,240.8 200.8,241.9 C198.2,243.1 195.7,243.4 193.9,241.9 C192.2,240.4 190.4,237.5 190.3,233.2 C190.2,228.8 192.1,222.2 193.3,215.8 C194.5,209.5 196.2,201.4 197.5,195.1 C198.8,188.8 199.4,182.6 200.8,177.7 C202.2,172.8 203.3,168.6 205.9,165.4Z" fill="none" stroke="#1e1e1e" stroke-width="2.1"/><path d="M167.7,192.8 C166.5,199.0 163.4,217.5 160.3,229.9 C157.2,242.2 152.3,255.8 149.2,267.0 C146.1,278.1 143.4,286.7 141.8,296.6 C140.2,306.5 139.2,318.9 139.6,326.3 C139.9,333.7 141.2,339.3 144.0,341.1 C146.8,343.0 152.6,336.2 156.6,337.4 C160.5,338.6 164.0,345.4 167.7,348.5 C171.4,351.6 177.0,354.7 178.8,355.9" fill="none" stroke="#666" stroke-width="1.6"/><path d="M175.1,203.9 C173.9,210.1 170.2,229.3 167.7,241.0 C165.2,252.7 161.5,263.9 160.3,274.4 C159.1,284.9 157.8,299.1 160.3,304.0 C162.8,309.0 170.8,300.3 175.1,304.0 C179.4,307.7 183.1,320.7 186.2,326.3 C189.3,331.8 192.4,335.5 193.6,337.4" fill="none" stroke="#666" stroke-width="1.6"/><path d="M182.5,215.1 C181.9,221.2 179.4,241.0 178.8,252.1 C178.2,263.2 176.4,275.6 178.8,281.8 C181.3,288.0 189.9,284.3 193.6,289.2 C197.3,294.1 198.6,305.3 201.0,311.4 C203.5,317.6 207.2,323.8 208.5,326.3" fill="none" stroke="#666" stroke-width="1.6"/><path d="M290.0,235.0 C288.7,239.5 283.7,252.8 282.0,262.0 C280.3,271.2 278.3,282.0 280.0,290.0 C281.7,298.0 288.7,303.3 292.0,310.0 C295.3,316.7 300.3,324.2 300.0,330.0 C299.7,335.8 296.3,343.3 290.0,345.0 C283.7,346.7 270.3,340.0 262.0,340.0 C253.7,340.0 245.7,342.0 240.0,345.0 C234.3,348.0 229.7,353.5 228.0,358.0 C226.3,362.5 231.3,367.5 230.0,372.0 C228.7,376.5 221.7,382.8 220.0,385.0" fill="none" stroke="#666" stroke-width="1.6"/><path d="M460.0,140.0 C462.8,139.7 474.2,136.0 477.0,138.0 C479.8,140.0 479.8,150.0 477.0,152.0 C474.2,154.0 462.8,150.3 460.0,150.0" fill="none" stroke="#666" stroke-width="1.4"/></g></svg>
<div class="fr" style="left:346px;top:39px;width:118px;height:108px"></div>
<div class="tk" style="left:375px;top:147px;width:1px;height:2px"></div>
<div class="a" style="left:365.50px;top:149.40px;width:20px;text-align:center;font-size:6.5px;line-height:6.5px;white-space:nowrap;color:#111;"><span style="display:inline-block;transform:scaleX(1.1);transform-origin:50% 50%">70</span></div>
<div class="tk" style="left:405px;top:147px;width:1px;height:2px"></div>
<div class="a" style="left:395.50px;top:149.40px;width:20px;text-align:center;font-size:6.5px;line-height:6.5px;white-space:nowrap;color:#111;"><span style="display:inline-block;transform:scaleX(1.1);transform-origin:50% 50%">80</span></div>
<div class="tk" style="left:435px;top:147px;width:1px;height:2px"></div>
<div class="a" style="left:425.50px;top:149.40px;width:20px;text-align:center;font-size:6.5px;line-height:6.5px;white-space:nowrap;color:#111;"><span style="display:inline-block;transform:scaleX(1.1);transform-origin:50% 50%">90</span></div>
<div class="tk" style="left:344px;top:49.0px;width:2px;height:1px"></div>
<div class="a" style="left:313.80px;top:46.60px;width:30px;text-align:right;font-size:6.5px;line-height:6.5px;white-space:nowrap;color:#111;"><span style="display:inline-block;transform:scaleX(1.08);transform-origin:100% 50%">15.0</span></div>
<div class="tk" style="left:344px;top:65.2px;width:2px;height:1px"></div>
<div class="a" style="left:313.80px;top:62.80px;width:30px;text-align:right;font-size:6.5px;line-height:6.5px;white-space:nowrap;color:#111;"><span style="display:inline-block;transform:scaleX(1.08);transform-origin:100% 50%">12.5</span></div>
<div class="tk" style="left:344px;top:81.4px;width:2px;height:1px"></div>
<div class="a" style="left:313.80px;top:79.00px;width:30px;text-align:right;font-size:6.5px;line-height:6.5px;white-space:nowrap;color:#111;"><span style="display:inline-block;transform:scaleX(1.08);transform-origin:100% 50%">10.0</span></div>
<div class="tk" style="left:344px;top:97.6px;width:2px;height:1px"></div>
<div class="a" style="left:313.80px;top:95.20px;width:30px;text-align:right;font-size:6.5px;line-height:6.5px;white-space:nowrap;color:#111;"><span style="display:inline-block;transform:scaleX(1.08);transform-origin:100% 50%">7.5</span></div>
<div class="tk" style="left:344px;top:113.8px;width:2px;height:1px"></div>
<div class="a" style="left:313.80px;top:111.40px;width:30px;text-align:right;font-size:6.5px;line-height:6.5px;white-space:nowrap;color:#111;"><span style="display:inline-block;transform:scaleX(1.08);transform-origin:100% 50%">5.0</span></div>
<div class="tk" style="left:344px;top:130.0px;width:2px;height:1px"></div>
<div class="a" style="left:313.80px;top:127.60px;width:30px;text-align:right;font-size:6.5px;line-height:6.5px;white-space:nowrap;color:#111;"><span style="display:inline-block;transform:scaleX(1.08);transform-origin:100% 50%">2.5</span></div>
<div class="pl" style="left:328.3px;top:24.30px;font-size:12.3px;line-height:12.3px">(c)</div>
<svg class="p" style="left:73px;top:170px" width="119" height="108" viewBox="0 0 482 437" preserveAspectRatio="none"><defs><clipPath id="cd"><rect x="2.0" y="2.0" width="477.9" height="433.0"/></clipPath></defs><g clip-path="url(#cd)"><path d="M194.0,41.0 C199.7,29.5 211.3,32.0 220.0,31.0 C228.7,30.0 239.7,31.5 246.0,35.0 C252.3,38.5 250.7,41.2 258.0,52.0 C265.3,62.8 279.7,89.0 290.0,100.0 C300.3,111.0 308.3,114.3 320.0,118.0 C331.7,121.7 346.7,122.0 360.0,122.0 C373.3,122.0 386.7,117.0 400.0,118.0 C413.3,119.0 428.3,123.0 440.0,128.0 C451.7,133.0 463.0,143.0 470.0,148.0 C477.0,153.0 480.0,114.7 482.0,158.0 C484.0,201.3 490.7,366.8 482.0,408.0 C473.3,449.2 450.3,405.5 430.0,405.0 C409.7,404.5 381.7,405.8 360.0,405.0 C338.3,404.2 318.3,401.2 300.0,400.0 C281.7,398.8 262.5,398.0 250.0,398.0 C237.5,398.0 233.3,396.3 225.0,400.0 C216.7,403.7 207.5,415.3 200.0,420.0 C192.5,424.7 186.7,428.0 180.0,428.0 C173.3,428.0 166.7,423.8 160.0,420.0 C153.3,416.2 146.5,410.0 140.0,405.0 C133.5,400.0 124.2,402.5 121.0,390.0 C117.8,377.5 117.8,348.3 121.0,330.0 C124.2,311.7 133.5,300.0 140.0,280.0 C146.5,260.0 153.7,231.7 160.0,210.0 C166.3,188.3 173.7,168.3 178.0,150.0 C182.3,131.7 183.3,118.2 186.0,100.0 C188.7,81.8 188.3,52.5 194.0,41.0Z" fill="#5ef2f0"/><path d="M271.0,190.0 C277.0,185.2 295.8,183.0 303.0,186.0 C310.2,189.0 312.8,199.5 314.0,208.0 C315.2,216.5 305.8,230.3 310.0,237.0 C314.2,243.7 328.0,245.0 339.0,248.0 C350.0,251.0 362.7,252.7 376.0,255.0 C389.3,257.3 408.8,257.2 419.0,262.0 C429.2,266.8 436.5,276.7 437.0,284.0 C437.5,291.3 431.0,300.3 422.0,306.0 C413.0,311.7 398.0,315.3 383.0,318.0 C368.0,320.7 345.3,323.2 332.0,322.0 C318.7,320.8 310.8,317.3 303.0,311.0 C295.2,304.7 289.8,293.8 285.0,284.0 C280.2,274.2 277.0,263.5 274.0,252.0 C271.0,240.5 267.5,225.3 267.0,215.0 C266.5,204.7 265.0,194.8 271.0,190.0Z" fill="#ffffff"/><path d="M242.0,268.0 C246.0,263.3 254.0,262.0 262.0,262.0 C270.0,262.0 285.0,263.3 290.0,268.0 C295.0,272.7 295.3,283.8 292.0,290.0 C288.7,296.2 277.3,301.7 270.0,305.0 C262.7,308.3 253.3,312.5 248.0,310.0 C242.7,307.5 239.0,297.0 238.0,290.0 C237.0,283.0 238.0,272.7 242.0,268.0Z" fill="#ffffff"/><path d="M406.0,197.0 C408.7,194.0 423.3,192.5 428.0,194.0 C432.7,195.5 436.7,203.0 434.0,206.0 C431.3,209.0 416.7,213.5 412.0,212.0 C407.3,210.5 403.3,200.0 406.0,197.0Z" fill="#ffffff"/><path d="M462.0,190.0 C465.0,188.0 478.7,186.5 482.0,188.0 C485.3,189.5 485.0,197.0 482.0,199.0 C479.0,201.0 467.3,201.5 464.0,200.0 C460.7,198.5 459.0,192.0 462.0,190.0Z" fill="#ffffff"/><path d="M349.0,201.0 C352.3,198.7 364.5,197.0 370.0,198.0 C375.5,199.0 382.7,204.0 382.0,207.0 C381.3,210.0 371.3,215.2 366.0,216.0 C360.7,216.8 352.8,214.5 350.0,212.0 C347.2,209.5 345.7,203.3 349.0,201.0Z" fill="#5ca6f4"/><path d="M274.0,374.0 C283.5,369.2 316.0,367.2 339.0,360.0 C362.0,352.8 391.5,340.7 412.0,331.0 C432.5,321.3 450.3,312.8 462.0,302.0 C473.7,291.2 478.7,261.2 482.0,266.0 C485.3,270.8 490.2,315.3 482.0,331.0 C473.8,346.7 450.7,352.8 433.0,360.0 C415.3,367.2 395.2,369.2 376.0,374.0 C356.8,378.8 333.7,386.5 318.0,389.0 C302.3,391.5 289.3,391.5 282.0,389.0 C274.7,386.5 264.5,378.8 274.0,374.0Z" fill="#5ca6f4"/><path d="M200.0,52.0 C205.8,42.7 216.3,43.5 225.0,44.0 C233.7,44.5 244.2,50.7 252.0,55.0 C259.8,59.3 264.0,62.8 272.0,70.0 C280.0,77.2 290.3,90.0 300.0,98.0 C309.7,106.0 320.0,114.7 330.0,118.0 C340.0,121.3 349.2,118.7 360.0,118.0 C370.8,117.3 382.5,113.0 395.0,114.0 C407.5,115.0 422.8,118.7 435.0,124.0 C447.2,129.3 460.2,140.7 468.0,146.0 C475.8,151.3 479.7,148.7 482.0,156.0 C484.3,163.3 489.0,186.7 482.0,190.0 C475.0,193.3 454.5,179.0 440.0,176.0 C425.5,173.0 409.5,171.3 395.0,172.0 C380.5,172.7 366.3,175.3 353.0,180.0 C339.7,184.7 327.2,192.5 315.0,200.0 C302.8,207.5 289.5,215.0 280.0,225.0 C270.5,235.0 264.7,247.5 258.0,260.0 C251.3,272.5 246.3,286.7 240.0,300.0 C233.7,313.3 225.8,326.7 220.0,340.0 C214.2,353.3 210.0,369.2 205.0,380.0 C200.0,390.8 195.8,401.7 190.0,405.0 C184.2,408.3 176.7,403.3 170.0,400.0 C163.3,396.7 157.5,390.8 150.0,385.0 C142.5,379.2 129.8,374.2 125.0,365.0 C120.2,355.8 119.0,340.8 121.0,330.0 C123.0,319.2 132.2,311.7 137.0,300.0 C141.8,288.3 145.3,276.7 150.0,260.0 C154.7,243.3 160.0,218.3 165.0,200.0 C170.0,181.7 175.8,166.7 180.0,150.0 C184.2,133.3 186.7,116.3 190.0,100.0 C193.3,83.7 194.2,61.3 200.0,52.0Z" fill="#5ca6f4"/><path d="M217.0,72.0 C221.7,64.0 228.5,63.2 236.0,62.0 C243.5,60.8 254.3,60.7 262.0,65.0 C269.7,69.3 275.2,79.8 282.0,88.0 C288.8,96.2 295.0,106.7 303.0,114.0 C311.0,121.3 319.8,128.0 330.0,132.0 C340.2,136.0 353.2,138.7 364.0,138.0 C374.8,137.3 383.3,128.3 395.0,128.0 C406.7,127.7 422.0,131.5 434.0,136.0 C446.0,140.5 459.0,150.5 467.0,155.0 C475.0,159.5 479.5,158.3 482.0,163.0 C484.5,167.7 490.0,181.7 482.0,183.0 C474.0,184.3 448.7,173.7 434.0,171.0 C419.3,168.3 407.5,166.3 394.0,167.0 C380.5,167.7 366.7,170.3 353.0,175.0 C339.3,179.7 324.2,187.5 312.0,195.0 C299.8,202.5 289.3,210.0 280.0,220.0 C270.7,230.0 262.5,243.3 256.0,255.0 C249.5,266.7 245.7,279.2 241.0,290.0 C236.3,300.8 232.8,310.0 228.0,320.0 C223.2,330.0 217.0,340.0 212.0,350.0 C207.0,360.0 202.3,373.3 198.0,380.0 C193.7,386.7 190.3,390.0 186.0,390.0 C181.7,390.0 178.0,385.0 172.0,380.0 C166.0,375.0 156.7,365.8 150.0,360.0 C143.3,354.2 134.2,350.8 132.0,345.0 C129.8,339.2 133.7,335.8 137.0,325.0 C140.3,314.2 146.8,296.2 152.0,280.0 C157.2,263.8 163.7,241.8 168.0,228.0 C172.3,214.2 173.7,210.0 178.0,197.0 C182.3,184.0 189.0,164.5 194.0,150.0 C199.0,135.5 204.2,123.0 208.0,110.0 C211.8,97.0 212.3,80.0 217.0,72.0Z" fill="#5c5cf0"/><path d="M246.0,222.0 C248.3,218.3 251.7,221.7 252.0,228.0 C252.3,234.3 250.0,250.5 248.0,260.0 C246.0,269.5 242.3,281.7 240.0,285.0 C237.7,288.3 234.3,285.8 234.0,280.0 C233.7,274.2 236.0,259.7 238.0,250.0 C240.0,240.3 243.7,225.7 246.0,222.0Z" fill="#5ef2f0"/><path d="M277.0,38.0 C280.5,33.8 294.3,31.0 303.0,33.0 C311.7,35.0 322.0,42.5 329.0,50.0 C336.0,57.5 341.5,69.0 345.0,78.0 C348.5,87.0 350.8,98.3 350.0,104.0 C349.2,109.7 344.3,112.7 340.0,112.0 C335.7,111.3 330.2,105.3 324.0,100.0 C317.8,94.7 310.0,87.0 303.0,80.0 C296.0,73.0 286.3,65.0 282.0,58.0 C277.7,51.0 273.5,42.2 277.0,38.0Z" fill="#f2f25c"/><path d="M293.0,52.0 C296.5,50.0 308.0,47.7 314.0,51.0 C320.0,54.3 325.7,64.2 329.0,72.0 C332.3,79.8 334.8,93.7 334.0,98.0 C333.2,102.3 328.8,101.0 324.0,98.0 C319.2,95.0 310.2,85.8 305.0,80.0 C299.8,74.2 295.0,67.7 293.0,63.0 C291.0,58.3 289.5,54.0 293.0,52.0Z" fill="#f4a45c"/><path d="M306.0,72.0 C308.5,70.8 317.5,73.5 321.0,77.0 C324.5,80.5 327.8,90.2 327.0,93.0 C326.2,95.8 319.5,95.5 316.0,94.0 C312.5,92.5 307.7,87.7 306.0,84.0 C304.3,80.3 303.5,73.2 306.0,72.0Z" fill="#f45c5c"/><path d="M194.0,108.0 C195.8,103.3 203.2,98.8 206.0,100.0 C208.8,101.2 211.2,109.7 211.0,115.0 C210.8,120.3 207.7,129.8 205.0,132.0 C202.3,134.2 196.8,132.0 195.0,128.0 C193.2,124.0 192.2,112.7 194.0,108.0Z" fill="#f4a45c"/><path d="M198.0,110.0 C198.8,107.0 203.5,104.7 205.0,106.0 C206.5,107.3 207.8,115.0 207.0,118.0 C206.2,121.0 201.5,125.3 200.0,124.0 C198.5,122.7 197.2,113.0 198.0,110.0Z" fill="#f45c5c"/><path d="M180.0,145.0 C181.0,141.7 186.3,139.8 188.0,142.0 C189.7,144.2 191.0,154.7 190.0,158.0 C189.0,161.3 183.7,164.2 182.0,162.0 C180.3,159.8 179.0,148.3 180.0,145.0Z" fill="#f4a45c"/><path d="M178.0,185.0 C178.8,181.3 182.8,180.7 184.0,184.0 C185.2,187.3 185.8,201.3 185.0,205.0 C184.2,208.7 180.2,209.3 179.0,206.0 C177.8,202.7 177.2,188.7 178.0,185.0Z" fill="#f2f25c"/><path d="M290.0,205.0 C291.7,200.3 297.3,200.3 300.0,202.0 C302.7,203.7 306.0,209.7 306.0,215.0 C306.0,220.3 302.7,231.5 300.0,234.0 C297.3,236.5 291.7,234.8 290.0,230.0 C288.3,225.2 288.3,209.7 290.0,205.0Z" fill="#f2f25c"/><path d="M448.0,128.0 C449.7,125.2 457.3,123.0 462.0,125.0 C466.7,127.0 475.0,136.2 476.0,140.0 C477.0,143.8 472.0,147.7 468.0,148.0 C464.0,148.3 455.3,145.3 452.0,142.0 C448.7,138.7 446.3,130.8 448.0,128.0Z" fill="#f2f25c"/><path d="M293.0,210.0 C294.3,206.3 303.5,206.0 306.0,208.0 C308.5,210.0 309.3,218.3 308.0,222.0 C306.7,225.7 300.5,232.0 298.0,230.0 C295.5,228.0 291.7,213.7 293.0,210.0Z" fill="#f2f25c"/><path d="M253.0,278.0 C253.8,275.0 257.8,273.7 259.0,276.0 C260.2,278.3 260.8,289.0 260.0,292.0 C259.2,295.0 255.2,296.3 254.0,294.0 C252.8,291.7 252.2,281.0 253.0,278.0Z" fill="#f2f25c"/><path d="M152.0,416.0 C154.0,412.2 160.0,410.5 162.0,414.0 C164.0,417.5 166.0,433.2 164.0,437.0 C162.0,440.8 152.0,440.5 150.0,437.0 C148.0,433.5 150.0,419.8 152.0,416.0Z" fill="#f2f25c"/><path d="M327.8,146.6 C325.5,148.2 322.2,148.8 318.7,148.2 C315.1,147.6 310.7,145.7 306.3,143.0 C302.0,140.3 297.2,136.4 292.8,132.0 C288.4,127.6 283.8,122.1 280.0,116.6 C276.2,111.2 272.6,105.0 269.9,99.4 C267.3,93.7 265.2,87.8 264.2,82.8 C263.1,77.8 262.9,73.0 263.5,69.5 C264.2,65.9 265.9,63.0 268.2,61.4 C270.5,59.8 273.8,59.2 277.3,59.8 C280.9,60.4 285.3,62.3 289.7,65.0 C294.0,67.7 298.8,71.6 303.2,76.0 C307.6,80.4 312.2,85.9 316.0,91.4 C319.8,96.8 323.4,103.0 326.1,108.6 C328.7,114.3 330.8,120.2 331.8,125.2 C332.9,130.2 333.1,135.0 332.5,138.5 C331.8,142.1 330.1,145.0 327.8,146.6Z" fill="none" stroke="#333" stroke-width="2.0"/><path d="M197.0,124.0 C203.8,114.8 217.0,105.0 226.0,104.0 C235.0,103.0 244.8,108.8 251.0,118.0 C257.2,127.2 261.8,142.5 263.0,159.0 C264.2,175.5 261.3,198.7 258.0,217.0 C254.7,235.3 249.3,252.7 243.0,269.0 C236.7,285.3 227.7,301.5 220.0,315.0 C212.3,328.5 203.8,343.2 197.0,350.0 C190.2,356.8 183.8,358.8 179.0,356.0 C174.2,353.2 169.5,345.7 168.0,333.0 C166.5,320.3 168.5,300.3 170.0,280.0 C171.5,259.7 174.5,231.2 177.0,211.0 C179.5,190.8 181.7,173.5 185.0,159.0 C188.3,144.5 190.2,133.2 197.0,124.0Z" fill="none" stroke="#1e1e1e" stroke-width="2.1"/><path d="M199.9,137.0 C205.6,129.3 216.7,121.0 224.2,120.2 C231.8,119.3 240.1,124.2 245.2,131.9 C250.4,139.6 254.3,152.5 255.3,166.4 C256.3,180.2 253.9,199.7 251.1,215.1 C248.3,230.5 243.8,245.0 238.5,258.8 C233.2,272.5 225.6,286.1 219.2,297.4 C212.8,308.7 205.6,321.1 199.9,326.8 C194.1,332.5 188.8,334.2 184.8,331.8 C180.7,329.5 176.8,323.2 175.5,312.5 C174.3,301.9 175.9,285.1 177.2,268.0 C178.5,250.9 181.0,227.0 183.1,210.0 C185.2,193.1 187.0,178.5 189.8,166.4 C192.6,154.2 194.1,144.7 199.9,137.0Z" fill="none" stroke="#1e1e1e" stroke-width="2.1"/><path d="M202.8,149.9 C207.4,143.7 216.4,137.0 222.5,136.3 C228.6,135.6 235.3,139.6 239.5,145.8 C243.7,152.1 246.8,162.5 247.6,173.7 C248.4,184.9 246.5,200.7 244.2,213.2 C242.0,225.6 238.3,237.4 234.0,248.5 C229.7,259.6 223.6,270.6 218.4,279.8 C213.2,289.0 207.4,299.0 202.8,303.6 C198.1,308.2 193.8,309.6 190.5,307.7 C187.2,305.8 184.1,300.7 183.0,292.0 C182.0,283.4 183.4,269.8 184.4,256.0 C185.4,242.2 187.5,222.8 189.2,209.1 C190.9,195.4 192.3,183.6 194.6,173.7 C196.9,163.9 198.1,156.2 202.8,149.9Z" fill="none" stroke="#1e1e1e" stroke-width="2.1"/><path d="M205.6,162.9 C209.2,158.1 216.0,153.0 220.7,152.5 C225.4,152.0 230.5,155.0 233.7,159.8 C236.9,164.5 239.4,172.5 240.0,181.1 C240.6,189.7 239.1,201.7 237.4,211.2 C235.6,220.8 232.9,229.8 229.6,238.3 C226.3,246.8 221.6,255.2 217.6,262.2 C213.6,269.2 209.2,276.8 205.6,280.4 C202.1,284.0 198.8,285.0 196.3,283.5 C193.8,282.0 191.3,278.1 190.6,271.6 C189.8,265.0 190.8,254.6 191.6,244.0 C192.4,233.4 193.9,218.6 195.2,208.1 C196.5,197.6 197.7,188.6 199.4,181.1 C201.1,173.5 202.1,167.6 205.6,162.9Z" fill="none" stroke="#1e1e1e" stroke-width="2.1"/><path d="M208.5,175.8 C211.0,172.5 215.7,169.0 219.0,168.6 C222.2,168.3 225.7,170.4 228.0,173.7 C230.2,177.0 231.9,182.5 232.3,188.4 C232.7,194.4 231.7,202.7 230.5,209.3 C229.3,215.9 227.4,222.2 225.1,228.0 C222.8,233.9 219.6,239.7 216.8,244.6 C214.0,249.5 211.0,254.7 208.5,257.2 C206.1,259.7 203.8,260.4 202.0,259.4 C200.3,258.3 198.6,255.6 198.1,251.1 C197.5,246.5 198.3,239.3 198.8,232.0 C199.3,224.7 200.4,214.4 201.3,207.2 C202.2,199.9 203.0,193.7 204.2,188.4 C205.4,183.2 206.1,179.1 208.5,175.8Z" fill="none" stroke="#1e1e1e" stroke-width="2.1"/><path d="M211.4,188.8 C212.8,187.0 215.4,185.0 217.2,184.8 C219.0,184.6 221.0,185.8 222.2,187.6 C223.4,189.4 224.4,192.5 224.6,195.8 C224.8,199.1 224.3,203.7 223.6,207.4 C222.9,211.1 221.9,214.5 220.6,217.8 C219.3,221.1 217.5,224.3 216.0,227.0 C214.5,229.7 212.8,232.6 211.4,234.0 C210.0,235.4 208.8,235.8 207.8,235.2 C206.8,234.6 205.9,233.1 205.6,230.6 C205.3,228.1 205.7,224.1 206.0,220.0 C206.3,215.9 206.9,210.2 207.4,206.2 C207.9,202.2 208.3,198.7 209.0,195.8 C209.7,192.9 210.0,190.6 211.4,188.8Z" fill="none" stroke="#1e1e1e" stroke-width="2.1"/><path d="M272.0,268.0 C275.8,271.0 285.2,281.2 292.0,288.0 C298.8,294.8 307.3,302.0 313.0,309.0 C318.7,316.0 324.2,323.2 326.0,330.0 C327.8,336.8 327.8,345.3 324.0,350.0 C320.2,354.7 313.3,357.0 303.0,358.0 C292.7,359.0 271.0,354.7 262.0,356.0 C253.0,357.3 252.5,360.8 249.0,366.0 C245.5,371.2 244.2,382.2 241.0,387.0 C237.8,391.8 234.0,395.8 230.0,395.0 C226.0,394.2 220.0,388.5 217.0,382.0 C214.0,375.5 211.5,364.7 212.0,356.0 C212.5,347.3 216.0,336.0 220.0,330.0 C224.0,324.0 230.8,323.5 236.0,320.0 C241.2,316.5 246.7,314.3 251.0,309.0 C255.3,303.7 259.0,294.5 262.0,288.0 C265.0,281.5 267.3,273.3 269.0,270.0 C270.7,266.7 268.2,265.0 272.0,268.0Z" fill="none" stroke="#555" stroke-width="1.8"/></g></svg>
<div class="fr" style="left:73px;top:170px;width:119px;height:108px"></div>
<div class="tk" style="left:102px;top:278px;width:1px;height:2px"></div>
<div class="a" style="left:92.50px;top:280.40px;width:20px;text-align:center;font-size:6.5px;line-height:6.5px;white-space:nowrap;color:#111;"><span style="display:inline-block;transform:scaleX(1.1);transform-origin:50% 50%">70</span></div>
<div class="tk" style="left:132px;top:278px;width:1px;height:2px"></div>
<div class="a" style="left:122.50px;top:280.40px;width:20px;text-align:center;font-size:6.5px;line-height:6.5px;white-space:nowrap;color:#111;"><span style="display:inline-block;transform:scaleX(1.1);transform-origin:50% 50%">80</span></div>
<div class="tk" style="left:162px;top:278px;width:1px;height:2px"></div>
<div class="a" style="left:152.50px;top:280.40px;width:20px;text-align:center;font-size:6.5px;line-height:6.5px;white-space:nowrap;color:#111;"><span style="display:inline-block;transform:scaleX(1.1);transform-origin:50% 50%">90</span></div>
<div class="tk" style="left:71px;top:180.0px;width:2px;height:1px"></div>
<div class="a" style="left:40.80px;top:177.60px;width:30px;text-align:right;font-size:6.5px;line-height:6.5px;white-space:nowrap;color:#111;"><span style="display:inline-block;transform:scaleX(1.08);transform-origin:100% 50%">15.0</span></div>
<div class="tk" style="left:71px;top:196.2px;width:2px;height:1px"></div>
<div class="a" style="left:40.80px;top:193.80px;width:30px;text-align:right;font-size:6.5px;line-height:6.5px;white-space:nowrap;color:#111;"><span style="display:inline-block;transform:scaleX(1.08);transform-origin:100% 50%">12.5</span></div>
<div class="tk" style="left:71px;top:212.4px;width:2px;height:1px"></div>
<div class="a" style="left:40.80px;top:210.00px;width:30px;text-align:right;font-size:6.5px;line-height:6.5px;white-space:nowrap;color:#111;"><span style="display:inline-block;transform:scaleX(1.08);transform-origin:100% 50%">10.0</span></div>
<div class="tk" style="left:71px;top:228.6px;width:2px;height:1px"></div>
<div class="a" style="left:40.80px;top:226.20px;width:30px;text-align:right;font-size:6.5px;line-height:6.5px;white-space:nowrap;color:#111;"><span style="display:inline-block;transform:scaleX(1.08);transform-origin:100% 50%">7.5</span></div>
<div class="tk" style="left:71px;top:244.8px;width:2px;height:1px"></div>
<div class="a" style="left:40.80px;top:242.40px;width:30px;text-align:right;font-size:6.5px;line-height:6.5px;white-space:nowrap;color:#111;"><span style="display:inline-block;transform:scaleX(1.08);transform-origin:100% 50%">5.0</span></div>
<div class="tk" style="left:71px;top:261.0px;width:2px;height:1px"></div>
<div class="a" style="left:40.80px;top:258.60px;width:30px;text-align:right;font-size:6.5px;line-height:6.5px;white-space:nowrap;color:#111;"><span style="display:inline-block;transform:scaleX(1.08);transform-origin:100% 50%">2.5</span></div>
<div class="pl" style="left:45.300000000000004px;top:155.40px;font-size:12.3px;line-height:12.3px">(d)</div>
<div class="a" style="left:47.42px;top:262.70px;width:80px;text-align:center;font-size:7.3px;line-height:7.3px;white-space:nowrap;color:#111;transform-origin:0 0;transform:rotate(-90deg);"><span style="display:inline-block;transform:scaleX(1.14);transform-origin:50% 50%">Height (km)</span></div>
<svg class="p" style="left:210px;top:170px" width="118" height="108" viewBox="0 0 477 437" preserveAspectRatio="none"><defs><clipPath id="ce"><rect x="2.0" y="2.0" width="473.0" height="437.0"/></clipPath></defs><g clip-path="url(#ce)"><path d="M323.9,113.5 C328.3,103.2 337.5,96.5 348.4,92.3 C359.2,88.1 377.5,85.0 389.1,88.3 C400.6,91.5 410.1,103.6 417.6,111.9 C425.0,120.2 431.8,129.5 433.8,138.0 C435.9,146.4 433.8,153.6 429.8,162.4 C425.7,171.2 417.3,182.1 409.4,190.9 C401.5,199.8 384.6,207.9 382.6,215.4 C380.5,222.8 388.0,233.0 397.2,235.7 C406.4,238.5 424.6,233.6 437.9,231.7 C451.2,229.8 470.5,196.2 477.0,224.3 C483.5,252.4 488.9,371.0 477.0,400.3 C465.0,429.7 430.8,400.3 405.3,400.3 C379.8,400.3 345.7,401.1 323.9,400.3 C302.2,399.5 284.6,401.1 275.1,395.4 C265.6,389.7 270.4,375.1 267.0,366.1 C263.6,357.1 257.7,352.5 254.8,341.7 C251.8,330.8 248.6,314.5 249.1,300.9 C249.5,287.3 252.9,271.0 257.2,260.2 C261.5,249.3 266.7,243.9 275.1,235.7 C283.5,227.6 299.8,219.4 307.7,211.3 C315.5,203.1 319.9,196.4 322.3,186.8 C324.8,177.3 322.0,166.5 322.3,154.3 C322.6,142.0 319.6,123.8 323.9,113.5Z" fill="#5ef2f0"/><path d="M428.1,103.7 C431.9,101.3 446.0,100.2 454.2,100.5 C462.3,100.8 473.2,102.1 477.0,105.4 C480.8,108.6 480.8,118.1 477.0,120.0 C473.2,121.9 461.8,117.6 454.2,116.8 C446.6,116.0 435.7,117.3 431.4,115.1 C427.1,113.0 424.3,106.2 428.1,103.7Z" fill="#5ef2f0"/><path d="M356.5,294.4 C359.2,289.7 369.4,285.2 376.9,284.6 C384.3,284.1 396.8,287.3 401.3,291.1 C405.8,294.9 407.1,303.1 403.7,307.4 C400.3,311.8 388.1,316.3 380.9,317.2 C373.7,318.2 364.6,316.9 360.6,313.1 C356.5,309.3 353.8,299.2 356.5,294.4Z" fill="#ffffff"/><path d="M338.6,120.0 C343.8,114.7 354.9,110.0 364.6,110.3 C374.4,110.5 389.7,115.0 397.2,121.7 C404.7,128.3 408.7,142.3 409.4,150.2 C410.1,158.1 407.4,165.3 401.3,168.9 C395.2,172.6 382.3,173.3 372.8,172.2 C363.3,171.1 350.8,167.4 344.3,162.4 C337.8,157.4 334.7,149.1 333.7,142.0 C332.8,135.0 333.4,125.3 338.6,120.0Z" fill="#5ca6f4"/><path d="M350.0,128.2 C353.8,124.4 366.3,120.3 372.8,121.7 C379.3,123.0 387.4,131.2 389.1,136.3 C390.7,141.5 387.3,149.4 382.6,152.6 C377.8,155.9 366.0,157.2 360.6,155.9 C355.1,154.5 351.8,149.1 350.0,144.5 C348.2,139.9 346.2,132.0 350.0,128.2Z" fill="#5c5cf0"/><path d="M338.6,203.1 C340.5,201.2 349.2,200.4 351.6,201.5 C354.1,202.6 355.1,207.8 353.2,209.7 C351.3,211.6 342.7,214.0 340.2,212.9 C337.8,211.8 336.7,205.0 338.6,203.1Z" fill="#5ca6f4"/><path d="M267.0,256.1 C272.9,248.0 288.0,241.2 299.5,239.8 C311.1,238.5 327.7,241.8 336.2,248.0 C344.6,254.1 348.2,265.6 350.0,276.5 C351.8,287.3 351.1,303.6 346.7,313.1 C342.4,322.6 333.2,329.8 323.9,333.5 C314.7,337.2 300.2,337.2 291.4,335.1 C282.6,333.1 275.6,329.0 271.0,321.3 C266.4,313.6 264.4,299.6 263.7,288.7 C263.0,277.8 261.0,264.3 267.0,256.1Z" fill="#5ca6f4"/><path d="M276.7,264.3 C280.5,258.0 292.3,253.3 299.5,253.7 C306.7,254.1 315.8,259.9 319.9,266.7 C323.9,273.5 325.3,287.1 323.9,294.4 C322.6,301.7 317.8,308.0 311.7,310.7 C305.6,313.4 293.1,314.0 287.3,310.7 C281.5,307.4 278.5,298.9 276.7,291.1 C275.0,283.4 272.9,270.5 276.7,264.3Z" fill="#5c5cf0"/><path d="M364.6,349.8 C370.3,341.9 391.8,327.8 405.3,317.2 C418.9,306.6 434.1,293.3 446.0,286.3 C458.0,279.2 471.8,259.9 477.0,274.8 C482.1,289.8 483.5,359.6 477.0,375.9 C470.5,392.2 449.8,374.0 437.9,372.6 C426.0,371.3 416.5,369.1 405.3,367.7 C394.2,366.4 377.9,367.5 371.2,364.5 C364.4,361.5 358.9,357.7 364.6,349.8Z" fill="#5ca6f4"/><path d="M434.6,195.0 C437.0,188.8 443.1,183.3 450.1,180.3 C457.2,177.3 472.5,169.9 477.0,177.1 C481.5,184.3 480.5,216.2 477.0,223.5 C473.4,230.8 462.6,222.0 455.8,221.1 C449.0,220.1 439.8,222.2 436.3,217.8 C432.7,213.5 432.3,201.2 434.6,195.0Z" fill="#f2f25c"/><path d="M444.4,138.0 C447.1,133.3 456.9,129.5 462.3,128.2 C467.8,126.8 474.5,122.8 477.0,129.8 C479.4,136.9 479.7,164.3 477.0,170.6 C474.3,176.8 465.9,169.7 460.7,167.3 C455.5,164.9 448.8,160.8 446.0,155.9 C443.3,151.0 441.7,142.6 444.4,138.0Z" fill="#f2f25c"/><path d="M455.8,139.6 C459.6,137.1 473.4,132.5 477.0,136.3 C480.5,140.1 479.4,158.6 477.0,162.4 C474.5,166.2 466.1,161.0 462.3,159.1 C458.5,157.2 455.3,154.3 454.2,151.0 C453.1,147.7 452.0,142.0 455.8,139.6Z" fill="#f4a45c"/><path d="M291.4,177.1 C292.7,172.5 298.2,170.6 301.2,172.2 C304.1,173.8 308.7,181.7 309.3,186.8 C309.8,192.0 307.1,201.0 304.4,203.1 C301.7,205.3 295.2,204.2 293.0,199.9 C290.8,195.5 290.0,181.7 291.4,177.1Z" fill="#f2f25c"/><path d="M78.5,77.4 C82.0,73.0 91.2,67.6 97.6,67.9 C103.9,68.2 112.6,73.8 116.6,79.3 C120.6,84.9 123.0,95.2 121.4,101.3 C119.8,107.3 113.0,114.0 107.1,115.6 C101.2,117.1 91.2,114.3 86.1,110.8 C81.1,107.3 77.9,100.1 76.6,94.6 C75.3,89.0 75.0,81.9 78.5,77.4Z" fill="#5ef2f0"/><path d="M133.7,153.7 C135.7,145.4 140.7,145.4 143.3,151.8 C145.8,158.1 148.3,178.0 149.0,191.8 C149.6,205.6 149.0,226.8 147.1,234.7 C145.2,242.6 140.1,245.0 137.6,239.5 C135.0,233.9 132.5,215.6 131.8,201.3 C131.2,187.0 131.8,161.9 133.7,153.7Z" fill="#5ef2f0"/><path d="M162.3,115.6 C166.4,109.5 177.4,107.1 183.3,107.9 C189.1,108.7 196.0,111.1 197.5,120.3 C199.1,129.5 195.2,148.9 192.8,163.2 C190.4,177.5 187.2,198.2 183.3,206.1 C179.3,214.0 172.9,214.8 169.0,210.9 C165.0,206.9 161.2,193.4 159.5,182.3 C157.7,171.2 158.0,155.3 158.5,144.1 C159.0,133.0 158.2,121.6 162.3,115.6Z" fill="#f2f25c"/><path d="M169.0,125.1 C171.8,117.8 179.9,116.2 183.3,119.4 C186.6,122.5 189.3,132.9 189.0,144.1 C188.7,155.4 184.2,178.3 181.4,187.0 C178.5,195.8 174.4,200.5 171.8,196.6 C169.3,192.6 166.6,175.1 166.1,163.2 C165.6,151.3 166.1,132.4 169.0,125.1Z" fill="#f4a45c"/><path d="M172.8,134.6 C174.5,130.0 179.6,127.6 181.4,130.8 C183.1,134.0 184.2,146.7 183.3,153.7 C182.3,160.7 177.7,171.9 175.6,172.7 C173.6,173.5 171.4,164.8 170.9,158.4 C170.4,152.1 171.0,139.2 172.8,134.6Z" fill="#f45c5c"/><path d="M64.2,344.3 C70.9,338.8 88.0,331.6 97.6,330.0 C107.1,328.4 118.5,329.2 121.4,334.8 C124.2,340.3 120.3,354.6 114.7,363.4 C109.1,372.1 96.9,383.7 88.0,387.2 C79.1,390.7 66.5,388.3 61.4,384.4 C56.3,380.4 57.1,370.1 57.6,363.4 C58.0,356.7 57.6,349.9 64.2,344.3Z" fill="#f2f25c"/><path d="M143.3,368.1 C146.9,361.8 155.2,357.8 159.5,363.4 C163.7,368.9 167.9,389.3 169.0,401.5 C170.1,413.7 171.7,430.9 166.1,436.8 C160.6,442.7 140.4,442.7 135.7,436.8 C130.9,430.9 136.3,412.9 137.6,401.5 C138.8,390.1 139.6,374.5 143.3,368.1Z" fill="#f2f25c"/><path d="M148.0,387.2 C150.3,382.4 156.1,378.5 158.5,382.4 C160.9,386.4 162.2,402.0 162.3,411.0 C162.5,420.1 162.6,432.5 159.5,436.8 C156.3,441.1 145.6,441.1 143.3,436.8 C140.9,432.5 144.4,419.3 145.2,411.0 C146.0,402.8 145.8,392.0 148.0,387.2Z" fill="#f4a45c"/><path d="M221.4,378.6 C223.6,376.4 230.2,374.5 232.8,376.7 C235.3,378.9 237.5,388.5 236.6,392.0 C235.6,395.5 229.9,398.0 227.1,397.7 C224.2,397.4 220.4,393.2 219.4,390.1 C218.5,386.9 219.1,380.9 221.4,378.6Z" fill="#f2f25c"/><path d="M192.8,44.1 C199.5,36.8 219.4,33.1 230.9,33.6 C242.3,34.1 253.4,39.6 261.3,46.9 C269.3,54.2 275.3,64.4 278.5,77.4 C281.7,90.4 281.2,110.8 280.4,125.1 C279.6,139.4 277.2,148.9 273.7,163.2 C270.2,177.5 264.2,195.0 259.4,210.9 C254.7,226.8 249.9,242.6 245.2,258.5 C240.4,274.4 234.8,290.3 230.9,306.2 C226.9,322.1 224.5,338.0 221.4,353.8 C218.2,369.7 215.8,389.6 211.8,401.5 C207.9,413.4 203.9,421.4 197.5,425.3 C191.2,429.3 182.5,426.9 173.7,425.3 C165.0,423.7 153.4,421.4 145.2,415.8 C136.9,410.2 128.2,402.3 124.2,392.0 C120.3,381.6 120.3,368.1 121.4,353.8 C122.5,339.6 126.9,322.1 130.9,306.2 C134.9,290.3 139.6,276.0 145.2,258.5 C150.7,241.1 157.9,222.0 164.2,201.3 C170.6,180.7 178.8,155.3 183.3,134.6 C187.7,114.0 189.3,92.5 190.9,77.4 C192.5,62.3 186.1,51.4 192.8,44.1Z" fill="#5ef2f0"/><path d="M200.4,58.4 C207.2,52.3 224.5,49.1 235.6,50.7 C246.7,52.3 260.2,58.7 267.1,67.9 C273.9,77.1 275.5,93.3 276.6,106.0 C277.7,118.7 276.3,129.8 273.7,144.1 C271.2,158.4 266.3,175.1 261.3,191.8 C256.4,208.5 249.6,226.8 244.2,244.2 C238.8,261.7 233.4,279.2 229.0,296.7 C224.5,314.1 221.2,332.4 217.5,349.1 C213.9,365.8 211.2,385.1 207.1,396.7 C202.9,408.3 199.1,415.0 192.8,418.7 C186.4,422.3 177.2,420.7 169.0,418.7 C160.7,416.6 149.8,413.9 143.3,406.3 C136.8,398.6 131.8,386.4 129.9,372.9 C128.0,359.4 129.0,342.7 131.8,325.3 C134.7,307.8 141.4,287.1 147.1,268.1 C152.8,249.0 160.1,231.5 166.1,210.9 C172.2,190.2 178.5,164.8 183.3,144.1 C188.0,123.5 191.8,101.3 194.7,87.0 C197.5,72.7 193.6,64.4 200.4,58.4Z" fill="#5ca6f4"/><path d="M251.8,134.6 C256.3,123.5 264.5,117.1 270.9,115.6 C277.2,114.0 285.8,115.6 289.9,125.1 C294.0,134.6 296.3,156.9 295.6,172.7 C295.0,188.6 290.6,204.5 286.1,220.4 C281.7,236.3 274.7,253.8 269.0,268.1 C263.3,282.4 257.2,298.2 251.8,306.2 C246.4,314.1 240.1,318.9 236.6,315.7 C233.1,312.5 230.9,299.8 230.9,287.1 C230.9,274.4 234.4,256.9 236.6,239.5 C238.8,222.0 241.7,199.7 244.2,182.3 C246.7,164.8 247.4,145.7 251.8,134.6Z" fill="#ffffff"/><path d="M209.9,69.8 C216.3,66.0 231.5,62.2 240.4,64.1 C249.3,66.0 259.1,73.3 263.3,81.2 C267.4,89.2 267.4,101.3 265.2,111.7 C262.9,122.2 255.0,130.8 249.9,144.1 C244.8,157.5 239.1,174.3 234.7,191.8 C230.2,209.3 226.8,229.9 223.3,249.0 C219.8,268.1 216.6,288.7 213.7,306.2 C210.9,323.7 209.0,338.8 206.1,353.8 C203.3,368.9 200.4,387.5 196.6,396.7 C192.8,406.0 189.5,407.5 183.3,409.1 C177.1,410.7 166.3,408.8 159.5,406.3 C152.6,403.7 146.0,401.0 142.3,393.9 C138.7,386.7 137.4,376.4 137.6,363.4 C137.7,350.4 139.8,333.2 143.3,315.7 C146.8,298.2 152.8,279.2 158.5,258.5 C164.2,237.9 171.8,214.0 177.6,191.8 C183.3,169.6 188.7,142.6 192.8,125.1 C196.9,107.6 199.5,96.2 202.3,87.0 C205.2,77.7 203.6,73.6 209.9,69.8Z" fill="#5c5cf0"/><path d="M330.9,128.8 C328.9,130.4 326.0,131.2 322.6,130.9 C319.3,130.6 315.1,129.2 311.0,127.1 C306.8,124.9 302.0,121.7 297.7,117.9 C293.3,114.2 288.6,109.5 284.7,104.9 C280.7,100.2 276.9,94.8 274.0,89.8 C271.1,84.8 268.8,79.6 267.3,75.1 C265.9,70.6 265.3,66.3 265.6,62.9 C265.9,59.6 267.2,56.9 269.1,55.2 C271.1,53.6 274.0,52.8 277.4,53.1 C280.7,53.4 284.9,54.8 289.0,56.9 C293.2,59.1 298.0,62.3 302.3,66.1 C306.7,69.8 311.4,74.5 315.3,79.1 C319.3,83.8 323.1,89.2 326.0,94.2 C328.9,99.2 331.2,104.4 332.7,108.9 C334.1,113.4 334.7,117.7 334.4,121.1 C334.1,124.4 332.8,127.1 330.9,128.8Z" fill="none" stroke="#333" stroke-width="2.0"/><path d="M203.0,118.0 C210.7,111.8 225.5,105.0 237.0,104.0 C248.5,103.0 263.3,105.8 272.0,112.0 C280.7,118.2 286.2,126.5 289.0,141.0 C291.8,155.5 291.8,179.7 289.0,199.0 C286.2,218.3 279.7,239.5 272.0,257.0 C264.3,274.5 252.7,290.5 243.0,304.0 C233.3,317.5 223.7,329.3 214.0,338.0 C204.3,346.7 192.7,354.0 185.0,356.0 C177.3,358.0 171.2,356.8 168.0,350.0 C164.8,343.2 165.0,330.5 166.0,315.0 C167.0,299.5 171.3,278.2 174.0,257.0 C176.7,235.8 179.2,207.3 182.0,188.0 C184.8,168.7 187.5,152.7 191.0,141.0 C194.5,129.3 195.3,124.2 203.0,118.0Z" fill="none" stroke="#1e1e1e" stroke-width="2.1"/><path d="M203.3,131.9 C209.8,126.7 222.2,121.0 231.9,120.2 C241.5,119.3 254.0,121.7 261.3,126.9 C268.6,132.1 273.2,139.1 275.6,151.2 C277.9,163.4 277.9,183.7 275.6,200.0 C273.2,216.2 267.7,234.0 261.3,248.7 C254.8,263.4 245.0,276.8 236.9,288.2 C228.8,299.5 220.7,309.4 212.6,316.7 C204.4,324.0 194.6,330.2 188.2,331.8 C181.8,333.5 176.6,332.5 173.9,326.8 C171.3,321.1 171.4,310.4 172.2,297.4 C173.1,284.4 176.7,266.5 179.0,248.7 C181.2,230.9 183.3,207.0 185.7,190.7 C188.1,174.5 190.3,161.0 193.2,151.2 C196.2,141.4 196.9,137.1 203.3,131.9Z" fill="none" stroke="#1e1e1e" stroke-width="2.1"/><path d="M203.6,145.8 C208.9,141.6 218.9,137.0 226.8,136.3 C234.6,135.6 244.7,137.6 250.6,141.8 C256.5,146.0 260.2,151.6 262.1,161.5 C264.0,171.3 264.0,187.8 262.1,200.9 C260.2,214.1 255.8,228.5 250.6,240.4 C245.3,252.3 237.4,263.1 230.8,272.3 C224.3,281.5 217.7,289.5 211.1,295.4 C204.5,301.3 196.6,306.3 191.4,307.7 C186.2,309.0 182.0,308.2 179.8,303.6 C177.7,299.0 177.8,290.3 178.5,279.8 C179.2,269.3 182.1,254.8 183.9,240.4 C185.7,226.0 187.4,206.6 189.4,193.4 C191.3,180.3 193.1,169.4 195.5,161.5 C197.9,153.5 198.4,150.0 203.6,145.8Z" fill="none" stroke="#1e1e1e" stroke-width="2.1"/><path d="M204.0,159.8 C207.9,156.6 215.7,153.0 221.6,152.5 C227.6,152.0 235.3,153.4 239.8,156.6 C244.3,159.8 247.2,164.2 248.7,171.7 C250.2,179.3 250.2,191.8 248.7,201.9 C247.2,211.9 243.8,222.9 239.8,232.0 C235.9,241.1 229.8,249.5 224.8,256.5 C219.7,263.5 214.7,269.7 209.7,274.2 C204.7,278.7 198.6,282.5 194.6,283.5 C190.6,284.6 187.4,284.0 185.8,280.4 C184.1,276.8 184.2,270.3 184.7,262.2 C185.2,254.1 187.5,243.0 188.9,232.0 C190.3,221.0 191.6,206.2 193.0,196.2 C194.5,186.1 195.9,177.8 197.7,171.7 C199.5,165.7 200.0,163.0 204.0,159.8Z" fill="none" stroke="#1e1e1e" stroke-width="2.1"/><path d="M204.3,173.7 C207.0,171.5 212.4,169.0 216.5,168.6 C220.7,168.3 226.0,169.3 229.1,171.5 C232.2,173.7 234.2,176.7 235.2,182.0 C236.3,187.2 236.3,195.9 235.2,202.8 C234.2,209.8 231.9,217.4 229.1,223.7 C226.4,230.0 222.2,235.8 218.7,240.6 C215.2,245.5 211.7,249.8 208.2,252.9 C204.8,256.0 200.6,258.6 197.8,259.4 C195.0,260.1 192.8,259.7 191.7,257.2 C190.5,254.7 190.6,250.2 191.0,244.6 C191.3,239.0 192.9,231.3 193.8,223.7 C194.8,216.1 195.7,205.8 196.7,198.9 C197.7,191.9 198.7,186.2 200.0,182.0 C201.2,177.8 201.5,175.9 204.3,173.7Z" fill="none" stroke="#1e1e1e" stroke-width="2.1"/><path d="M204.6,187.6 C206.1,186.4 209.1,185.0 211.4,184.8 C213.7,184.6 216.7,185.2 218.4,186.4 C220.1,187.6 221.2,189.3 221.8,192.2 C222.4,195.1 222.4,199.9 221.8,203.8 C221.2,207.7 219.9,211.9 218.4,215.4 C216.9,218.9 214.5,222.1 212.6,224.8 C210.7,227.5 208.7,229.9 206.8,231.6 C204.9,233.3 202.5,234.8 201.0,235.2 C199.5,235.6 198.2,235.4 197.6,234.0 C197.0,232.6 197.0,230.1 197.2,227.0 C197.4,223.9 198.3,219.6 198.8,215.4 C199.3,211.2 199.8,205.5 200.4,201.6 C201.0,197.7 201.5,194.5 202.2,192.2 C202.9,189.9 203.1,188.8 204.6,187.6Z" fill="none" stroke="#1e1e1e" stroke-width="2.1"/><path d="M273.5,256.1 C280.3,251.4 291.1,248.0 299.5,248.0 C307.9,248.0 316.5,250.0 323.9,256.1 C331.4,262.2 339.5,274.4 344.3,284.6 C349.0,294.8 352.4,307.0 352.4,317.2 C352.4,327.4 350.4,338.9 344.3,345.7 C338.2,352.5 326.0,356.6 315.8,358.0 C305.6,359.3 292.7,356.6 283.2,353.9 C273.7,351.2 264.0,348.5 258.8,341.7 C253.7,334.9 252.3,324.0 252.3,313.1 C252.3,302.3 255.3,286.0 258.8,276.5 C262.3,267.0 266.7,260.9 273.5,256.1Z" fill="none" stroke="#555" stroke-width="1.4"/><path d="M216.6,344.3 C220.1,338.8 227.7,336.4 230.9,339.6 C234.1,342.7 236.0,355.4 235.6,363.4 C235.3,371.3 232.1,382.4 229.0,387.2 C225.8,392.0 219.8,394.4 216.6,392.0 C213.4,389.6 209.9,380.9 209.9,372.9 C209.9,365.0 213.1,349.9 216.6,344.3Z" fill="none" stroke="#555" stroke-width="1.4"/></g></svg>
<div class="fr" style="left:210px;top:170px;width:118px;height:109px"></div>
<div class="tk" style="left:239px;top:279px;width:1px;height:2px"></div>
<div class="a" style="left:229.50px;top:281.40px;width:20px;text-align:center;font-size:6.5px;line-height:6.5px;white-space:nowrap;color:#111;"><span style="display:inline-block;transform:scaleX(1.1);transform-origin:50% 50%">70</span></div>
<div class="tk" style="left:269px;top:279px;width:1px;height:2px"></div>
<div class="a" style="left:259.50px;top:281.40px;width:20px;text-align:center;font-size:6.5px;line-height:6.5px;white-space:nowrap;color:#111;"><span style="display:inline-block;transform:scaleX(1.1);transform-origin:50% 50%">80</span></div>
<div class="tk" style="left:299px;top:279px;width:1px;height:2px"></div>
<div class="a" style="left:289.50px;top:281.40px;width:20px;text-align:center;font-size:6.5px;line-height:6.5px;white-space:nowrap;color:#111;"><span style="display:inline-block;transform:scaleX(1.1);transform-origin:50% 50%">90</span></div>
<div class="tk" style="left:208px;top:180.0px;width:2px;height:1px"></div>
<div class="a" style="left:177.80px;top:177.60px;width:30px;text-align:right;font-size:6.5px;line-height:6.5px;white-space:nowrap;color:#111;"><span style="display:inline-block;transform:scaleX(1.08);transform-origin:100% 50%">15.0</span></div>
<div class="tk" style="left:208px;top:196.2px;width:2px;height:1px"></div>
<div class="a" style="left:177.80px;top:193.80px;width:30px;text-align:right;font-size:6.5px;line-height:6.5px;white-space:nowrap;color:#111;"><span style="display:inline-block;transform:scaleX(1.08);transform-origin:100% 50%">12.5</span></div>
<div class="tk" style="left:208px;top:212.4px;width:2px;height:1px"></div>
<div class="a" style="left:177.80px;top:210.00px;width:30px;text-align:right;font-size:6.5px;line-height:6.5px;white-space:nowrap;color:#111;"><span style="display:inline-block;transform:scaleX(1.08);transform-origin:100% 50%">10.0</span></div>
<div class="tk" style="left:208px;top:228.6px;width:2px;height:1px"></div>
<div class="a" style="left:177.80px;top:226.20px;width:30px;text-align:right;font-size:6.5px;line-height:6.5px;white-space:nowrap;color:#111;"><span style="display:inline-block;transform:scaleX(1.08);transform-origin:100% 50%">7.5</span></div>
<div class="tk" style="left:208px;top:244.8px;width:2px;height:1px"></div>
<div class="a" style="left:177.80px;top:242.40px;width:30px;text-align:right;font-size:6.5px;line-height:6.5px;white-space:nowrap;color:#111;"><span style="display:inline-block;transform:scaleX(1.08);transform-origin:100% 50%">5.0</span></div>
<div class="tk" style="left:208px;top:261.0px;width:2px;height:1px"></div>
<div class="a" style="left:177.80px;top:258.60px;width:30px;text-align:right;font-size:6.5px;line-height:6.5px;white-space:nowrap;color:#111;"><span style="display:inline-block;transform:scaleX(1.08);transform-origin:100% 50%">2.5</span></div>
<div class="pl" style="left:192.2px;top:155.40px;font-size:12.3px;line-height:12.3px">(e)</div>
<svg class="p" style="left:346px;top:171px" width="118" height="108" viewBox="0 0 477 437" preserveAspectRatio="none"><defs><clipPath id="cf"><rect x="2.0" y="2.0" width="473.0" height="437.0"/></clipPath></defs><g clip-path="url(#cf)"><path d="M214.5,50.0 C219.5,32.0 222.8,44.5 234.5,42.0 C246.1,39.5 267.8,37.0 284.4,35.0 C301.1,33.0 317.7,30.2 334.4,30.0 C351.0,29.8 367.7,32.3 384.3,34.0 C401.0,35.7 418.8,38.2 434.3,40.0 C449.8,41.8 470.1,-10.3 477.2,45.0 C484.4,100.3 484.4,317.5 477.2,372.0 C470.1,426.5 449.8,371.4 434.3,372.0 C418.8,372.7 401.0,376.0 384.3,376.0 C367.7,376.0 351.0,375.0 334.4,372.0 C317.7,369.0 301.1,362.5 284.4,358.0 C267.8,353.5 247.8,349.7 234.5,345.0 C221.1,340.4 211.1,345.9 204.5,330.0 C197.8,314.2 194.5,280.0 194.5,250.0 C194.5,220.0 201.2,183.3 204.5,150.0 C207.8,116.7 209.5,68.0 214.5,50.0Z" fill="#5ef2f0"/><path d="M334.4,112.0 C340.9,106.5 359.3,102.0 369.3,102.0 C379.3,102.0 391.5,107.3 394.3,112.0 C397.1,116.7 383.8,125.3 386.3,130.0 C388.8,134.7 401.3,139.7 409.3,140.0 C417.3,140.3 428.1,130.3 434.3,132.0 C440.4,133.7 448.8,143.7 446.3,150.0 C443.8,156.3 429.6,165.7 419.3,170.0 C409.0,174.3 394.8,173.3 384.3,176.0 C373.8,178.7 364.3,187.7 356.3,186.0 C348.4,184.3 340.7,174.5 336.4,166.0 C332.0,157.5 330.7,144.0 330.4,135.0 C330.0,126.0 327.9,117.5 334.4,112.0Z" fill="#ffffff"/><path d="M419.3,200.0 C423.5,192.2 439.6,195.3 449.3,195.0 C458.9,194.7 472.6,188.5 477.2,198.0 C481.9,207.5 481.9,242.4 477.2,252.0 C472.6,261.7 458.1,257.7 449.3,256.0 C440.4,254.4 429.3,251.4 424.3,242.0 C419.3,232.7 415.1,207.8 419.3,200.0Z" fill="#ffffff"/><path d="M272.4,118.0 C280.4,116.0 295.4,128.0 302.4,138.0 C309.4,148.0 315.4,164.3 314.4,178.0 C313.4,191.7 303.1,210.0 296.4,220.0 C289.7,230.0 281.4,236.4 274.4,238.0 C267.4,239.7 259.4,236.4 254.4,230.0 C249.4,223.7 244.4,213.3 244.4,200.0 C244.4,186.7 249.8,163.7 254.4,150.0 C259.1,136.3 264.4,120.0 272.4,118.0Z" fill="#ffffff"/><path d="M279.4,285.0 C283.2,279.2 292.7,277.5 299.4,280.0 C306.1,282.5 314.9,291.7 319.4,300.0 C323.9,308.4 328.0,322.5 326.4,330.0 C324.7,337.5 316.4,343.4 309.4,345.0 C302.4,346.7 289.9,345.0 284.4,340.0 C278.9,335.0 277.3,324.2 276.4,315.0 C275.6,305.9 275.6,290.9 279.4,285.0Z" fill="#ffffff"/><path d="M267.4,50.0 C271.8,44.3 284.9,40.3 294.4,44.0 C303.9,47.7 317.4,60.7 324.4,72.0 C331.4,83.3 337.7,103.0 336.4,112.0 C335.0,121.0 325.0,127.0 316.4,126.0 C307.7,125.0 292.4,114.0 284.4,106.0 C276.4,98.0 271.3,87.3 268.4,78.0 C265.6,68.7 263.1,55.7 267.4,50.0Z" fill="#ffffff"/><path d="M326.4,52.0 C331.4,47.0 366.3,47.0 384.3,48.0 C402.3,49.0 418.8,54.7 434.3,58.0 C449.8,61.3 470.1,60.7 477.2,68.0 C484.4,75.3 484.4,97.3 477.2,102.0 C470.1,106.7 448.1,98.0 434.3,96.0 C420.5,94.0 407.6,93.0 394.3,90.0 C381.0,87.0 365.7,84.3 354.4,78.0 C343.0,71.7 321.4,57.0 326.4,52.0Z" fill="#5ca6f4"/><path d="M382.3,68.0 C385.0,64.7 396.6,62.7 402.3,64.0 C408.0,65.3 416.0,72.3 416.3,76.0 C416.6,79.7 409.3,84.7 404.3,86.0 C399.3,87.3 390.0,87.0 386.3,84.0 C382.7,81.0 379.7,71.3 382.3,68.0Z" fill="#5c5cf0"/><path d="M454.3,104.0 C457.3,99.3 473.4,95.3 477.2,100.0 C481.1,104.7 480.2,127.3 477.2,132.0 C474.2,136.7 463.1,132.7 459.3,128.0 C455.4,123.3 451.3,108.7 454.3,104.0Z" fill="#5ca6f4"/><path d="M294.4,226.0 C299.7,216.5 319.4,207.7 334.4,205.0 C349.4,202.3 367.7,204.5 384.3,210.0 C401.0,215.5 418.8,230.0 434.3,238.0 C449.8,246.0 470.1,247.4 477.2,258.0 C484.4,268.7 484.4,295.7 477.2,302.0 C470.1,308.4 449.8,300.0 434.3,296.0 C418.8,292.0 401.0,282.0 384.3,278.0 C367.7,274.0 348.0,274.7 334.4,272.0 C320.7,269.4 309.1,269.7 302.4,262.0 C295.7,254.4 289.1,235.5 294.4,226.0Z" fill="#5ca6f4"/><path d="M339.4,240.0 C342.0,234.7 355.7,231.2 362.3,232.0 C369.0,232.9 377.7,239.5 379.3,245.0 C381.0,250.5 377.8,261.9 372.3,265.0 C366.8,268.2 351.9,268.2 346.4,264.0 C340.9,259.9 336.7,245.4 339.4,240.0Z" fill="#5c5cf0"/><path d="M104.0,91.0 C109.8,76.5 113.3,66.3 122.0,62.0 C130.7,57.7 146.3,60.2 156.0,65.0 C165.7,69.8 174.3,85.2 180.0,91.0 C185.7,96.8 184.2,102.7 190.0,100.0 C195.8,97.3 206.7,81.7 215.0,75.0 C223.3,68.3 232.2,65.8 240.0,60.0 C247.8,54.2 252.0,46.7 262.0,40.0 C272.0,33.3 290.3,20.0 300.0,20.0 C309.7,20.0 318.3,23.3 320.0,40.0 C321.7,56.7 313.3,93.3 310.0,120.0 C306.7,146.7 303.3,176.7 300.0,200.0 C296.7,223.3 295.0,243.3 290.0,260.0 C285.0,276.7 276.7,293.3 270.0,300.0 C263.3,306.7 256.7,298.3 250.0,300.0 C243.3,301.7 238.3,305.0 230.0,310.0 C221.7,315.0 210.0,325.0 200.0,330.0 C190.0,335.0 178.3,341.7 170.0,340.0 C161.7,338.3 156.7,319.2 150.0,320.0 C143.3,320.8 136.7,339.7 130.0,345.0 C123.3,350.3 119.2,351.8 110.0,352.0 C100.8,352.2 83.7,354.7 75.0,346.0 C66.3,337.3 59.8,319.3 58.0,300.0 C56.2,280.7 59.2,255.2 64.0,230.0 C68.8,204.8 80.3,172.2 87.0,149.0 C93.7,125.8 98.2,105.5 104.0,91.0Z" fill="#5ef2f0"/><path d="M110.0,103.0 C115.7,89.5 119.3,82.0 127.0,79.0 C134.7,76.0 148.8,77.2 156.0,85.0 C163.2,92.8 166.0,120.2 170.0,126.0 C174.0,131.8 175.8,122.7 180.0,120.0 C184.2,117.3 186.7,114.2 195.0,110.0 C203.3,105.8 217.5,95.8 230.0,95.0 C242.5,94.2 260.8,95.8 270.0,105.0 C279.2,114.2 283.0,132.5 285.0,150.0 C287.0,167.5 285.3,193.3 282.0,210.0 C278.7,226.7 272.8,241.3 265.0,250.0 C257.2,258.7 245.0,260.0 235.0,262.0 C225.0,264.0 214.2,264.0 205.0,262.0 C195.8,260.0 186.5,253.7 180.0,250.0 C173.5,246.3 171.8,237.5 166.0,240.0 C160.2,242.5 152.3,253.2 145.0,265.0 C137.7,276.8 130.7,300.5 122.0,311.0 C113.3,321.5 100.8,328.0 93.0,328.0 C85.2,328.0 78.0,325.3 75.0,311.0 C72.0,296.7 72.0,267.2 75.0,242.0 C78.0,216.8 87.2,183.2 93.0,160.0 C98.8,136.8 104.3,116.5 110.0,103.0Z" fill="#5ca6f4"/><path d="M116.0,126.0 C122.7,110.7 126.7,105.0 133.0,103.0 C139.3,101.0 150.5,100.5 154.0,114.0 C157.5,127.5 157.5,160.8 154.0,184.0 C150.5,207.2 140.3,233.7 133.0,253.0 C125.7,272.3 117.7,290.3 110.0,300.0 C102.3,309.7 91.8,315.0 87.0,311.0 C82.2,307.0 80.0,295.3 81.0,276.0 C82.0,256.7 87.2,220.0 93.0,195.0 C98.8,170.0 109.3,141.3 116.0,126.0Z" fill="#5c5cf0"/><path d="M190.0,150.0 C192.7,140.8 204.7,137.5 210.0,140.0 C215.3,142.5 221.7,155.0 222.0,165.0 C222.3,175.0 216.7,195.0 212.0,200.0 C207.3,205.0 197.7,203.3 194.0,195.0 C190.3,186.7 187.3,159.2 190.0,150.0Z" fill="#5c5cf0"/><path d="M165.0,290.0 C172.0,283.7 188.3,282.8 200.0,282.0 C211.7,281.2 225.0,282.0 235.0,285.0 C245.0,288.0 256.7,290.8 260.0,300.0 C263.3,309.2 256.7,324.7 255.0,340.0 C253.3,355.3 259.2,382.0 250.0,392.0 C240.8,402.0 215.0,399.5 200.0,400.0 C185.0,400.5 168.3,401.7 160.0,395.0 C151.7,388.3 150.3,372.5 150.0,360.0 C149.7,347.5 155.5,331.7 158.0,320.0 C160.5,308.3 158.0,296.3 165.0,290.0Z" fill="#ffffff"/><path d="M325.4,125.7 C323.6,126.9 321.0,127.2 318.0,126.5 C315.1,125.9 311.4,124.1 307.8,121.5 C304.2,119.0 300.0,115.4 296.2,111.4 C292.4,107.5 288.4,102.6 285.1,97.8 C281.7,92.9 278.5,87.5 276.0,82.6 C273.6,77.7 271.6,72.5 270.5,68.3 C269.4,64.0 268.9,59.9 269.3,56.9 C269.6,53.9 270.8,51.6 272.6,50.3 C274.4,49.1 277.0,48.8 280.0,49.5 C282.9,50.1 286.6,51.9 290.2,54.5 C293.8,57.0 298.0,60.6 301.8,64.6 C305.6,68.5 309.6,73.4 312.9,78.2 C316.3,83.1 319.5,88.5 322.0,93.4 C324.4,98.3 326.4,103.5 327.5,107.7 C328.6,112.0 329.1,116.1 328.7,119.1 C328.4,122.1 327.2,124.4 325.4,125.7Z" fill="none" stroke="#333" stroke-width="2.0"/><path d="M208.0,103.0 C214.7,97.2 227.3,86.7 237.0,85.0 C246.7,83.3 257.8,86.2 266.0,93.0 C274.2,99.8 282.2,110.8 286.0,126.0 C289.8,141.2 291.3,164.7 289.0,184.0 C286.7,203.3 278.7,224.7 272.0,242.0 C265.3,259.3 257.7,273.7 249.0,288.0 C240.3,302.3 229.7,316.5 220.0,328.0 C210.3,339.5 199.7,351.2 191.0,357.0 C182.3,362.8 174.2,364.8 168.0,363.0 C161.8,361.2 156.0,356.5 154.0,346.0 C152.0,335.5 153.3,319.3 156.0,300.0 C158.7,280.7 165.2,253.3 170.0,230.0 C174.8,206.7 180.5,178.3 185.0,160.0 C189.5,141.7 193.2,129.5 197.0,120.0 C200.8,110.5 201.3,108.8 208.0,103.0Z" fill="none" stroke="#1e1e1e" stroke-width="2.1"/><path d="M206.9,114.5 C212.6,109.5 223.5,100.4 231.8,99.0 C240.1,97.6 249.7,100.0 256.8,105.9 C263.8,111.8 270.7,121.2 274.0,134.3 C277.3,147.3 278.5,167.5 276.5,184.1 C274.5,200.8 267.7,219.1 261.9,234.0 C256.2,248.9 249.6,261.3 242.1,273.6 C234.7,285.9 225.5,298.1 217.2,308.0 C208.9,317.9 199.7,327.9 192.3,332.9 C184.8,337.9 177.8,339.7 172.5,338.1 C167.2,336.5 162.2,332.5 160.4,323.5 C158.7,314.4 159.9,300.5 162.2,283.9 C164.5,267.3 170.0,243.8 174.2,223.7 C178.4,203.6 183.2,179.3 187.1,163.5 C191.0,147.7 194.1,137.3 197.4,129.1 C200.7,120.9 201.1,119.5 206.9,114.5Z" fill="none" stroke="#1e1e1e" stroke-width="2.1"/><path d="M205.8,126.0 C210.6,121.8 219.7,114.2 226.6,113.0 C233.6,111.8 241.6,113.8 247.5,118.8 C253.4,123.7 259.2,131.6 261.9,142.5 C264.7,153.4 265.8,170.4 264.1,184.3 C262.4,198.2 256.6,213.6 251.8,226.0 C247.0,238.5 241.5,248.8 235.3,259.2 C229.0,269.5 221.4,279.7 214.4,288.0 C207.4,296.2 199.8,304.6 193.5,308.8 C187.3,313.0 181.4,314.5 177.0,313.2 C172.5,311.8 168.3,308.5 166.9,300.9 C165.4,293.4 166.4,281.7 168.3,267.8 C170.2,253.9 174.9,234.2 178.4,217.4 C181.9,200.6 186.0,180.2 189.2,167.0 C192.4,153.8 195.1,145.0 197.8,138.2 C200.6,131.4 201.0,130.2 205.8,126.0Z" fill="none" stroke="#1e1e1e" stroke-width="2.1"/><path d="M204.6,137.4 C208.5,134.1 215.9,128.0 221.5,127.0 C227.1,126.0 233.5,127.7 238.3,131.6 C243.0,135.6 247.7,142.0 249.9,150.8 C252.1,159.6 253.0,173.2 251.6,184.4 C250.3,195.6 245.6,208.0 241.8,218.1 C237.9,228.1 233.4,236.4 228.4,244.7 C223.4,253.1 217.2,261.3 211.6,267.9 C206.0,274.6 199.8,281.4 194.8,284.8 C189.8,288.1 185.0,289.3 181.4,288.2 C177.9,287.2 174.5,284.5 173.3,278.4 C172.2,272.3 172.9,262.9 174.5,251.7 C176.0,240.5 179.8,224.6 182.6,211.1 C185.4,197.6 188.7,181.1 191.3,170.5 C193.9,159.9 196.0,152.8 198.3,147.3 C200.5,141.8 200.8,140.8 204.6,137.4Z" fill="none" stroke="#1e1e1e" stroke-width="2.1"/><path d="M203.5,148.9 C206.5,146.4 212.0,141.7 216.3,141.0 C220.5,140.3 225.4,141.5 229.0,144.5 C232.6,147.5 236.2,152.4 237.8,159.0 C239.5,165.7 240.2,176.1 239.2,184.6 C238.1,193.1 234.6,202.5 231.7,210.1 C228.7,217.7 225.4,224.0 221.6,230.3 C217.7,236.6 213.1,242.9 208.8,247.9 C204.5,253.0 199.9,258.1 196.0,260.7 C192.2,263.2 188.6,264.1 185.9,263.3 C183.2,262.5 180.6,260.5 179.8,255.8 C178.9,251.2 179.5,244.1 180.6,235.6 C181.8,227.1 184.7,215.1 186.8,204.8 C188.9,194.5 191.4,182.1 193.4,174.0 C195.4,165.9 197.0,160.6 198.7,156.4 C200.4,152.2 200.6,151.5 203.5,148.9Z" fill="none" stroke="#1e1e1e" stroke-width="2.1"/><path d="M202.4,160.4 C204.4,158.7 208.2,155.5 211.1,155.0 C214.0,154.5 217.4,155.3 219.8,157.4 C222.2,159.5 224.7,162.8 225.8,167.3 C227.0,171.9 227.4,178.9 226.7,184.7 C226.0,190.5 223.6,196.9 221.6,202.1 C219.6,207.3 217.3,211.6 214.7,215.9 C212.1,220.2 208.9,224.5 206.0,227.9 C203.1,231.3 199.9,234.8 197.3,236.6 C194.7,238.3 192.2,238.9 190.4,238.4 C188.6,237.9 186.8,236.5 186.2,233.3 C185.6,230.2 186.0,225.3 186.8,219.5 C187.6,213.7 189.6,205.5 191.0,198.5 C192.4,191.5 194.2,183.0 195.5,177.5 C196.8,172.0 197.9,168.3 199.1,165.5 C200.2,162.7 200.4,162.2 202.4,160.4Z" fill="none" stroke="#1e1e1e" stroke-width="2.1"/><path d="M201.3,171.9 C202.3,170.9 204.4,169.3 205.9,169.0 C207.5,168.7 209.3,169.2 210.6,170.3 C211.9,171.4 213.1,173.1 213.8,175.6 C214.4,178.0 214.6,181.7 214.2,184.8 C213.9,187.9 212.6,191.3 211.5,194.1 C210.5,196.9 209.2,199.2 207.8,201.5 C206.5,203.8 204.7,206.0 203.2,207.9 C201.7,209.7 199.9,211.6 198.6,212.5 C197.2,213.5 195.9,213.8 194.9,213.5 C193.9,213.2 193.0,212.4 192.6,210.8 C192.3,209.1 192.5,206.5 193.0,203.4 C193.4,200.3 194.4,195.9 195.2,192.2 C196.0,188.5 196.9,183.9 197.6,181.0 C198.3,178.1 198.9,176.1 199.5,174.6 C200.1,173.1 200.2,172.8 201.3,171.9Z" fill="none" stroke="#1e1e1e" stroke-width="2.1"/><path d="M160.3,128.1 C158.0,132.7 148.1,143.4 146.5,155.6 C145.0,167.8 149.6,189.2 151.1,201.4 C152.6,213.6 156.5,218.2 155.7,228.9 C154.9,239.6 149.6,251.8 146.5,265.6 C143.5,279.3 138.1,299.2 137.4,311.4 C136.6,323.6 138.9,332.8 142.0,338.9 C145.0,345.0 151.1,345.8 155.7,348.1 C160.3,350.4 166.4,346.6 169.4,352.7 C172.5,358.8 173.2,379.4 174.0,384.8" fill="none" stroke="#555" stroke-width="1.8"/><path d="M169.4,238.1 C167.9,244.2 161.0,262.5 160.3,274.8 C159.5,287.0 161.0,303.8 164.8,311.4 C168.7,319.1 179.3,314.5 183.2,320.6 C187.0,326.7 187.0,343.5 187.7,348.1" fill="none" stroke="#555" stroke-width="1.8"/><path d="M234.5,250.0 C238.6,247.5 249.4,238.4 259.4,235.0 C269.4,231.7 289.4,224.2 294.4,230.0 C299.4,235.9 291.1,258.4 289.4,270.0 C287.7,281.7 281.1,291.7 284.4,300.0 C287.7,308.4 302.7,314.2 309.4,320.0 C316.1,325.9 325.2,330.9 324.4,335.0 C323.5,339.2 314.4,343.4 304.4,345.0 C294.4,346.7 276.1,345.0 264.4,345.0 C252.8,345.0 242.8,342.5 234.5,345.0 C226.1,347.5 218.6,354.2 214.5,360.0 C210.3,365.9 210.3,376.7 209.5,380.0" fill="none" stroke="#555" stroke-width="1.8"/><path d="M208.8,348.1 C211.1,343.5 217.2,335.9 219.8,338.9 C222.4,342.0 224.4,358.0 224.4,366.4 C224.4,374.8 222.4,386.3 219.8,389.3 C217.2,392.4 211.1,388.6 208.8,384.8 C206.5,380.9 206.1,372.5 206.1,366.4 C206.1,360.3 206.5,352.7 208.8,348.1Z" fill="none" stroke="#555" stroke-width="1.2"/></g></svg>
<div class="fr" style="left:346px;top:171px;width:118px;height:109px"></div>
<div class="tk" style="left:375px;top:280px;width:1px;height:2px"></div>
<div class="a" style="left:365.50px;top:282.40px;width:20px;text-align:center;font-size:6.5px;line-height:6.5px;white-space:nowrap;color:#111;"><span style="display:inline-block;transform:scaleX(1.1);transform-origin:50% 50%">70</span></div>
<div class="tk" style="left:405px;top:280px;width:1px;height:2px"></div>
<div class="a" style="left:395.50px;top:282.40px;width:20px;text-align:center;font-size:6.5px;line-height:6.5px;white-space:nowrap;color:#111;"><span style="display:inline-block;transform:scaleX(1.1);transform-origin:50% 50%">80</span></div>
<div class="tk" style="left:435px;top:280px;width:1px;height:2px"></div>
<div class="a" style="left:425.50px;top:282.40px;width:20px;text-align:center;font-size:6.5px;line-height:6.5px;white-space:nowrap;color:#111;"><span style="display:inline-block;transform:scaleX(1.1);transform-origin:50% 50%">90</span></div>
<div class="tk" style="left:344px;top:181.0px;width:2px;height:1px"></div>
<div class="a" style="left:313.80px;top:178.60px;width:30px;text-align:right;font-size:6.5px;line-height:6.5px;white-space:nowrap;color:#111;"><span style="display:inline-block;transform:scaleX(1.08);transform-origin:100% 50%">15.0</span></div>
<div class="tk" style="left:344px;top:197.2px;width:2px;height:1px"></div>
<div class="a" style="left:313.80px;top:194.80px;width:30px;text-align:right;font-size:6.5px;line-height:6.5px;white-space:nowrap;color:#111;"><span style="display:inline-block;transform:scaleX(1.08);transform-origin:100% 50%">12.5</span></div>
<div class="tk" style="left:344px;top:213.4px;width:2px;height:1px"></div>
<div class="a" style="left:313.80px;top:211.00px;width:30px;text-align:right;font-size:6.5px;line-height:6.5px;white-space:nowrap;color:#111;"><span style="display:inline-block;transform:scaleX(1.08);transform-origin:100% 50%">10.0</span></div>
<div class="tk" style="left:344px;top:229.6px;width:2px;height:1px"></div>
<div class="a" style="left:313.80px;top:227.20px;width:30px;text-align:right;font-size:6.5px;line-height:6.5px;white-space:nowrap;color:#111;"><span style="display:inline-block;transform:scaleX(1.08);transform-origin:100% 50%">7.5</span></div>
<div class="tk" style="left:344px;top:245.8px;width:2px;height:1px"></div>
<div class="a" style="left:313.80px;top:243.40px;width:30px;text-align:right;font-size:6.5px;line-height:6.5px;white-space:nowrap;color:#111;"><span style="display:inline-block;transform:scaleX(1.08);transform-origin:100% 50%">5.0</span></div>
<div class="tk" style="left:344px;top:262.0px;width:2px;height:1px"></div>
<div class="a" style="left:313.80px;top:259.60px;width:30px;text-align:right;font-size:6.5px;line-height:6.5px;white-space:nowrap;color:#111;"><span style="display:inline-block;transform:scaleX(1.08);transform-origin:100% 50%">2.5</span></div>
<div class="pl" style="left:328.4px;top:155.40px;font-size:12.3px;line-height:12.3px">(f)</div>
<svg class="p" style="left:73px;top:303px" width="119" height="108" viewBox="0 0 482 437" preserveAspectRatio="none"><defs><clipPath id="cg"><rect x="2.0" y="2.0" width="477.9" height="433.0"/></clipPath></defs><g clip-path="url(#cg)"><rect x="0" y="0" width="482" height="437" fill="#5ef2f0"/><path d="M0.0,18.0 C7.0,-7.3 34.5,13.7 42.0,16.0 C49.5,18.3 42.3,26.7 45.0,32.0 C47.7,37.3 51.3,42.8 58.0,48.0 C64.7,53.2 78.0,57.0 85.0,63.0 C92.0,69.0 96.7,77.2 100.0,84.0 C103.3,90.8 103.7,96.7 105.0,104.0 C106.3,111.3 109.2,122.3 108.0,128.0 C106.8,133.7 103.5,134.3 98.0,138.0 C92.5,141.7 83.8,144.7 75.0,150.0 C66.2,155.3 57.5,167.0 45.0,170.0 C32.5,173.0 7.5,193.3 0.0,168.0 C-7.5,142.7 -7.0,43.3 0.0,18.0Z" fill="#ffffff"/><path d="M120.0,102.0 C123.0,97.7 135.0,97.0 140.0,98.0 C145.0,99.0 150.0,104.0 150.0,108.0 C150.0,112.0 144.7,119.3 140.0,122.0 C135.3,124.7 125.3,127.3 122.0,124.0 C118.7,120.7 117.0,106.3 120.0,102.0Z" fill="#ffffff"/><path d="M99.0,262.0 C102.0,255.8 112.8,256.7 118.0,258.0 C123.2,259.3 128.7,263.0 130.0,270.0 C131.3,277.0 129.3,293.3 126.0,300.0 C122.7,306.7 114.3,310.8 110.0,310.0 C105.7,309.2 101.8,303.0 100.0,295.0 C98.2,287.0 96.0,268.2 99.0,262.0Z" fill="#ffffff"/><path d="M0.0,300.0 C6.7,290.0 26.7,296.0 40.0,296.0 C53.3,296.0 69.3,297.7 80.0,300.0 C90.7,302.3 100.7,302.5 104.0,310.0 C107.3,317.5 105.7,336.7 100.0,345.0 C94.3,353.3 81.7,357.2 70.0,360.0 C58.3,362.8 41.7,362.7 30.0,362.0 C18.3,361.3 5.0,366.3 0.0,356.0 C-5.0,345.7 -6.7,310.0 0.0,300.0Z" fill="#ffffff"/><path d="M30.0,395.0 C34.2,392.0 51.7,391.5 60.0,392.0 C68.3,392.5 78.3,395.0 80.0,398.0 C81.7,401.0 77.5,408.0 70.0,410.0 C62.5,412.0 41.7,412.5 35.0,410.0 C28.3,407.5 25.8,398.0 30.0,395.0Z" fill="#ffffff"/><path d="M0.0,415.0 C5.0,410.5 23.3,406.3 30.0,410.0 C36.7,413.7 45.0,432.5 40.0,437.0 C35.0,441.5 6.7,440.7 0.0,437.0 C-6.7,433.3 -5.0,419.5 0.0,415.0Z" fill="#ffffff"/><path d="M384.0,40.0 C390.0,31.7 405.7,30.8 420.0,30.0 C434.3,29.2 459.7,33.3 470.0,35.0 C480.3,36.7 480.0,25.8 482.0,40.0 C484.0,54.2 487.3,105.8 482.0,120.0 C476.7,134.2 460.3,125.3 450.0,125.0 C439.7,124.7 429.2,120.5 420.0,118.0 C410.8,115.5 401.0,116.3 395.0,110.0 C389.0,103.7 385.8,91.7 384.0,80.0 C382.2,68.3 378.0,48.3 384.0,40.0Z" fill="#ffffff"/><path d="M255.0,168.0 C260.3,161.0 279.5,163.3 290.0,164.0 C300.5,164.7 313.8,166.0 318.0,172.0 C322.2,178.0 319.7,193.3 315.0,200.0 C310.3,206.7 299.5,211.0 290.0,212.0 C280.5,213.0 263.8,213.3 258.0,206.0 C252.2,198.7 249.7,175.0 255.0,168.0Z" fill="#ffffff"/><path d="M389.0,216.0 C392.3,212.0 407.2,211.0 415.0,212.0 C422.8,213.0 434.3,218.0 436.0,222.0 C437.7,226.0 431.8,233.7 425.0,236.0 C418.2,238.3 401.0,239.3 395.0,236.0 C389.0,232.7 385.7,220.0 389.0,216.0Z" fill="#ffffff"/><path d="M395.0,276.0 C399.2,271.7 419.7,271.0 430.0,272.0 C440.3,273.0 454.5,277.7 457.0,282.0 C459.5,286.3 453.7,295.3 445.0,298.0 C436.3,300.7 413.3,301.7 405.0,298.0 C396.7,294.3 390.8,280.3 395.0,276.0Z" fill="#ffffff"/><path d="M482.0,322.0 C475.0,305.8 453.7,331.2 440.0,340.0 C426.3,348.8 411.7,364.2 400.0,375.0 C388.3,385.8 378.3,394.7 370.0,405.0 C361.7,415.3 331.3,431.7 350.0,437.0 C368.7,442.3 460.0,456.2 482.0,437.0 C504.0,417.8 489.0,338.2 482.0,322.0Z" fill="#ffffff"/><path d="M225.0,14.0 C231.7,12.0 280.8,10.3 300.0,10.0 C319.2,9.7 335.0,10.3 340.0,12.0 C345.0,13.7 343.3,18.3 330.0,20.0 C316.7,21.7 277.5,23.0 260.0,22.0 C242.5,21.0 218.3,16.0 225.0,14.0Z" fill="#ffffff"/><path d="M40.0,40.0 C40.0,34.7 56.7,24.0 70.0,20.0 C83.3,16.0 102.5,16.3 120.0,16.0 C137.5,15.7 161.7,15.7 175.0,18.0 C188.3,20.3 195.0,23.8 200.0,30.0 C205.0,36.2 208.3,48.3 205.0,55.0 C201.7,61.7 190.8,67.2 180.0,70.0 C169.2,72.8 153.3,72.7 140.0,72.0 C126.7,71.3 111.7,69.3 100.0,66.0 C88.3,62.7 80.0,56.3 70.0,52.0 C60.0,47.7 40.0,45.3 40.0,40.0Z" fill="#5ca6f4"/><path d="M265.0,12.0 C272.5,9.3 299.2,11.0 310.0,14.0 C320.8,17.0 321.7,25.7 330.0,30.0 C338.3,34.3 353.0,33.3 360.0,40.0 C367.0,46.7 370.3,60.0 372.0,70.0 C373.7,80.0 374.5,94.2 370.0,100.0 C365.5,105.8 353.0,106.7 345.0,105.0 C337.0,103.3 329.5,97.5 322.0,90.0 C314.5,82.5 307.0,67.5 300.0,60.0 C293.0,52.5 285.8,50.0 280.0,45.0 C274.2,40.0 267.5,35.5 265.0,30.0 C262.5,24.5 257.5,14.7 265.0,12.0Z" fill="#5ca6f4"/><path d="M400.0,5.0 C405.8,1.8 426.3,3.0 440.0,3.0 C453.7,3.0 475.0,0.5 482.0,5.0 C489.0,9.5 489.0,26.2 482.0,30.0 C475.0,33.8 452.8,29.3 440.0,28.0 C427.2,26.7 411.7,25.8 405.0,22.0 C398.3,18.2 394.2,8.2 400.0,5.0Z" fill="#5ca6f4"/><path d="M0.0,170.0 C5.0,161.3 20.0,167.2 30.0,168.0 C40.0,168.8 53.3,170.5 60.0,175.0 C66.7,179.5 71.7,188.3 70.0,195.0 C68.3,201.7 58.3,210.5 50.0,215.0 C41.7,219.5 28.3,221.2 20.0,222.0 C11.7,222.8 3.3,228.7 0.0,220.0 C-3.3,211.3 -5.0,178.7 0.0,170.0Z" fill="#5ca6f4"/><path d="M0.0,208.0 C5.0,200.0 24.7,203.0 30.0,210.0 C35.3,217.0 35.3,241.7 32.0,250.0 C28.7,258.3 15.3,258.7 10.0,260.0 C4.7,261.3 1.7,266.7 0.0,258.0 C-1.7,249.3 -5.0,216.0 0.0,208.0Z" fill="#5ca6f4"/><path d="M150.0,70.0 C152.8,66.3 168.3,65.0 175.0,66.0 C181.7,67.0 189.2,72.0 190.0,76.0 C190.8,80.0 185.3,88.0 180.0,90.0 C174.7,92.0 163.0,91.3 158.0,88.0 C153.0,84.7 147.2,73.7 150.0,70.0Z" fill="#5ca6f4"/><path d="M290.0,232.0 C295.0,225.3 325.0,222.7 340.0,222.0 C355.0,221.3 366.7,224.0 380.0,228.0 C393.3,232.0 410.0,240.7 420.0,246.0 C430.0,251.3 440.0,256.3 440.0,260.0 C440.0,263.7 430.0,267.7 420.0,268.0 C410.0,268.3 393.3,263.7 380.0,262.0 C366.7,260.3 351.7,258.0 340.0,258.0 C328.3,258.0 318.3,266.3 310.0,262.0 C301.7,257.7 285.0,238.7 290.0,232.0Z" fill="#5ca6f4"/><path d="M120.0,360.0 C126.3,355.8 143.3,350.8 150.0,355.0 C156.7,359.2 160.0,376.7 160.0,385.0 C160.0,393.3 156.7,402.2 150.0,405.0 C143.3,407.8 126.3,406.2 120.0,402.0 C113.7,397.8 112.0,387.0 112.0,380.0 C112.0,373.0 113.7,364.2 120.0,360.0Z" fill="#5ca6f4"/><path d="M16.0,366.0 C18.7,361.0 32.0,360.0 36.0,364.0 C40.0,368.0 42.7,385.0 40.0,390.0 C37.3,395.0 24.0,398.0 20.0,394.0 C16.0,390.0 13.3,371.0 16.0,366.0Z" fill="#5ca6f4"/><path d="M255.0,340.0 C263.3,332.7 284.2,337.7 300.0,336.0 C315.8,334.3 336.7,328.5 350.0,330.0 C363.3,331.5 376.7,338.3 380.0,345.0 C383.3,351.7 378.3,364.2 370.0,370.0 C361.7,375.8 343.3,376.7 330.0,380.0 C316.7,383.3 301.7,386.7 290.0,390.0 C278.3,393.3 266.7,401.7 260.0,400.0 C253.3,398.3 250.8,390.0 250.0,380.0 C249.2,370.0 246.7,347.3 255.0,340.0Z" fill="#5ca6f4"/><path d="M140.0,395.0 C150.0,390.3 180.0,400.3 200.0,402.0 C220.0,403.7 240.0,403.7 260.0,405.0 C280.0,406.3 308.3,405.8 320.0,410.0 C331.7,414.2 340.0,425.5 330.0,430.0 C320.0,434.5 285.0,435.8 260.0,437.0 C235.0,438.2 200.0,438.2 180.0,437.0 C160.0,435.8 146.7,437.0 140.0,430.0 C133.3,423.0 130.0,399.7 140.0,395.0Z" fill="#5ca6f4"/><path d="M410.0,180.0 C415.8,176.0 438.0,172.7 450.0,172.0 C462.0,171.3 476.7,170.5 482.0,176.0 C487.3,181.5 487.3,200.7 482.0,205.0 C476.7,209.3 461.2,203.5 450.0,202.0 C438.8,200.5 421.7,199.7 415.0,196.0 C408.3,192.3 404.2,184.0 410.0,180.0Z" fill="#5ca6f4"/><path d="M98.0,22.0 C102.2,15.5 118.0,16.3 130.0,16.0 C142.0,15.7 162.0,15.2 170.0,20.0 C178.0,24.8 178.8,37.3 178.0,45.0 C177.2,52.7 173.0,62.5 165.0,66.0 C157.0,69.5 140.0,67.8 130.0,66.0 C120.0,64.2 110.3,62.3 105.0,55.0 C99.7,47.7 93.8,28.5 98.0,22.0Z" fill="#5c5cf0"/><path d="M0.0,212.0 C4.2,206.0 20.0,207.3 25.0,212.0 C30.0,216.7 32.2,233.7 30.0,240.0 C27.8,246.3 17.0,248.7 12.0,250.0 C7.0,251.3 2.0,254.3 0.0,248.0 C-2.0,241.7 -4.2,218.0 0.0,212.0Z" fill="#5c5cf0"/><path d="M338.0,255.0 C343.3,252.0 365.0,248.8 372.0,250.0 C379.0,251.2 382.0,258.7 380.0,262.0 C378.0,265.3 366.7,269.0 360.0,270.0 C353.3,271.0 343.7,270.5 340.0,268.0 C336.3,265.5 332.7,258.0 338.0,255.0Z" fill="#5c5cf0"/><path d="M345.0,358.0 C350.0,354.3 370.8,349.7 380.0,350.0 C389.2,350.3 400.0,356.3 400.0,360.0 C400.0,363.7 388.3,370.0 380.0,372.0 C371.7,374.0 355.8,374.3 350.0,372.0 C344.2,369.7 340.0,361.7 345.0,358.0Z" fill="#5c5cf0"/><path d="M140.0,250.0 C143.7,240.8 155.8,238.3 160.0,245.0 C164.2,251.7 165.0,274.2 165.0,290.0 C165.0,305.8 163.3,330.8 160.0,340.0 C156.7,349.2 148.7,351.7 145.0,345.0 C141.3,338.3 138.8,315.8 138.0,300.0 C137.2,284.2 136.3,259.2 140.0,250.0Z" fill="#5c5cf0"/><path d="M125.0,20.0 C126.3,16.3 134.5,15.7 140.0,16.0 C145.5,16.3 155.5,18.7 158.0,22.0 C160.5,25.3 159.3,33.3 155.0,36.0 C150.7,38.7 137.0,40.7 132.0,38.0 C127.0,35.3 123.7,23.7 125.0,20.0Z" fill="#1eee1e"/><path d="M84.0,195.0 C85.3,189.7 93.2,178.7 100.0,172.0 C106.8,165.3 117.5,159.0 125.0,155.0 C132.5,151.0 141.2,147.2 145.0,148.0 C148.8,148.8 150.2,154.7 148.0,160.0 C145.8,165.3 138.3,173.7 132.0,180.0 C125.7,186.3 116.7,194.0 110.0,198.0 C103.3,202.0 96.3,204.5 92.0,204.0 C87.7,203.5 82.7,200.3 84.0,195.0Z" fill="#1eee1e"/><path d="M98.0,190.0 C99.0,186.7 105.0,178.7 110.0,174.0 C115.0,169.3 124.0,163.0 128.0,162.0 C132.0,161.0 135.0,164.7 134.0,168.0 C133.0,171.3 127.0,177.7 122.0,182.0 C117.0,186.3 108.0,192.7 104.0,194.0 C100.0,195.3 97.0,193.3 98.0,190.0Z" fill="#0a820a"/><path d="M218.0,30.0 C217.2,22.0 224.3,17.3 230.0,14.0 C235.7,10.7 245.0,9.0 252.0,10.0 C259.0,11.0 267.7,13.7 272.0,20.0 C276.3,26.3 279.7,41.0 278.0,48.0 C276.3,55.0 269.2,59.7 262.0,62.0 C254.8,64.3 242.3,67.3 235.0,62.0 C227.7,56.7 218.8,38.0 218.0,30.0Z" fill="#1eee1e"/><path d="M238.0,14.0 C239.7,9.0 250.0,8.3 255.0,10.0 C260.0,11.7 266.8,19.0 268.0,24.0 C269.2,29.0 265.8,37.3 262.0,40.0 C258.2,42.7 249.0,44.3 245.0,40.0 C241.0,35.7 236.3,19.0 238.0,14.0Z" fill="#0a820a"/><path d="M112.0,230.0 C114.0,220.5 123.7,211.7 130.0,205.0 C136.3,198.3 144.2,190.8 150.0,190.0 C155.8,189.2 163.3,191.7 165.0,200.0 C166.7,208.3 164.2,229.7 160.0,240.0 C155.8,250.3 147.0,258.3 140.0,262.0 C133.0,265.7 122.7,267.3 118.0,262.0 C113.3,256.7 110.0,239.5 112.0,230.0Z" fill="#1eee1e"/><path d="M140.0,250.0 C145.0,242.5 165.0,243.0 175.0,245.0 C185.0,247.0 198.3,252.8 200.0,262.0 C201.7,271.2 190.8,287.0 185.0,300.0 C179.2,313.0 170.8,335.0 165.0,340.0 C159.2,345.0 153.3,338.3 150.0,330.0 C146.7,321.7 146.7,303.3 145.0,290.0 C143.3,276.7 135.0,257.5 140.0,250.0Z" fill="#1eee1e"/><path d="M222.0,150.0 C229.0,137.7 241.0,125.7 250.0,116.0 C259.0,106.3 268.3,93.0 276.0,92.0 C283.7,91.0 295.3,100.3 296.0,110.0 C296.7,119.7 286.3,138.0 280.0,150.0 C273.7,162.0 264.0,171.0 258.0,182.0 C252.0,193.0 249.0,204.3 244.0,216.0 C239.0,227.7 234.0,241.0 228.0,252.0 C222.0,263.0 215.0,277.3 208.0,282.0 C201.0,286.7 188.0,288.3 186.0,280.0 C184.0,271.7 192.3,247.0 196.0,232.0 C199.7,217.0 203.7,203.7 208.0,190.0 C212.3,176.3 215.0,162.3 222.0,150.0Z" fill="#1eee1e"/><path d="M228.0,146.0 C234.8,134.3 247.3,127.0 255.0,120.0 C262.7,113.0 268.8,104.0 274.0,104.0 C279.2,104.0 286.7,112.3 286.0,120.0 C285.3,127.7 276.0,139.7 270.0,150.0 C264.0,160.3 255.7,171.2 250.0,182.0 C244.3,192.8 241.0,204.0 236.0,215.0 C231.0,226.0 225.3,238.5 220.0,248.0 C214.7,257.5 208.3,268.7 204.0,272.0 C199.7,275.3 194.3,275.0 194.0,268.0 C193.7,261.0 198.7,243.0 202.0,230.0 C205.3,217.0 209.7,204.0 214.0,190.0 C218.3,176.0 221.2,157.7 228.0,146.0Z" fill="#6258dc"/><path d="M178.0,104.0 C183.3,96.0 194.0,86.3 204.0,80.0 C214.0,73.7 228.3,69.0 238.0,66.0 C247.7,63.0 255.3,61.0 262.0,62.0 C268.7,63.0 276.0,67.0 278.0,72.0 C280.0,77.0 278.7,86.0 274.0,92.0 C269.3,98.0 258.3,101.0 250.0,108.0 C241.7,115.0 231.7,124.0 224.0,134.0 C216.3,144.0 209.7,155.7 204.0,168.0 C198.3,180.3 194.7,196.0 190.0,208.0 C185.3,220.0 180.7,235.3 176.0,240.0 C171.3,244.7 164.7,241.7 162.0,236.0 C159.3,230.3 159.0,218.7 160.0,206.0 C161.0,193.3 166.0,173.0 168.0,160.0 C170.0,147.0 170.3,137.3 172.0,128.0 C173.7,118.7 172.7,112.0 178.0,104.0Z" fill="#1eee1e" stroke="#1eee1e" stroke-width="16" stroke-linejoin="round"/><path d="M178.0,104.0 C183.3,96.0 194.0,86.3 204.0,80.0 C214.0,73.7 228.3,69.0 238.0,66.0 C247.7,63.0 255.3,61.0 262.0,62.0 C268.7,63.0 276.0,67.0 278.0,72.0 C280.0,77.0 278.7,86.0 274.0,92.0 C269.3,98.0 258.3,101.0 250.0,108.0 C241.7,115.0 231.7,124.0 224.0,134.0 C216.3,144.0 209.7,155.7 204.0,168.0 C198.3,180.3 194.7,196.0 190.0,208.0 C185.3,220.0 180.7,235.3 176.0,240.0 C171.3,244.7 164.7,241.7 162.0,236.0 C159.3,230.3 159.0,218.7 160.0,206.0 C161.0,193.3 166.0,173.0 168.0,160.0 C170.0,147.0 170.3,137.3 172.0,128.0 C173.7,118.7 172.7,112.0 178.0,104.0Z" fill="#f2f25c" stroke="#f2f25c" stroke-width="6" stroke-linejoin="round"/><path d="M178.0,104.0 C183.3,96.0 194.0,86.3 204.0,80.0 C214.0,73.7 228.3,69.0 238.0,66.0 C247.7,63.0 255.3,61.0 262.0,62.0 C268.7,63.0 276.0,67.0 278.0,72.0 C280.0,77.0 278.7,86.0 274.0,92.0 C269.3,98.0 258.3,101.0 250.0,108.0 C241.7,115.0 231.7,124.0 224.0,134.0 C216.3,144.0 209.7,155.7 204.0,168.0 C198.3,180.3 194.7,196.0 190.0,208.0 C185.3,220.0 180.7,235.3 176.0,240.0 C171.3,244.7 164.7,241.7 162.0,236.0 C159.3,230.3 159.0,218.7 160.0,206.0 C161.0,193.3 166.0,173.0 168.0,160.0 C170.0,147.0 170.3,137.3 172.0,128.0 C173.7,118.7 172.7,112.0 178.0,104.0Z" fill="#d65a86"/><path d="M202.0,284.0 C206.3,281.5 211.2,283.8 218.0,289.0 C224.8,294.2 237.3,304.8 243.0,315.0 C248.7,325.2 250.8,338.0 252.0,350.0 C253.2,362.0 257.3,380.0 250.0,387.0 C242.7,394.0 221.0,392.0 208.0,392.0 C195.0,392.0 179.8,392.2 172.0,387.0 C164.2,381.8 160.3,369.7 161.0,361.0 C161.7,352.3 170.8,344.5 176.0,335.0 C181.2,325.5 187.7,312.5 192.0,304.0 C196.3,295.5 197.7,286.5 202.0,284.0Z" fill="#1eee1e" stroke="#1eee1e" stroke-width="18" stroke-linejoin="round"/><path d="M202.0,284.0 C206.3,281.5 211.2,283.8 218.0,289.0 C224.8,294.2 237.3,304.8 243.0,315.0 C248.7,325.2 250.8,338.0 252.0,350.0 C253.2,362.0 257.3,380.0 250.0,387.0 C242.7,394.0 221.0,392.0 208.0,392.0 C195.0,392.0 179.8,392.2 172.0,387.0 C164.2,381.8 160.3,369.7 161.0,361.0 C161.7,352.3 170.8,344.5 176.0,335.0 C181.2,325.5 187.7,312.5 192.0,304.0 C196.3,295.5 197.7,286.5 202.0,284.0Z" fill="#f2f25c" stroke="#f2f25c" stroke-width="7.0" stroke-linejoin="round"/><path d="M202.0,284.0 C206.3,281.5 211.2,283.8 218.0,289.0 C224.8,294.2 237.3,304.8 243.0,315.0 C248.7,325.2 250.8,338.0 252.0,350.0 C253.2,362.0 257.3,380.0 250.0,387.0 C242.7,394.0 221.0,392.0 208.0,392.0 C195.0,392.0 179.8,392.2 172.0,387.0 C164.2,381.8 160.3,369.7 161.0,361.0 C161.7,352.3 170.8,344.5 176.0,335.0 C181.2,325.5 187.7,312.5 192.0,304.0 C196.3,295.5 197.7,286.5 202.0,284.0Z" fill="#f45c5c"/><path d="M270.0,227.0 C276.7,228.7 288.2,233.5 295.0,242.0 C301.8,250.5 307.5,266.0 311.0,278.0 C314.5,290.0 316.0,304.7 316.0,314.0 C316.0,323.3 315.2,330.2 311.0,334.0 C306.8,337.8 298.7,337.0 291.0,337.0 C283.3,337.0 271.8,337.8 265.0,334.0 C258.2,330.2 254.2,321.7 250.0,314.0 C245.8,306.3 240.8,298.3 240.0,288.0 C239.2,277.7 242.5,261.3 245.0,252.0 C247.5,242.7 250.8,236.2 255.0,232.0 C259.2,227.8 263.3,225.3 270.0,227.0Z" fill="#1eee1e" stroke="#1eee1e" stroke-width="18" stroke-linejoin="round"/><path d="M270.0,227.0 C276.7,228.7 288.2,233.5 295.0,242.0 C301.8,250.5 307.5,266.0 311.0,278.0 C314.5,290.0 316.0,304.7 316.0,314.0 C316.0,323.3 315.2,330.2 311.0,334.0 C306.8,337.8 298.7,337.0 291.0,337.0 C283.3,337.0 271.8,337.8 265.0,334.0 C258.2,330.2 254.2,321.7 250.0,314.0 C245.8,306.3 240.8,298.3 240.0,288.0 C239.2,277.7 242.5,261.3 245.0,252.0 C247.5,242.7 250.8,236.2 255.0,232.0 C259.2,227.8 263.3,225.3 270.0,227.0Z" fill="#f2f25c" stroke="#f2f25c" stroke-width="7.0" stroke-linejoin="round"/><path d="M270.0,227.0 C276.7,228.7 288.2,233.5 295.0,242.0 C301.8,250.5 307.5,266.0 311.0,278.0 C314.5,290.0 316.0,304.7 316.0,314.0 C316.0,323.3 315.2,330.2 311.0,334.0 C306.8,337.8 298.7,337.0 291.0,337.0 C283.3,337.0 271.8,337.8 265.0,334.0 C258.2,330.2 254.2,321.7 250.0,314.0 C245.8,306.3 240.8,298.3 240.0,288.0 C239.2,277.7 242.5,261.3 245.0,252.0 C247.5,242.7 250.8,236.2 255.0,232.0 C259.2,227.8 263.3,225.3 270.0,227.0Z" fill="#f45c5c"/><path d="M334.0,140.0 C336.8,135.3 347.3,129.0 355.0,128.0 C362.7,127.0 369.2,132.0 380.0,134.0 C390.8,136.0 406.7,138.0 420.0,140.0 C433.3,142.0 449.7,144.3 460.0,146.0 C470.3,147.7 478.3,144.0 482.0,150.0 C485.7,156.0 487.3,177.7 482.0,182.0 C476.7,186.3 460.3,178.3 450.0,176.0 C439.7,173.7 430.0,170.3 420.0,168.0 C410.0,165.7 400.0,163.3 390.0,162.0 C380.0,160.7 368.7,161.0 360.0,160.0 C351.3,159.0 342.3,159.3 338.0,156.0 C333.7,152.7 331.2,144.7 334.0,140.0Z" fill="#1eee1e"/><path d="M350.0,143.0 C352.0,141.0 358.0,139.5 362.0,140.0 C366.0,140.5 373.5,143.8 374.0,146.0 C374.5,148.2 369.0,152.0 365.0,153.0 C361.0,154.0 352.5,153.7 350.0,152.0 C347.5,150.3 348.0,145.0 350.0,143.0Z" fill="#f2f25c"/><path d="M420.0,150.0 C424.2,148.3 439.7,150.7 450.0,152.0 C460.3,153.3 476.7,154.2 482.0,158.0 C487.3,161.8 487.3,173.0 482.0,175.0 C476.7,177.0 459.5,172.2 450.0,170.0 C440.5,167.8 430.0,165.3 425.0,162.0 C420.0,158.7 415.8,151.7 420.0,150.0Z" fill="#f2f25c"/><path d="M440.0,156.0 C443.8,154.7 458.0,156.0 465.0,157.0 C472.0,158.0 479.2,159.2 482.0,162.0 C484.8,164.8 485.7,172.7 482.0,174.0 C478.3,175.3 466.7,171.5 460.0,170.0 C453.3,168.5 445.3,167.3 442.0,165.0 C438.7,162.7 436.2,157.3 440.0,156.0Z" fill="#f4a45c"/><path d="M349.0,188.0 C351.2,184.0 358.8,182.3 365.0,182.0 C371.2,181.7 381.5,183.3 386.0,186.0 C390.5,188.7 393.8,194.0 392.0,198.0 C390.2,202.0 381.7,208.7 375.0,210.0 C368.3,211.3 356.3,209.7 352.0,206.0 C347.7,202.3 346.8,192.0 349.0,188.0Z" fill="#1eee1e"/><path d="M364.0,190.0 C366.0,188.7 371.3,188.0 374.0,189.0 C376.7,190.0 380.7,194.0 380.0,196.0 C379.3,198.0 373.0,200.8 370.0,201.0 C367.0,201.2 363.0,198.8 362.0,197.0 C361.0,195.2 362.0,191.3 364.0,190.0Z" fill="#f2f25c"/><path d="M322.0,262.0 C324.3,257.3 332.3,256.0 340.0,256.0 C347.7,256.0 362.7,258.7 368.0,262.0 C373.3,265.3 375.0,271.7 372.0,276.0 C369.0,280.3 357.7,286.7 350.0,288.0 C342.3,289.3 330.7,288.3 326.0,284.0 C321.3,279.7 319.7,266.7 322.0,262.0Z" fill="#1eee1e"/><path d="M338.0,267.0 C339.3,264.5 348.7,263.5 352.0,265.0 C355.3,266.5 359.3,273.5 358.0,276.0 C356.7,278.5 347.3,281.5 344.0,280.0 C340.7,278.5 336.7,269.5 338.0,267.0Z" fill="#f2f25c"/><path d="M258.0,60.0 C260.8,56.7 268.0,44.2 275.0,40.0 C282.0,35.8 290.8,35.0 300.0,35.0 C309.2,35.0 322.5,35.8 330.0,40.0 C337.5,44.2 341.7,51.7 345.0,60.0 C348.3,68.3 350.0,80.0 350.0,90.0 C350.0,100.0 350.0,112.5 345.0,120.0 C340.0,127.5 329.2,131.7 320.0,135.0 C310.8,138.3 298.7,140.0 290.0,140.0 C281.3,140.0 271.7,135.8 268.0,135.0" fill="none" stroke="#70307a" stroke-width="2.1"/><path d="M258.0,140.0 C265.0,141.7 288.0,145.0 300.0,150.0 C312.0,155.0 321.7,161.7 330.0,170.0 C338.3,178.3 348.3,191.7 350.0,200.0 C351.7,208.3 348.3,216.7 340.0,220.0 C331.7,223.3 311.7,218.3 300.0,220.0 C288.3,221.7 278.3,225.0 270.0,230.0 C261.7,235.0 253.3,246.7 250.0,250.0" fill="none" stroke="#70307a" stroke-width="2.1"/><path d="M290.0,170.0 C296.7,168.3 315.0,160.0 330.0,160.0 C345.0,160.0 365.0,166.7 380.0,170.0 C395.0,173.3 407.5,173.3 420.0,180.0 C432.5,186.7 446.7,196.7 455.0,210.0 C463.3,223.3 469.2,246.7 470.0,260.0 C470.8,273.3 468.3,286.7 460.0,290.0 C451.7,293.3 433.3,283.3 420.0,280.0 C406.7,276.7 391.7,272.5 380.0,270.0 C368.3,267.5 355.0,265.8 350.0,265.0" fill="none" stroke="#70307a" stroke-width="2.1"/><path d="M210.0,250.0 C215.0,255.0 226.7,271.7 240.0,280.0 C253.3,288.3 273.3,293.3 290.0,300.0 C306.7,306.7 325.0,315.0 340.0,320.0 C355.0,325.0 370.0,323.3 380.0,330.0 C390.0,336.7 400.0,351.7 400.0,360.0 C400.0,368.3 391.7,375.0 380.0,380.0 C368.3,385.0 346.7,386.7 330.0,390.0 C313.3,393.3 295.0,396.7 280.0,400.0 C265.0,403.3 246.7,408.3 240.0,410.0" fill="none" stroke="#70307a" stroke-width="2.1"/><path d="M190.0,300.0 C191.7,306.7 193.3,330.0 200.0,340.0 C206.7,350.0 218.3,355.0 230.0,360.0 C241.7,365.0 255.0,367.0 270.0,370.0 C285.0,373.0 305.0,378.0 320.0,378.0 C335.0,378.0 347.5,374.7 360.0,370.0 C372.5,365.3 386.7,358.3 395.0,350.0 C403.3,341.7 409.2,330.0 410.0,320.0 C410.8,310.0 401.7,295.0 400.0,290.0" fill="none" stroke="#70307a" stroke-width="2.1"/><path d="M330.0,150.0 C335.0,148.3 348.3,142.0 360.0,140.0 C371.7,138.0 386.7,137.7 400.0,138.0 C413.3,138.3 428.3,140.0 440.0,142.0 C451.7,144.0 463.0,147.8 470.0,150.0 C477.0,152.2 480.0,154.2 482.0,155.0" fill="none" stroke="#70307a" stroke-width="2.1"/><path d="M348.0,200.0 C351.7,201.3 361.3,205.5 370.0,208.0 C378.7,210.5 388.3,211.3 400.0,215.0 C411.7,218.7 428.3,224.2 440.0,230.0 C451.7,235.8 465.0,246.7 470.0,250.0" fill="none" stroke="#70307a" stroke-width="2.1"/><path d="M200.0,250.0 C202.5,241.7 208.3,218.3 215.0,200.0 C221.7,181.7 232.2,156.7 240.0,140.0 C247.8,123.3 258.3,106.7 262.0,100.0" fill="none" stroke="#70307a" stroke-width="1.0"/><path d="M205.0,247.5 C207.5,239.3 213.5,216.1 220.0,198.1 C226.5,180.1 236.4,155.6 243.8,139.4 C251.1,123.1 260.5,107.1 263.9,100.6" fill="none" stroke="#70307a" stroke-width="1.0"/><path d="M210.0,245.0 C212.5,236.9 218.8,214.0 225.0,196.2 C231.2,178.5 240.7,154.6 247.5,138.8 C254.3,122.9 262.7,107.5 265.8,101.2" fill="none" stroke="#70307a" stroke-width="1.0"/><path d="M215.0,242.5 C217.5,234.5 224.0,211.8 230.0,194.4 C236.0,177.0 245.0,153.5 251.2,138.1 C257.5,122.7 264.9,107.9 267.6,101.9" fill="none" stroke="#70307a" stroke-width="1.0"/><path d="M220.0,240.0 C222.5,232.1 229.2,209.6 235.0,192.5 C240.8,175.4 249.2,152.5 255.0,137.5 C260.8,122.5 267.1,108.3 269.5,102.5" fill="none" stroke="#70307a" stroke-width="1.0"/><path d="M225.0,237.5 C227.5,229.7 234.4,207.4 240.0,190.6 C245.6,173.9 253.5,151.5 258.8,136.9 C264.0,122.3 269.3,108.8 271.4,103.1" fill="none" stroke="#70307a" stroke-width="1.0"/><path d="M230.0,235.0 C232.5,227.3 239.6,205.2 245.0,188.8 C250.4,172.3 257.8,150.4 262.5,136.2 C267.2,122.1 271.5,109.2 273.2,103.8" fill="none" stroke="#70307a" stroke-width="1.0"/><path d="M235.0,232.5 C237.5,224.9 244.8,203.0 250.0,186.9 C255.2,170.7 262.1,149.4 266.2,135.6 C270.4,121.9 273.6,109.6 275.1,104.4" fill="none" stroke="#70307a" stroke-width="1.0"/><path d="M240.0,230.0 C242.5,222.5 250.0,200.8 255.0,185.0 C260.0,169.2 266.3,148.3 270.0,135.0 C273.7,121.7 275.8,110.0 277.0,105.0" fill="none" stroke="#70307a" stroke-width="1.0"/><path d="M180.0,110.0 C183.3,106.7 191.7,96.0 200.0,90.0 C208.3,84.0 219.7,78.0 230.0,74.0 C240.3,70.0 256.7,67.3 262.0,66.0" fill="none" stroke="#70307a" stroke-width="0.9"/><path d="M186.0,114.0 C189.3,110.5 197.7,99.3 206.0,93.0 C214.3,86.7 226.0,80.3 236.0,76.0 C246.0,71.7 261.0,68.5 266.0,67.0" fill="none" stroke="#70307a" stroke-width="0.9"/><path d="M192.0,118.0 C195.3,114.3 203.7,102.7 212.0,96.0 C220.3,89.3 232.3,82.7 242.0,78.0 C251.7,73.3 265.3,69.7 270.0,68.0" fill="none" stroke="#70307a" stroke-width="0.9"/><path d="M198.0,122.0 C201.3,118.2 209.7,106.0 218.0,99.0 C226.3,92.0 238.7,85.0 248.0,80.0 C257.3,75.0 269.7,70.8 274.0,69.0" fill="none" stroke="#70307a" stroke-width="0.9"/><path d="M204.0,126.0 C207.3,122.0 215.7,109.3 224.0,102.0 C232.3,94.7 245.0,87.3 254.0,82.0 C263.0,76.7 274.0,72.0 278.0,70.0" fill="none" stroke="#70307a" stroke-width="0.9"/><path d="M210.0,130.0 C213.3,125.8 221.7,112.7 230.0,105.0 C238.3,97.3 251.3,89.7 260.0,84.0 C268.7,78.3 278.3,73.2 282.0,71.0" fill="none" stroke="#70307a" stroke-width="0.9"/><path d="M180.0,300.0 C179.3,306.7 176.3,325.8 176.0,340.0 C175.7,354.2 177.7,377.5 178.0,385.0" fill="none" stroke="#70307a" stroke-width="1.0"/><path d="M192.0,296.0 C191.3,303.3 188.3,325.2 188.0,340.0 C187.7,354.8 189.7,377.5 190.0,385.0" fill="none" stroke="#70307a" stroke-width="1.0"/><path d="M204.0,292.0 C203.3,300.0 200.3,324.5 200.0,340.0 C199.7,355.5 201.7,377.5 202.0,385.0" fill="none" stroke="#70307a" stroke-width="1.0"/><path d="M216.0,288.0 C215.3,296.7 212.3,323.8 212.0,340.0 C211.7,356.2 213.7,377.5 214.0,385.0" fill="none" stroke="#70307a" stroke-width="1.0"/><path d="M228.0,284.0 C227.3,293.3 224.3,323.2 224.0,340.0 C223.7,356.8 225.7,377.5 226.0,385.0" fill="none" stroke="#70307a" stroke-width="1.0"/><path d="M240.0,280.0 C239.3,290.0 236.3,322.5 236.0,340.0 C235.7,357.5 237.7,377.5 238.0,385.0" fill="none" stroke="#70307a" stroke-width="1.0"/><path d="M256.0,240.0 C255.3,246.7 252.0,265.0 252.0,280.0 C252.0,295.0 255.3,321.7 256.0,330.0" fill="none" stroke="#70307a" stroke-width="1.0"/><path d="M266.0,242.0 C265.3,248.3 262.0,265.3 262.0,280.0 C262.0,294.7 265.3,321.7 266.0,330.0" fill="none" stroke="#70307a" stroke-width="1.0"/><path d="M276.0,244.0 C275.3,250.0 272.0,265.7 272.0,280.0 C272.0,294.3 275.3,321.7 276.0,330.0" fill="none" stroke="#70307a" stroke-width="1.0"/><path d="M286.0,246.0 C285.3,251.7 282.0,266.0 282.0,280.0 C282.0,294.0 285.3,321.7 286.0,330.0" fill="none" stroke="#70307a" stroke-width="1.0"/><path d="M296.0,248.0 C295.3,253.3 292.0,266.3 292.0,280.0 C292.0,293.7 295.3,321.7 296.0,330.0" fill="none" stroke="#70307a" stroke-width="1.0"/><path d="M172.0,220.0 C174.3,211.7 180.3,186.7 186.0,170.0 C191.7,153.3 197.7,135.0 206.0,120.0 C214.3,105.0 231.0,86.7 236.0,80.0" fill="none" stroke="#70307a" stroke-width="0.8"/><path d="M178.0,212.0 C180.7,203.7 187.8,178.3 194.0,162.0 C200.2,145.7 207.0,128.0 215.0,114.0 C223.0,100.0 237.5,84.0 242.0,78.0" fill="none" stroke="#70307a" stroke-width="0.8"/><path d="M184.0,204.0 C187.0,195.7 195.3,170.0 202.0,154.0 C208.7,138.0 216.3,121.0 224.0,108.0 C231.7,95.0 244.0,81.3 248.0,76.0" fill="none" stroke="#70307a" stroke-width="0.8"/><path d="M190.0,196.0 C193.3,187.7 202.8,161.7 210.0,146.0 C217.2,130.3 225.7,114.0 233.0,102.0 C240.3,90.0 250.5,78.7 254.0,74.0" fill="none" stroke="#70307a" stroke-width="0.8"/><path d="M196.0,188.0 C199.7,179.7 210.3,153.3 218.0,138.0 C225.7,122.7 235.0,107.0 242.0,96.0 C249.0,85.0 257.0,76.0 260.0,72.0" fill="none" stroke="#70307a" stroke-width="0.8"/><path d="M202.0,180.0 C206.0,171.7 217.8,145.0 226.0,130.0 C234.2,115.0 244.3,100.0 251.0,90.0 C257.7,80.0 263.5,73.3 266.0,70.0" fill="none" stroke="#70307a" stroke-width="0.8"/><path d="M208.0,172.0 C212.3,163.7 225.3,136.7 234.0,122.0 C242.7,107.3 253.7,93.0 260.0,84.0 C266.3,75.0 270.0,70.7 272.0,68.0" fill="none" stroke="#70307a" stroke-width="0.8"/></g></svg>
<div class="fr" style="left:73px;top:303px;width:119px;height:108px"></div>
<div class="tk" style="left:102px;top:411px;width:1px;height:2px"></div>
<div class="a" style="left:92.50px;top:413.40px;width:20px;text-align:center;font-size:6.5px;line-height:6.5px;white-space:nowrap;color:#111;"><span style="display:inline-block;transform:scaleX(1.1);transform-origin:50% 50%">70</span></div>
<div class="tk" style="left:132px;top:411px;width:1px;height:2px"></div>
<div class="a" style="left:122.50px;top:413.40px;width:20px;text-align:center;font-size:6.5px;line-height:6.5px;white-space:nowrap;color:#111;"><span style="display:inline-block;transform:scaleX(1.1);transform-origin:50% 50%">80</span></div>
<div class="tk" style="left:162px;top:411px;width:1px;height:2px"></div>
<div class="a" style="left:152.50px;top:413.40px;width:20px;text-align:center;font-size:6.5px;line-height:6.5px;white-space:nowrap;color:#111;"><span style="display:inline-block;transform:scaleX(1.1);transform-origin:50% 50%">90</span></div>
<div class="tk" style="left:71px;top:313.0px;width:2px;height:1px"></div>
<div class="a" style="left:40.80px;top:310.60px;width:30px;text-align:right;font-size:6.5px;line-height:6.5px;white-space:nowrap;color:#111;"><span style="display:inline-block;transform:scaleX(1.08);transform-origin:100% 50%">15.0</span></div>
<div class="tk" style="left:71px;top:329.2px;width:2px;height:1px"></div>
<div class="a" style="left:40.80px;top:326.80px;width:30px;text-align:right;font-size:6.5px;line-height:6.5px;white-space:nowrap;color:#111;"><span style="display:inline-block;transform:scaleX(1.08);transform-origin:100% 50%">12.5</span></div>
<div class="tk" style="left:71px;top:345.4px;width:2px;height:1px"></div>
<div class="a" style="left:40.80px;top:343.00px;width:30px;text-align:right;font-size:6.5px;line-height:6.5px;white-space:nowrap;color:#111;"><span style="display:inline-block;transform:scaleX(1.08);transform-origin:100% 50%">10.0</span></div>
<div class="tk" style="left:71px;top:361.6px;width:2px;height:1px"></div>
<div class="a" style="left:40.80px;top:359.20px;width:30px;text-align:right;font-size:6.5px;line-height:6.5px;white-space:nowrap;color:#111;"><span style="display:inline-block;transform:scaleX(1.08);transform-origin:100% 50%">7.5</span></div>
<div class="tk" style="left:71px;top:377.8px;width:2px;height:1px"></div>
<div class="a" style="left:40.80px;top:375.40px;width:30px;text-align:right;font-size:6.5px;line-height:6.5px;white-space:nowrap;color:#111;"><span style="display:inline-block;transform:scaleX(1.08);transform-origin:100% 50%">5.0</span></div>
<div class="tk" style="left:71px;top:394.0px;width:2px;height:1px"></div>
<div class="a" style="left:40.80px;top:391.60px;width:30px;text-align:right;font-size:6.5px;line-height:6.5px;white-space:nowrap;color:#111;"><span style="display:inline-block;transform:scaleX(1.08);transform-origin:100% 50%">2.5</span></div>
<div class="pl" style="left:45.300000000000004px;top:286.90px;font-size:12.3px;line-height:12.3px">(g)</div>
<div class="a" style="left:47.42px;top:395.70px;width:80px;text-align:center;font-size:7.3px;line-height:7.3px;white-space:nowrap;color:#111;transform-origin:0 0;transform:rotate(-90deg);"><span style="display:inline-block;transform:scaleX(1.14);transform-origin:50% 50%">Height (km)</span></div>
<div class="a" style="left:112.30px;top:420.21px;width:40px;text-align:center;font-size:7.2px;line-height:7.2px;white-space:nowrap;color:#111;"><span style="display:inline-block;transform:scaleX(1.07);transform-origin:50% 50%">X (km)</span></div>
<svg class="p" style="left:210px;top:302px" width="118" height="108" viewBox="0 0 477 437" preserveAspectRatio="none"><defs><clipPath id="ch"><rect x="2.0" y="2.0" width="473.0" height="433.0"/></clipPath></defs><g clip-path="url(#ch)"><rect x="0" y="0" width="477" height="437" fill="#5ef2f0"/><path d="M0.0,38.0 C5.0,23.0 19.2,40.2 30.0,48.0 C40.8,55.8 53.3,75.5 65.0,85.0 C76.7,94.5 89.2,99.2 100.0,105.0 C110.8,110.8 125.8,114.2 130.0,120.0 C134.2,125.8 130.0,135.0 125.0,140.0 C120.0,145.0 112.5,149.2 100.0,150.0 C87.5,150.8 66.7,147.0 50.0,145.0 C33.3,143.0 8.3,155.8 0.0,138.0 C-8.3,120.2 -5.0,53.0 0.0,38.0Z" fill="#ffffff"/><path d="M0.0,283.0 C3.5,271.7 12.3,282.8 21.0,288.0 C29.7,293.2 42.5,313.2 52.0,314.0 C61.5,314.8 69.3,294.7 78.0,293.0 C86.7,291.3 97.2,296.2 104.0,304.0 C110.8,311.8 117.3,329.7 119.0,340.0 C120.7,350.3 118.3,360.0 114.0,366.0 C109.7,372.0 101.7,373.3 93.0,376.0 C84.3,378.7 72.3,383.7 62.0,382.0 C51.7,380.3 41.3,370.3 31.0,366.0 C20.7,361.7 5.2,369.8 0.0,356.0 C-5.2,342.2 -3.5,294.3 0.0,283.0Z" fill="#ffffff"/><path d="M262.0,164.0 C267.3,159.0 281.2,158.2 290.0,160.0 C298.8,161.8 310.3,168.3 315.0,175.0 C319.7,181.7 320.5,193.3 318.0,200.0 C315.5,206.7 308.0,213.3 300.0,215.0 C292.0,216.7 277.0,214.2 270.0,210.0 C263.0,205.8 259.3,197.7 258.0,190.0 C256.7,182.3 256.7,169.0 262.0,164.0Z" fill="#ffffff"/><path d="M255.0,226.0 C258.3,221.3 272.2,220.5 280.0,222.0 C287.8,223.5 300.3,230.0 302.0,235.0 C303.7,240.0 297.0,249.5 290.0,252.0 C283.0,254.5 265.8,254.3 260.0,250.0 C254.2,245.7 251.7,230.7 255.0,226.0Z" fill="#ffffff"/><path d="M312.0,282.0 C317.3,277.3 334.5,275.7 350.0,276.0 C365.5,276.3 396.7,279.2 405.0,284.0 C413.3,288.8 409.2,301.0 400.0,305.0 C390.8,309.0 363.7,308.2 350.0,308.0 C336.3,307.8 324.3,308.3 318.0,304.0 C311.7,299.7 306.7,286.7 312.0,282.0Z" fill="#ffffff"/><path d="M441.0,400.0 C447.0,392.2 471.0,383.8 477.0,390.0 C483.0,396.2 483.0,429.2 477.0,437.0 C471.0,444.8 447.0,443.2 441.0,437.0 C435.0,430.8 435.0,407.8 441.0,400.0Z" fill="#ffffff"/><path d="M145.0,413.0 C149.2,411.0 169.0,410.5 175.0,412.0 C181.0,413.5 185.2,420.0 181.0,422.0 C176.8,424.0 156.0,425.5 150.0,424.0 C144.0,422.5 140.8,415.0 145.0,413.0Z" fill="#ffffff"/><path d="M205.0,290.0 C206.7,285.3 218.2,284.3 222.0,288.0 C225.8,291.7 229.7,307.3 228.0,312.0 C226.3,316.7 215.8,319.7 212.0,316.0 C208.2,312.3 203.3,294.7 205.0,290.0Z" fill="#ffffff"/><path d="M360.0,60.0 C362.5,54.2 374.2,52.5 380.0,55.0 C385.8,57.5 394.2,68.3 395.0,75.0 C395.8,81.7 390.0,92.5 385.0,95.0 C380.0,97.5 369.2,95.8 365.0,90.0 C360.8,84.2 357.5,65.8 360.0,60.0Z" fill="#ffffff"/><path d="M25.0,20.0 C32.5,15.3 54.2,13.0 75.0,12.0 C95.8,11.0 133.3,11.0 150.0,14.0 C166.7,17.0 171.7,22.3 175.0,30.0 C178.3,37.7 174.2,50.8 170.0,60.0 C165.8,69.2 156.7,79.2 150.0,85.0 C143.3,90.8 138.3,94.2 130.0,95.0 C121.7,95.8 109.2,93.3 100.0,90.0 C90.8,86.7 83.3,80.8 75.0,75.0 C66.7,69.2 57.5,60.8 50.0,55.0 C42.5,49.2 34.2,45.8 30.0,40.0 C25.8,34.2 17.5,24.7 25.0,20.0Z" fill="#5ca6f4"/><path d="M50.0,20.0 C53.0,12.3 72.5,11.5 80.0,14.0 C87.5,16.5 93.0,25.7 95.0,35.0 C97.0,44.3 94.5,62.8 92.0,70.0 C89.5,77.2 85.0,79.7 80.0,78.0 C75.0,76.3 67.0,69.7 62.0,60.0 C57.0,50.3 47.0,27.7 50.0,20.0Z" fill="#5c5cf0"/><path d="M118.0,30.0 C121.3,25.0 134.7,25.5 140.0,28.0 C145.3,30.5 150.0,39.7 150.0,45.0 C150.0,50.3 145.0,57.8 140.0,60.0 C135.0,62.2 123.7,63.0 120.0,58.0 C116.3,53.0 114.7,35.0 118.0,30.0Z" fill="#5ef2f0"/><path d="M280.0,10.0 C287.5,6.3 310.0,8.0 330.0,8.0 C350.0,8.0 375.5,9.3 400.0,10.0 C424.5,10.7 464.2,3.7 477.0,12.0 C489.8,20.3 483.2,51.7 477.0,60.0 C470.8,68.3 452.8,62.8 440.0,62.0 C427.2,61.2 411.7,57.8 400.0,55.0 C388.3,52.2 380.0,44.2 370.0,45.0 C360.0,45.8 350.0,59.2 340.0,60.0 C330.0,60.8 319.2,55.0 310.0,50.0 C300.8,45.0 290.0,36.7 285.0,30.0 C280.0,23.3 272.5,13.7 280.0,10.0Z" fill="#5ca6f4"/><path d="M300.0,14.0 C305.0,10.7 340.0,11.7 360.0,12.0 C380.0,12.3 403.3,13.3 420.0,16.0 C436.7,18.7 460.0,24.8 460.0,28.0 C460.0,31.2 433.3,34.7 420.0,35.0 C406.7,35.3 395.0,30.5 380.0,30.0 C365.0,29.5 343.3,34.7 330.0,32.0 C316.7,29.3 295.0,17.3 300.0,14.0Z" fill="#5c5cf0"/><path d="M284.0,35.0 C290.0,30.0 309.0,35.8 320.0,40.0 C331.0,44.2 343.3,50.0 350.0,60.0 C356.7,70.0 361.7,90.8 360.0,100.0 C358.3,109.2 350.0,114.2 340.0,115.0 C330.0,115.8 309.3,112.5 300.0,105.0 C290.7,97.5 286.7,81.7 284.0,70.0 C281.3,58.3 278.0,40.0 284.0,35.0Z" fill="#5ca6f4"/><path d="M0.0,140.0 C6.7,118.8 26.7,144.7 40.0,148.0 C53.3,151.3 61.7,156.3 80.0,160.0 C98.3,163.7 136.7,161.7 150.0,170.0 C163.3,178.3 163.3,196.7 160.0,210.0 C156.7,223.3 143.3,238.3 130.0,250.0 C116.7,261.7 95.0,275.0 80.0,280.0 C65.0,285.0 53.3,280.8 40.0,280.0 C26.7,279.2 6.7,298.3 0.0,275.0 C-6.7,251.7 -6.7,161.2 0.0,140.0Z" fill="#5ca6f4"/><path d="M0.0,240.0 C6.7,232.5 26.7,243.3 40.0,245.0 C53.3,246.7 65.0,247.2 80.0,250.0 C95.0,252.8 123.3,256.2 130.0,262.0 C136.7,267.8 128.3,280.3 120.0,285.0 C111.7,289.7 93.3,289.5 80.0,290.0 C66.7,290.5 53.3,288.0 40.0,288.0 C26.7,288.0 6.7,298.0 0.0,290.0 C-6.7,282.0 -6.7,247.5 0.0,240.0Z" fill="#5c5cf0"/><path d="M130.0,230.0 C136.7,215.0 163.3,200.0 180.0,190.0 C196.7,180.0 216.7,168.3 230.0,170.0 C243.3,171.7 255.0,188.3 260.0,200.0 C265.0,211.7 261.7,223.3 260.0,240.0 C258.3,256.7 253.3,283.3 250.0,300.0 C246.7,316.7 245.0,325.0 240.0,340.0 C235.0,355.0 230.0,380.0 220.0,390.0 C210.0,400.0 191.7,401.7 180.0,400.0 C168.3,398.3 156.7,391.7 150.0,380.0 C143.3,368.3 141.7,346.7 140.0,330.0 C138.3,313.3 141.7,296.7 140.0,280.0 C138.3,263.3 123.3,245.0 130.0,230.0Z" fill="#5ca6f4"/><path d="M160.0,250.0 C164.7,236.7 180.0,228.3 190.0,220.0 C200.0,211.7 211.7,200.0 220.0,200.0 C228.3,200.0 237.5,208.3 240.0,220.0 C242.5,231.7 238.3,253.3 235.0,270.0 C231.7,286.7 225.8,308.3 220.0,320.0 C214.2,331.7 207.5,338.3 200.0,340.0 C192.5,341.7 181.3,336.7 175.0,330.0 C168.7,323.3 164.5,313.3 162.0,300.0 C159.5,286.7 155.3,263.3 160.0,250.0Z" fill="#5c5cf0"/><path d="M234.0,315.0 C241.5,308.0 264.0,317.2 280.0,318.0 C296.0,318.8 313.3,321.3 330.0,320.0 C346.7,318.7 365.0,313.3 380.0,310.0 C395.0,306.7 403.8,305.0 420.0,300.0 C436.2,295.0 467.5,265.0 477.0,280.0 C486.5,295.0 486.5,371.3 477.0,390.0 C467.5,408.7 439.5,391.2 420.0,392.0 C400.5,392.8 380.0,393.7 360.0,395.0 C340.0,396.3 318.3,400.0 300.0,400.0 C281.7,400.0 260.8,401.7 250.0,395.0 C239.2,388.3 237.7,373.3 235.0,360.0 C232.3,346.7 226.5,322.0 234.0,315.0Z" fill="#5ca6f4"/><path d="M338.0,340.0 C344.7,331.7 366.3,333.3 380.0,330.0 C393.7,326.7 403.8,325.0 420.0,320.0 C436.2,315.0 467.5,293.3 477.0,300.0 C486.5,306.7 484.8,348.0 477.0,360.0 C469.2,372.0 446.2,368.7 430.0,372.0 C413.8,375.3 395.0,378.7 380.0,380.0 C365.0,381.3 347.0,386.7 340.0,380.0 C333.0,373.3 331.3,348.3 338.0,340.0Z" fill="#5c5cf0"/><path d="M88.0,392.0 C91.3,389.0 104.0,387.0 110.0,388.0 C116.0,389.0 124.0,394.7 124.0,398.0 C124.0,401.3 115.7,406.7 110.0,408.0 C104.3,409.3 93.7,408.7 90.0,406.0 C86.3,403.3 84.7,395.0 88.0,392.0Z" fill="#5c5cf0"/><path d="M240.0,400.0 C250.0,394.7 280.0,405.0 300.0,405.0 C320.0,405.0 340.0,401.7 360.0,400.0 C380.0,398.3 406.5,395.0 420.0,395.0 C433.5,395.0 437.5,393.0 441.0,400.0 C444.5,407.0 474.5,430.8 441.0,437.0 C407.5,443.2 273.5,443.2 240.0,437.0 C206.5,430.8 230.0,405.3 240.0,400.0Z" fill="#5ef2f0"/><path d="M300.0,210.0 C305.0,203.3 326.7,200.8 340.0,200.0 C353.3,199.2 365.0,205.0 380.0,205.0 C395.0,205.0 413.8,201.5 430.0,200.0 C446.2,198.5 469.2,189.3 477.0,196.0 C484.8,202.7 483.2,231.8 477.0,240.0 C470.8,248.2 452.8,243.3 440.0,245.0 C427.2,246.7 415.0,250.0 400.0,250.0 C385.0,250.0 365.0,246.7 350.0,245.0 C335.0,243.3 318.3,245.8 310.0,240.0 C301.7,234.2 295.0,216.7 300.0,210.0Z" fill="#5ca6f4"/><path d="M15.0,167.0 C19.8,160.8 30.2,159.8 39.0,159.0 C47.8,158.2 61.5,158.3 68.0,162.0 C74.5,165.7 77.2,173.0 78.0,181.0 C78.8,189.0 73.0,200.2 73.0,210.0 C73.0,219.8 78.8,231.0 78.0,240.0 C77.2,249.0 73.0,259.2 68.0,264.0 C63.0,268.8 55.3,269.8 48.0,269.0 C40.7,268.2 30.3,264.7 24.0,259.0 C17.7,253.3 12.3,245.5 10.0,235.0 C7.7,224.5 9.2,207.3 10.0,196.0 C10.8,184.7 10.2,173.2 15.0,167.0Z" fill="#1eee1e"/><path d="M36.0,170.0 C39.7,166.0 51.7,164.7 56.0,168.0 C60.3,171.3 61.7,182.7 62.0,190.0 C62.3,197.3 61.7,208.0 58.0,212.0 C54.3,216.0 44.0,217.3 40.0,214.0 C36.0,210.7 34.7,199.3 34.0,192.0 C33.3,184.7 32.3,174.0 36.0,170.0Z" fill="#0a820a"/><path d="M46.0,240.0 C47.3,237.7 55.3,236.7 58.0,238.0 C60.7,239.3 63.3,245.7 62.0,248.0 C60.7,250.3 52.7,253.3 50.0,252.0 C47.3,250.7 44.7,242.3 46.0,240.0Z" fill="#0a820a"/><path d="M92.0,240.0 C95.7,233.0 104.7,217.3 112.0,210.0 C119.3,202.7 129.7,198.0 136.0,196.0 C142.3,194.0 148.3,193.2 150.0,198.0 C151.7,202.8 150.0,216.5 146.0,225.0 C142.0,233.5 133.3,243.3 126.0,249.0 C118.7,254.7 108.0,258.5 102.0,259.0 C96.0,259.5 91.7,255.2 90.0,252.0 C88.3,248.8 88.3,247.0 92.0,240.0Z" fill="#1eee1e"/><path d="M108.0,232.0 C109.7,227.0 117.0,216.7 122.0,212.0 C127.0,207.3 135.0,203.0 138.0,204.0 C141.0,205.0 141.7,212.7 140.0,218.0 C138.3,223.3 132.7,232.0 128.0,236.0 C123.3,240.0 115.3,242.7 112.0,242.0 C108.7,241.3 106.3,237.0 108.0,232.0Z" fill="#0a820a"/><path d="M234.0,258.0 C238.3,252.0 255.0,251.2 262.0,254.0 C269.0,256.8 274.7,267.3 276.0,275.0 C277.3,282.7 274.3,294.2 270.0,300.0 C265.7,305.8 255.7,311.7 250.0,310.0 C244.3,308.3 238.7,298.7 236.0,290.0 C233.3,281.3 229.7,264.0 234.0,258.0Z" fill="#1eee1e"/><path d="M242.0,262.0 C244.7,258.2 256.0,259.0 260.0,262.0 C264.0,265.0 267.0,274.3 266.0,280.0 C265.0,285.7 257.7,295.2 254.0,296.0 C250.3,296.8 246.0,290.7 244.0,285.0 C242.0,279.3 239.3,265.8 242.0,262.0Z" fill="#0a820a"/><path d="M250.0,265.0 C251.0,263.0 255.7,262.3 257.0,264.0 C258.3,265.7 259.0,273.0 258.0,275.0 C257.0,277.0 252.3,277.7 251.0,276.0 C249.7,274.3 249.0,267.0 250.0,265.0Z" fill="#f2f25c"/><path d="M171.0,358.0 C174.8,354.0 188.2,352.3 195.0,354.0 C201.8,355.7 210.3,362.3 212.0,368.0 C213.7,373.7 209.5,384.0 205.0,388.0 C200.5,392.0 190.5,393.7 185.0,392.0 C179.5,390.3 174.3,383.7 172.0,378.0 C169.7,372.3 167.2,362.0 171.0,358.0Z" fill="#1eee1e"/><path d="M180.0,362.0 C182.7,358.3 193.7,358.3 198.0,360.0 C202.3,361.7 206.3,367.7 206.0,372.0 C205.7,376.3 200.0,384.3 196.0,386.0 C192.0,387.7 184.7,386.0 182.0,382.0 C179.3,378.0 177.3,365.7 180.0,362.0Z" fill="#0a820a"/><path d="M190.0,368.0 C191.2,366.2 196.3,365.5 198.0,367.0 C199.7,368.5 201.2,375.2 200.0,377.0 C198.8,378.8 192.7,379.5 191.0,378.0 C189.3,376.5 188.8,369.8 190.0,368.0Z" fill="#f2f25c"/><path d="M312.0,210.0 C315.8,206.0 329.0,204.0 335.0,206.0 C341.0,208.0 348.8,217.0 348.0,222.0 C347.2,227.0 336.0,234.7 330.0,236.0 C324.0,237.3 315.0,234.3 312.0,230.0 C309.0,225.7 308.2,214.0 312.0,210.0Z" fill="#1eee1e"/><path d="M385.0,210.0 C389.2,204.0 410.5,203.3 420.0,204.0 C429.5,204.7 440.3,208.3 442.0,214.0 C443.7,219.7 437.8,233.7 430.0,238.0 C422.2,242.3 402.5,244.7 395.0,240.0 C387.5,235.3 380.8,216.0 385.0,210.0Z" fill="#1eee1e"/><path d="M307.0,262.0 C310.0,259.0 322.3,257.3 330.0,258.0 C337.7,258.7 351.3,262.7 353.0,266.0 C354.7,269.3 346.8,276.3 340.0,278.0 C333.2,279.7 317.5,278.7 312.0,276.0 C306.5,273.3 304.0,265.0 307.0,262.0Z" fill="#1eee1e"/><path d="M374.0,340.0 C374.0,335.0 389.0,326.7 400.0,320.0 C411.0,313.3 427.2,305.0 440.0,300.0 C452.8,295.0 470.8,285.0 477.0,290.0 C483.2,295.0 483.2,321.7 477.0,330.0 C470.8,338.3 452.8,336.7 440.0,340.0 C427.2,343.3 411.0,350.0 400.0,350.0 C389.0,350.0 374.0,345.0 374.0,340.0Z" fill="#1eee1e"/><path d="M320.0,22.0 C326.3,19.7 346.7,18.0 360.0,18.0 C373.3,18.0 394.2,19.2 400.0,22.0 C405.8,24.8 403.3,32.7 395.0,35.0 C386.7,37.3 362.2,36.5 350.0,36.0 C337.8,35.5 327.0,34.3 322.0,32.0 C317.0,29.7 313.7,24.3 320.0,22.0Z" fill="#1eee1e"/><path d="M150.0,110.0 C153.3,96.7 157.5,98.3 165.0,90.0 C172.5,81.7 188.3,70.8 195.0,60.0 C201.7,49.2 198.3,32.7 205.0,25.0 C211.7,17.3 225.5,13.5 235.0,14.0 C244.5,14.5 252.8,20.3 262.0,28.0 C271.2,35.7 280.3,50.0 290.0,60.0 C299.7,70.0 308.3,81.3 320.0,88.0 C331.7,94.7 343.3,96.7 360.0,100.0 C376.7,103.3 400.5,107.2 420.0,108.0 C439.5,108.8 467.5,92.7 477.0,105.0 C486.5,117.3 486.5,169.8 477.0,182.0 C467.5,194.2 437.8,179.7 420.0,178.0 C402.2,176.3 385.0,174.7 370.0,172.0 C355.0,169.3 341.7,165.3 330.0,162.0 C318.3,158.7 310.0,154.0 300.0,152.0 C290.0,150.0 278.3,146.2 270.0,150.0 C261.7,153.8 255.8,165.0 250.0,175.0 C244.2,185.0 240.8,197.5 235.0,210.0 C229.2,222.5 222.5,240.3 215.0,250.0 C207.5,259.7 197.5,264.3 190.0,268.0 C182.5,271.7 176.7,273.0 170.0,272.0 C163.3,271.0 154.2,270.7 150.0,262.0 C145.8,253.3 145.8,235.3 145.0,220.0 C144.2,204.7 144.2,188.3 145.0,170.0 C145.8,151.7 146.7,123.3 150.0,110.0Z" fill="#1eee1e"/><path d="M172.0,190.0 C176.7,179.2 188.7,161.3 200.0,150.0 C211.3,138.7 225.0,129.7 240.0,122.0 C255.0,114.3 280.0,104.3 290.0,104.0 C300.0,103.7 301.7,112.3 300.0,120.0 C298.3,127.7 286.3,140.0 280.0,150.0 C273.7,160.0 267.0,169.2 262.0,180.0 C257.0,190.8 255.0,205.3 250.0,215.0 C245.0,224.7 239.5,232.2 232.0,238.0 C224.5,243.8 213.3,249.7 205.0,250.0 C196.7,250.3 187.5,245.8 182.0,240.0 C176.5,234.2 173.7,223.3 172.0,215.0 C170.3,206.7 167.3,200.8 172.0,190.0Z" fill="#3fae58"/><path d="M190.0,215.0 C193.3,206.7 206.7,196.7 215.0,190.0 C223.3,183.3 233.3,175.0 240.0,175.0 C246.7,175.0 255.0,182.5 255.0,190.0 C255.0,197.5 246.7,211.7 240.0,220.0 C233.3,228.3 222.5,236.7 215.0,240.0 C207.5,243.3 199.2,244.2 195.0,240.0 C190.8,235.8 186.7,223.3 190.0,215.0Z" fill="#5c64d8"/><path d="M168.0,150.0 C168.3,139.3 168.7,129.7 174.0,120.0 C179.3,110.3 194.0,102.3 200.0,92.0 C206.0,81.7 207.7,68.3 210.0,58.0 C212.3,47.7 210.3,34.7 214.0,30.0 C217.7,25.3 224.3,26.3 232.0,30.0 C239.7,33.7 250.7,43.7 260.0,52.0 C269.3,60.3 282.0,72.3 288.0,80.0 C294.0,87.7 298.7,93.3 296.0,98.0 C293.3,102.7 281.7,105.0 272.0,108.0 C262.3,111.0 248.7,111.7 238.0,116.0 C227.3,120.3 216.7,126.7 208.0,134.0 C199.3,141.3 192.0,151.7 186.0,160.0 C180.0,168.3 175.0,185.7 172.0,184.0 C169.0,182.3 167.7,160.7 168.0,150.0Z" fill="#f2f25c" stroke="#f2f25c" stroke-width="6" stroke-linejoin="round"/><path d="M168.0,150.0 C168.3,139.3 168.7,129.7 174.0,120.0 C179.3,110.3 194.0,102.3 200.0,92.0 C206.0,81.7 207.7,68.3 210.0,58.0 C212.3,47.7 210.3,34.7 214.0,30.0 C217.7,25.3 224.3,26.3 232.0,30.0 C239.7,33.7 250.7,43.7 260.0,52.0 C269.3,60.3 282.0,72.3 288.0,80.0 C294.0,87.7 298.7,93.3 296.0,98.0 C293.3,102.7 281.7,105.0 272.0,108.0 C262.3,111.0 248.7,111.7 238.0,116.0 C227.3,120.3 216.7,126.7 208.0,134.0 C199.3,141.3 192.0,151.7 186.0,160.0 C180.0,168.3 175.0,185.7 172.0,184.0 C169.0,182.3 167.7,160.7 168.0,150.0Z" fill="#d65a86"/><path d="M342.0,118.0 C344.7,115.7 355.7,113.3 362.0,114.0 C368.3,114.7 379.0,119.3 380.0,122.0 C381.0,124.7 373.7,129.0 368.0,130.0 C362.3,131.0 350.3,130.0 346.0,128.0 C341.7,126.0 339.3,120.3 342.0,118.0Z" fill="#f2f25c"/><path d="M428.0,138.0 C431.0,133.7 441.8,128.7 450.0,126.0 C458.2,123.3 472.5,116.3 477.0,122.0 C481.5,127.7 480.7,153.3 477.0,160.0 C473.3,166.7 462.5,163.3 455.0,162.0 C447.5,160.7 436.5,156.0 432.0,152.0 C427.5,148.0 425.0,142.3 428.0,138.0Z" fill="#f2f25c"/><path d="M440.0,136.0 C442.3,132.7 451.8,129.7 458.0,128.0 C464.2,126.3 473.8,121.5 477.0,126.0 C480.2,130.5 480.2,150.0 477.0,155.0 C473.8,160.0 463.5,157.2 458.0,156.0 C452.5,154.8 447.0,151.3 444.0,148.0 C441.0,144.7 437.7,139.3 440.0,136.0Z" fill="#f45c5c"/><path d="M176.0,182.0 C176.7,179.2 183.3,177.0 186.0,178.0 C188.7,179.0 192.7,185.2 192.0,188.0 C191.3,190.8 184.7,196.0 182.0,195.0 C179.3,194.0 175.3,184.8 176.0,182.0Z" fill="#e07890"/><path d="M150.0,60.0 C158.3,57.5 178.3,46.7 200.0,45.0 C221.7,43.3 260.0,45.8 280.0,50.0 C300.0,54.2 309.2,60.0 320.0,70.0 C330.8,80.0 343.3,96.7 345.0,110.0 C346.7,123.3 337.5,140.8 330.0,150.0 C322.5,159.2 311.7,160.8 300.0,165.0 C288.3,169.2 271.7,169.2 260.0,175.0 C248.3,180.8 237.5,189.2 230.0,200.0 C222.5,210.8 220.0,223.3 215.0,240.0 C210.0,256.7 203.3,280.0 200.0,300.0 C196.7,320.0 195.0,345.8 195.0,360.0 C195.0,374.2 196.7,380.0 200.0,385.0 C203.3,390.0 212.5,389.2 215.0,390.0" fill="none" stroke="#70307a" stroke-width="2.1"/><path d="M135.0,230.0 C135.8,241.7 138.3,280.0 140.0,300.0 C141.7,320.0 140.8,334.2 145.0,350.0 C149.2,365.8 155.8,385.0 165.0,395.0 C174.2,405.0 187.5,408.3 200.0,410.0 C212.5,411.7 226.7,408.3 240.0,405.0 C253.3,401.7 266.7,394.2 280.0,390.0 C293.3,385.8 306.7,383.3 320.0,380.0 C333.3,376.7 346.7,375.8 360.0,370.0 C373.3,364.2 386.7,353.3 400.0,345.0 C413.3,336.7 428.3,329.2 440.0,320.0 C451.7,310.8 465.0,295.0 470.0,290.0" fill="none" stroke="#70307a" stroke-width="2.1"/><path d="M240.0,190.0 C245.0,195.0 260.0,210.0 270.0,220.0 C280.0,230.0 288.3,243.3 300.0,250.0 C311.7,256.7 326.7,257.5 340.0,260.0 C353.3,262.5 366.7,265.0 380.0,265.0 C393.3,265.0 406.7,262.5 420.0,260.0 C433.3,257.5 453.3,251.7 460.0,250.0" fill="none" stroke="#70307a" stroke-width="2.1"/><path d="M250.0,240.0 C251.7,250.0 255.0,285.0 260.0,300.0 C265.0,315.0 270.0,321.7 280.0,330.0 C290.0,338.3 303.3,345.8 320.0,350.0 C336.7,354.2 361.7,356.7 380.0,355.0 C398.3,353.3 421.7,342.5 430.0,340.0" fill="none" stroke="#70307a" stroke-width="2.1"/><path d="M300.0,150.0 C306.7,154.2 330.0,166.7 340.0,175.0 C350.0,183.3 358.3,190.8 360.0,200.0 C361.7,209.2 356.7,222.5 350.0,230.0 C343.3,237.5 330.0,243.3 320.0,245.0 C310.0,246.7 295.0,240.8 290.0,240.0" fill="none" stroke="#70307a" stroke-width="2.1"/><path d="M150.0,240.0 C152.5,250.0 160.0,283.3 165.0,300.0 C170.0,316.7 176.7,328.3 180.0,340.0 C183.3,351.7 184.2,365.0 185.0,370.0" fill="none" stroke="#70307a" stroke-width="2.1"/><path d="M160.0,240.0 C162.5,250.0 169.2,285.0 175.0,300.0 C180.8,315.0 190.0,320.0 195.0,330.0 C200.0,340.0 203.3,355.0 205.0,360.0" fill="none" stroke="#70307a" stroke-width="2.1"/><path d="M175.0,190.0 C179.2,183.3 189.2,161.7 200.0,150.0 C210.8,138.3 233.3,125.0 240.0,120.0" fill="none" stroke="#70307a" stroke-width="1.0"/><path d="M179.3,188.6 C183.7,181.7 194.6,159.0 205.7,147.1 C216.8,135.2 239.0,122.1 245.7,117.1" fill="none" stroke="#70307a" stroke-width="1.0"/><path d="M183.6,187.1 C188.2,180.0 200.1,156.4 211.4,144.3 C222.7,132.1 244.8,119.3 251.4,114.3" fill="none" stroke="#70307a" stroke-width="1.0"/><path d="M187.9,185.7 C192.7,178.3 205.6,153.8 217.1,141.4 C228.7,129.0 250.5,116.4 257.1,111.4" fill="none" stroke="#70307a" stroke-width="1.0"/><path d="M192.1,184.3 C197.3,176.7 211.1,151.2 222.9,138.6 C234.6,126.0 256.2,113.6 262.9,108.6" fill="none" stroke="#70307a" stroke-width="1.0"/><path d="M196.4,182.9 C201.8,175.0 216.5,148.6 228.6,135.7 C240.6,122.9 261.9,110.7 268.6,105.7" fill="none" stroke="#70307a" stroke-width="1.0"/><path d="M200.7,181.4 C206.3,173.3 222.0,146.0 234.3,132.9 C246.5,119.8 267.6,107.9 274.3,102.9" fill="none" stroke="#70307a" stroke-width="1.0"/><path d="M205.0,180.0 C210.8,171.7 227.5,143.3 240.0,130.0 C252.5,116.7 273.3,105.0 280.0,100.0" fill="none" stroke="#70307a" stroke-width="1.0"/></g></svg>
<div class="fr" style="left:210px;top:302px;width:118px;height:108px"></div>
<div class="tk" style="left:239px;top:410px;width:1px;height:2px"></div>
<div class="a" style="left:229.50px;top:412.40px;width:20px;text-align:center;font-size:6.5px;line-height:6.5px;white-space:nowrap;color:#111;"><span style="display:inline-block;transform:scaleX(1.1);transform-origin:50% 50%">70</span></div>
<div class="tk" style="left:269px;top:410px;width:1px;height:2px"></div>
<div class="a" style="left:259.50px;top:412.40px;width:20px;text-align:center;font-size:6.5px;line-height:6.5px;white-space:nowrap;color:#111;"><span style="display:inline-block;transform:scaleX(1.1);transform-origin:50% 50%">80</span></div>
<div class="tk" style="left:299px;top:410px;width:1px;height:2px"></div>
<div class="a" style="left:289.50px;top:412.40px;width:20px;text-align:center;font-size:6.5px;line-height:6.5px;white-space:nowrap;color:#111;"><span style="display:inline-block;transform:scaleX(1.1);transform-origin:50% 50%">90</span></div>
<div class="tk" style="left:208px;top:312.0px;width:2px;height:1px"></div>
<div class="a" style="left:177.80px;top:309.60px;width:30px;text-align:right;font-size:6.5px;line-height:6.5px;white-space:nowrap;color:#111;"><span style="display:inline-block;transform:scaleX(1.08);transform-origin:100% 50%">15.0</span></div>
<div class="tk" style="left:208px;top:328.2px;width:2px;height:1px"></div>
<div class="a" style="left:177.80px;top:325.80px;width:30px;text-align:right;font-size:6.5px;line-height:6.5px;white-space:nowrap;color:#111;"><span style="display:inline-block;transform:scaleX(1.08);transform-origin:100% 50%">12.5</span></div>
<div class="tk" style="left:208px;top:344.4px;width:2px;height:1px"></div>
<div class="a" style="left:177.80px;top:342.00px;width:30px;text-align:right;font-size:6.5px;line-height:6.5px;white-space:nowrap;color:#111;"><span style="display:inline-block;transform:scaleX(1.08);transform-origin:100% 50%">10.0</span></div>
<div class="tk" style="left:208px;top:360.6px;width:2px;height:1px"></div>
<div class="a" style="left:177.80px;top:358.20px;width:30px;text-align:right;font-size:6.5px;line-height:6.5px;white-space:nowrap;color:#111;"><span style="display:inline-block;transform:scaleX(1.08);transform-origin:100% 50%">7.5</span></div>
<div class="tk" style="left:208px;top:376.8px;width:2px;height:1px"></div>
<div class="a" style="left:177.80px;top:374.40px;width:30px;text-align:right;font-size:6.5px;line-height:6.5px;white-space:nowrap;color:#111;"><span style="display:inline-block;transform:scaleX(1.08);transform-origin:100% 50%">5.0</span></div>
<div class="tk" style="left:208px;top:393.0px;width:2px;height:1px"></div>
<div class="a" style="left:177.80px;top:390.60px;width:30px;text-align:right;font-size:6.5px;line-height:6.5px;white-space:nowrap;color:#111;"><span style="display:inline-block;transform:scaleX(1.08);transform-origin:100% 50%">2.5</span></div>
<div class="pl" style="left:192.2px;top:286.90px;font-size:12.3px;line-height:12.3px">(h)</div>
<div class="a" style="left:249.30px;top:419.21px;width:40px;text-align:center;font-size:7.2px;line-height:7.2px;white-space:nowrap;color:#111;"><span style="display:inline-block;transform:scaleX(1.07);transform-origin:50% 50%">X (km)</span></div>
<svg class="p" style="left:346px;top:304px" width="118" height="108" viewBox="0 0 477 437" preserveAspectRatio="none"><defs><clipPath id="ci"><rect x="2.0" y="2.0" width="473.0" height="433.0"/></clipPath></defs><g clip-path="url(#ci)"><rect x="0" y="0" width="477" height="437" fill="#5ef2f0"/><path d="M0.0,0.0 C23.3,-23.3 116.7,-1.7 140.0,0.0 C163.3,1.7 141.3,0.0 140.0,10.0 C138.7,20.0 135.7,45.0 132.0,60.0 C128.3,75.0 123.3,88.3 118.0,100.0 C112.7,111.7 106.0,122.5 100.0,130.0 C94.0,137.5 90.3,141.7 82.0,145.0 C73.7,148.3 60.3,150.0 50.0,150.0 C39.7,150.0 28.3,146.7 20.0,145.0 C11.7,143.3 3.3,164.2 0.0,140.0 C-3.3,115.8 -23.3,23.3 0.0,0.0Z" fill="#ffffff"/><path d="M0.0,257.0 C4.2,244.8 18.2,256.5 25.0,262.0 C31.8,267.5 38.8,280.3 41.0,290.0 C43.2,299.7 41.5,312.5 38.0,320.0 C34.5,327.5 26.3,332.5 20.0,335.0 C13.7,337.5 3.3,348.0 0.0,335.0 C-3.3,322.0 -4.2,269.2 0.0,257.0Z" fill="#ffffff"/><path d="M181.0,210.0 C184.2,195.0 194.3,190.0 200.0,180.0 C205.7,170.0 208.3,160.0 215.0,150.0 C221.7,140.0 232.2,127.0 240.0,120.0 C247.8,113.0 253.7,110.7 262.0,108.0 C270.3,105.3 282.5,102.0 290.0,104.0 C297.5,106.0 305.3,112.3 307.0,120.0 C308.7,127.7 298.2,141.7 300.0,150.0 C301.8,158.3 313.3,162.5 318.0,170.0 C322.7,177.5 327.7,185.8 328.0,195.0 C328.3,204.2 324.7,218.3 320.0,225.0 C315.3,231.7 306.7,235.0 300.0,235.0 C293.3,235.0 286.7,226.2 280.0,225.0 C273.3,223.8 266.7,226.8 260.0,228.0 C253.3,229.2 245.0,226.7 240.0,232.0 C235.0,237.3 229.7,248.7 230.0,260.0 C230.3,271.3 240.0,288.3 242.0,300.0 C244.0,311.7 244.8,325.0 242.0,330.0 C239.2,335.0 231.2,331.7 225.0,330.0 C218.8,328.3 210.8,325.0 205.0,320.0 C199.2,315.0 194.0,308.3 190.0,300.0 C186.0,291.7 182.5,285.0 181.0,270.0 C179.5,255.0 177.8,225.0 181.0,210.0Z" fill="#ffffff"/><path d="M286.0,288.0 C288.5,283.0 299.8,284.0 305.0,286.0 C310.2,288.0 316.2,294.7 317.0,300.0 C317.8,305.3 314.5,315.3 310.0,318.0 C305.5,320.7 294.0,321.0 290.0,316.0 C286.0,311.0 283.5,293.0 286.0,288.0Z" fill="#ffffff"/><path d="M234.0,351.0 C245.0,344.3 270.3,342.7 286.0,340.0 C301.7,337.3 318.5,333.2 328.0,335.0 C337.5,336.8 343.0,345.0 343.0,351.0 C343.0,357.0 334.8,365.0 328.0,371.0 C321.2,377.0 300.3,382.7 302.0,387.0 C303.7,391.3 323.3,393.5 338.0,397.0 C352.7,400.5 372.7,405.3 390.0,408.0 C407.3,410.7 427.5,412.2 442.0,413.0 C456.5,413.8 471.2,409.0 477.0,413.0 C482.8,417.0 556.5,433.0 477.0,437.0 C397.5,441.0 79.5,439.8 0.0,437.0 C-79.5,434.2 -10.0,422.0 0.0,420.0 C10.0,418.0 40.0,423.7 60.0,425.0 C80.0,426.3 101.7,428.0 120.0,428.0 C138.3,428.0 156.7,428.0 170.0,425.0 C183.3,422.0 191.7,417.5 200.0,410.0 C208.3,402.5 214.3,389.8 220.0,380.0 C225.7,370.2 223.0,357.7 234.0,351.0Z" fill="#ffffff"/><path d="M171.0,384.0 C173.0,381.3 179.2,379.7 182.0,382.0 C184.8,384.3 188.7,393.7 188.0,398.0 C187.3,402.3 181.0,408.0 178.0,408.0 C175.0,408.0 171.2,402.0 170.0,398.0 C168.8,394.0 169.0,386.7 171.0,384.0Z" fill="#ffffff"/><path d="M150.0,0.0 C196.2,-2.0 422.5,-1.3 477.0,0.0 C531.5,1.3 489.8,6.0 477.0,8.0 C464.2,10.0 429.5,11.7 400.0,12.0 C370.5,12.3 333.3,10.0 300.0,10.0 C266.7,10.0 225.0,13.7 200.0,12.0 C175.0,10.3 103.8,2.0 150.0,0.0Z" fill="#ffffff"/><path d="M0.0,10.0 C2.5,4.7 11.3,5.0 15.0,8.0 C18.7,11.0 21.5,21.7 22.0,28.0 C22.5,34.3 21.0,42.8 18.0,46.0 C15.0,49.2 7.0,48.0 4.0,47.0 C1.0,46.0 0.7,46.2 0.0,40.0 C-0.7,33.8 -2.5,15.3 0.0,10.0Z" fill="#5ef2f0"/><path d="M57.0,22.0 C58.0,15.8 62.2,15.0 66.0,18.0 C69.8,21.0 75.7,29.7 80.0,40.0 C84.3,50.3 90.0,68.0 92.0,80.0 C94.0,92.0 94.0,105.7 92.0,112.0 C90.0,118.3 83.7,121.7 80.0,118.0 C76.3,114.3 73.3,100.5 70.0,90.0 C66.7,79.5 62.2,66.3 60.0,55.0 C57.8,43.7 56.0,28.2 57.0,22.0Z" fill="#5ef2f0"/><path d="M160.0,16.0 C172.5,7.7 196.7,10.7 220.0,10.0 C243.3,9.3 273.3,11.3 300.0,12.0 C326.7,12.7 356.7,13.0 380.0,14.0 C403.3,15.0 423.8,17.0 440.0,18.0 C456.2,19.0 470.8,-37.0 477.0,20.0 C483.2,77.0 483.2,304.2 477.0,360.0 C470.8,415.8 452.8,357.5 440.0,355.0 C427.2,352.5 413.3,349.2 400.0,345.0 C386.7,340.8 371.7,337.5 360.0,330.0 C348.3,322.5 336.7,311.7 330.0,300.0 C323.3,288.3 320.0,270.0 320.0,260.0 C320.0,250.0 330.0,250.0 330.0,240.0 C330.0,230.0 325.0,210.0 320.0,200.0 C315.0,190.0 306.7,190.0 300.0,180.0 C293.3,170.0 285.0,153.3 280.0,140.0 C275.0,126.7 275.0,110.0 270.0,100.0 C265.0,90.0 257.5,83.3 250.0,80.0 C242.5,76.7 233.3,76.7 225.0,80.0 C216.7,83.3 206.7,90.0 200.0,100.0 C193.3,110.0 190.0,125.0 185.0,140.0 C180.0,155.0 174.2,173.3 170.0,190.0 C165.8,206.7 163.3,225.0 160.0,240.0 C156.7,255.0 153.3,266.7 150.0,280.0 C146.7,293.3 145.0,306.7 140.0,320.0 C135.0,333.3 128.3,347.5 120.0,360.0 C111.7,372.5 100.0,388.3 90.0,395.0 C80.0,401.7 68.3,402.5 60.0,400.0 C51.7,397.5 41.7,390.0 40.0,380.0 C38.3,370.0 45.0,355.0 50.0,340.0 C55.0,325.0 63.3,308.3 70.0,290.0 C76.7,271.7 83.3,250.0 90.0,230.0 C96.7,210.0 103.3,190.0 110.0,170.0 C116.7,150.0 124.2,128.3 130.0,110.0 C135.8,91.7 140.0,75.7 145.0,60.0 C150.0,44.3 147.5,24.3 160.0,16.0Z" fill="#5ca6f4"/><path d="M170.0,20.0 C184.2,14.3 215.0,16.3 240.0,16.0 C265.0,15.7 293.3,16.5 320.0,18.0 C346.7,19.5 376.7,22.2 400.0,25.0 C423.3,27.8 447.2,32.5 460.0,35.0 C472.8,37.5 474.2,31.7 477.0,40.0 C479.8,48.3 483.2,78.3 477.0,85.0 C470.8,91.7 452.8,82.5 440.0,80.0 C427.2,77.5 415.0,73.3 400.0,70.0 C385.0,66.7 366.7,63.3 350.0,60.0 C333.3,56.7 316.7,52.0 300.0,50.0 C283.3,48.0 264.2,47.2 250.0,48.0 C235.8,48.8 225.0,49.7 215.0,55.0 C205.0,60.3 196.7,69.2 190.0,80.0 C183.3,90.8 179.2,105.0 175.0,120.0 C170.8,135.0 169.2,153.3 165.0,170.0 C160.8,186.7 155.0,203.3 150.0,220.0 C145.0,236.7 140.0,253.3 135.0,270.0 C130.0,286.7 125.8,305.0 120.0,320.0 C114.2,335.0 107.5,349.2 100.0,360.0 C92.5,370.8 82.5,381.7 75.0,385.0 C67.5,388.3 57.5,387.5 55.0,380.0 C52.5,372.5 55.8,356.7 60.0,340.0 C64.2,323.3 73.3,300.0 80.0,280.0 C86.7,260.0 93.3,240.0 100.0,220.0 C106.7,200.0 113.3,180.0 120.0,160.0 C126.7,140.0 134.2,118.3 140.0,100.0 C145.8,81.7 150.0,63.3 155.0,50.0 C160.0,36.7 155.8,25.7 170.0,20.0Z" fill="#5c5cf0"/><path d="M150.0,100.0 C154.2,91.0 161.7,91.0 165.0,96.0 C168.3,101.0 170.8,116.0 170.0,130.0 C169.2,144.0 164.2,163.3 160.0,180.0 C155.8,196.7 150.0,213.3 145.0,230.0 C140.0,246.7 135.0,265.0 130.0,280.0 C125.0,295.0 119.7,313.7 115.0,320.0 C110.3,326.3 102.8,326.3 102.0,318.0 C101.2,309.7 106.2,288.0 110.0,270.0 C113.8,252.0 120.0,230.0 125.0,210.0 C130.0,190.0 135.8,168.3 140.0,150.0 C144.2,131.7 145.8,109.0 150.0,100.0Z" fill="#5ca6f4"/><path d="M250.0,62.0 C257.5,58.7 285.0,57.3 300.0,58.0 C315.0,58.7 335.0,62.3 340.0,66.0 C345.0,69.7 338.3,77.7 330.0,80.0 C321.7,82.3 302.5,80.3 290.0,80.0 C277.5,79.7 261.7,81.0 255.0,78.0 C248.3,75.0 242.5,65.3 250.0,62.0Z" fill="#5ca6f4"/><path d="M370.0,110.0 C378.3,100.0 402.2,101.7 420.0,100.0 C437.8,98.3 467.5,61.7 477.0,100.0 C486.5,138.3 483.0,289.2 477.0,330.0 C471.0,370.8 452.2,344.2 441.0,345.0 C429.8,345.8 421.2,340.2 410.0,335.0 C398.8,329.8 381.7,320.2 374.0,314.0 C366.3,307.8 361.3,304.8 364.0,298.0 C366.7,291.2 384.0,282.5 390.0,273.0 C396.0,263.5 400.0,253.2 400.0,241.0 C400.0,228.8 395.0,213.5 390.0,200.0 C385.0,186.5 373.3,175.0 370.0,160.0 C366.7,145.0 361.7,120.0 370.0,110.0Z" fill="#5c5cf0"/><path d="M350.0,120.0 C354.2,111.3 373.3,113.0 380.0,118.0 C386.7,123.0 390.0,140.5 390.0,150.0 C390.0,159.5 385.8,171.7 380.0,175.0 C374.2,178.3 360.0,179.2 355.0,170.0 C350.0,160.8 345.8,128.7 350.0,120.0Z" fill="#5ca6f4"/><path d="M286.0,221.0 C289.7,217.7 307.7,217.7 312.0,221.0 C316.3,224.3 315.7,237.7 312.0,241.0 C308.3,244.3 294.3,244.3 290.0,241.0 C285.7,237.7 282.3,224.3 286.0,221.0Z" fill="#5c5cf0"/><path d="M0.0,160.0 C5.0,146.7 23.3,158.3 30.0,165.0 C36.7,171.7 37.5,187.5 40.0,200.0 C42.5,212.5 47.5,231.7 45.0,240.0 C42.5,248.3 32.5,249.2 25.0,250.0 C17.5,250.8 4.2,260.0 0.0,245.0 C-4.2,230.0 -5.0,173.3 0.0,160.0Z" fill="#5ca6f4"/><path d="M8.0,192.0 C11.0,185.3 23.5,186.2 28.0,190.0 C32.5,193.8 36.0,207.0 35.0,215.0 C34.0,223.0 26.2,235.5 22.0,238.0 C17.8,240.5 12.3,237.7 10.0,230.0 C7.7,222.3 5.0,198.7 8.0,192.0Z" fill="#5c5cf0"/><path d="M15.0,395.0 C19.7,389.5 34.2,382.5 40.0,385.0 C45.8,387.5 51.7,403.3 50.0,410.0 C48.3,416.7 36.3,423.7 30.0,425.0 C23.7,426.3 14.5,423.0 12.0,418.0 C9.5,413.0 10.3,400.5 15.0,395.0Z" fill="#5ca6f4"/><path d="M424.0,62.0 C428.0,55.2 439.2,47.3 448.0,44.0 C456.8,40.7 472.2,30.7 477.0,42.0 C481.8,53.3 480.7,101.0 477.0,112.0 C473.3,123.0 462.0,110.0 455.0,108.0 C448.0,106.0 440.2,103.8 435.0,100.0 C429.8,96.2 425.8,91.3 424.0,85.0 C422.2,78.7 420.0,68.8 424.0,62.0Z" fill="#1eee1e"/><path d="M448.0,148.0 C448.8,145.3 460.2,144.3 465.0,144.0 C469.8,143.7 475.0,143.3 477.0,146.0 C479.0,148.7 479.8,157.7 477.0,160.0 C474.2,162.3 464.8,162.0 460.0,160.0 C455.2,158.0 447.2,150.7 448.0,148.0Z" fill="#1eee1e"/><path d="M410.0,186.0 C414.2,180.7 428.8,180.7 440.0,180.0 C451.2,179.3 470.8,176.2 477.0,182.0 C483.2,187.8 482.3,209.0 477.0,215.0 C471.7,221.0 455.3,218.5 445.0,218.0 C434.7,217.5 420.8,217.3 415.0,212.0 C409.2,206.7 405.8,191.3 410.0,186.0Z" fill="#1eee1e"/><path d="M421.0,320.0 C424.8,313.3 437.3,303.7 445.0,300.0 C452.7,296.3 463.7,293.8 467.0,298.0 C470.3,302.2 469.5,317.2 465.0,325.0 C460.5,332.8 447.2,342.5 440.0,345.0 C432.8,347.5 425.2,344.2 422.0,340.0 C418.8,335.8 417.2,326.7 421.0,320.0Z" fill="#1eee1e"/><path d="M240.0,284.0 C243.7,279.0 256.0,279.3 262.0,282.0 C268.0,284.7 274.3,292.8 276.0,300.0 C277.7,307.2 276.0,320.0 272.0,325.0 C268.0,330.0 257.3,332.2 252.0,330.0 C246.7,327.8 242.0,319.7 240.0,312.0 C238.0,304.3 236.3,289.0 240.0,284.0Z" fill="#5c5cf0"/><path d="M247.0,292.0 C249.3,287.8 258.5,287.0 262.0,290.0 C265.5,293.0 268.3,304.7 268.0,310.0 C267.7,315.3 263.3,321.2 260.0,322.0 C256.7,322.8 250.2,320.0 248.0,315.0 C245.8,310.0 244.7,296.2 247.0,292.0Z" fill="#1eee1e"/><path d="M197.0,345.0 C199.3,342.0 206.5,339.5 210.0,342.0 C213.5,344.5 217.7,353.3 218.0,360.0 C218.3,366.7 215.0,379.0 212.0,382.0 C209.0,385.0 202.7,381.7 200.0,378.0 C197.3,374.3 196.5,365.5 196.0,360.0 C195.5,354.5 194.7,348.0 197.0,345.0Z" fill="#1eee1e"/><path d="M160.0,187.0 C160.7,184.5 167.3,184.0 170.0,185.0 C172.7,186.0 176.7,190.5 176.0,193.0 C175.3,195.5 168.7,201.0 166.0,200.0 C163.3,199.0 159.3,189.5 160.0,187.0Z" fill="#1eee1e"/><path d="M0.0,378.0 C2.5,374.8 10.7,373.8 15.0,375.0 C19.3,376.2 26.0,381.7 26.0,385.0 C26.0,388.3 19.3,393.5 15.0,395.0 C10.7,396.5 2.5,396.8 0.0,394.0 C-2.5,391.2 -2.5,381.2 0.0,378.0Z" fill="#1eee1e"/><path d="M166.0,420.0 C169.3,416.5 182.3,415.7 190.0,416.0 C197.7,416.3 209.5,418.5 212.0,422.0 C214.5,425.5 212.0,434.5 205.0,437.0 C198.0,439.5 176.5,439.8 170.0,437.0 C163.5,434.2 162.7,423.5 166.0,420.0Z" fill="#1eee1e"/><path d="M188.0,424.0 C189.0,422.3 194.3,420.7 196.0,422.0 C197.7,423.3 199.0,430.3 198.0,432.0 C197.0,433.7 191.7,433.3 190.0,432.0 C188.3,430.7 187.0,425.7 188.0,424.0Z" fill="#f2f25c"/><path d="M202.0,417.0 C203.0,412.5 208.0,400.8 208.0,390.0 C208.0,379.2 207.3,361.5 202.0,352.0 C196.7,342.5 187.8,335.2 176.0,333.0 C164.2,330.8 143.8,338.0 131.0,339.0 C118.2,340.0 105.5,352.0 99.0,339.0 C92.5,326.0 91.0,289.0 92.0,261.0 C93.0,233.0 96.3,199.0 105.0,171.0 C113.7,143.0 130.0,113.5 144.0,93.0 C158.0,72.5 169.7,58.8 189.0,48.0 C208.3,37.2 230.8,31.3 260.0,28.0 C289.2,24.7 333.8,23.7 364.0,28.0 C394.2,32.3 422.2,45.0 441.0,54.0 C459.8,63.0 471.0,77.3 477.0,82.0" fill="none" stroke="#70307a" stroke-width="2.1"/><path d="M183.0,236.0 C180.8,236.0 172.2,253.3 170.0,236.0 C167.8,218.7 164.7,155.8 170.0,132.0 C175.3,108.2 191.3,102.2 202.0,93.0 C212.7,83.8 223.2,79.7 234.0,77.0 C244.8,74.3 259.3,74.3 267.0,77.0 C274.7,79.7 280.0,86.0 280.0,93.0 C280.0,100.0 275.7,108.2 267.0,119.0 C258.3,129.8 239.8,145.0 228.0,158.0 C216.2,171.0 203.5,184.0 196.0,197.0 C188.5,210.0 185.2,229.5 183.0,236.0" fill="none" stroke="#70307a" stroke-width="2.1"/><path d="M202.0,417.0 C203.2,406.2 204.7,369.3 209.0,352.0 C213.3,334.7 221.7,326.0 228.0,313.0 C234.3,300.0 244.8,289.2 247.0,274.0 C249.2,258.8 241.0,239.2 241.0,222.0 C241.0,204.8 239.5,180.7 247.0,171.0 C254.5,161.3 274.2,164.0 286.0,164.0 C297.8,164.0 311.0,163.3 318.0,171.0 C325.0,178.7 325.8,198.2 328.0,210.0 C330.2,221.8 320.7,235.2 331.0,242.0 C341.3,248.8 372.7,248.8 390.0,251.0 C407.3,253.2 425.3,246.8 435.0,255.0 C444.7,263.2 441.0,290.3 448.0,300.0 C455.0,309.7 472.2,310.8 477.0,313.0" fill="none" stroke="#70307a" stroke-width="2.1"/><path d="M440.0,150.0 C443.3,149.7 453.8,147.7 460.0,148.0 C466.2,148.3 474.2,151.3 477.0,152.0" fill="none" stroke="#70307a" stroke-width="1.2"/></g></svg>
<div class="fr" style="left:346px;top:304px;width:118px;height:108px"></div>
<div class="tk" style="left:375px;top:412px;width:1px;height:2px"></div>
<div class="a" style="left:365.50px;top:414.40px;width:20px;text-align:center;font-size:6.5px;line-height:6.5px;white-space:nowrap;color:#111;"><span style="display:inline-block;transform:scaleX(1.1);transform-origin:50% 50%">70</span></div>
<div class="tk" style="left:405px;top:412px;width:1px;height:2px"></div>
<div class="a" style="left:395.50px;top:414.40px;width:20px;text-align:center;font-size:6.5px;line-height:6.5px;white-space:nowrap;color:#111;"><span style="display:inline-block;transform:scaleX(1.1);transform-origin:50% 50%">80</span></div>
<div class="tk" style="left:435px;top:412px;width:1px;height:2px"></div>
<div class="a" style="left:425.50px;top:414.40px;width:20px;text-align:center;font-size:6.5px;line-height:6.5px;white-space:nowrap;color:#111;"><span style="display:inline-block;transform:scaleX(1.1);transform-origin:50% 50%">90</span></div>
<div class="tk" style="left:344px;top:314.0px;width:2px;height:1px"></div>
<div class="a" style="left:313.80px;top:311.60px;width:30px;text-align:right;font-size:6.5px;line-height:6.5px;white-space:nowrap;color:#111;"><span style="display:inline-block;transform:scaleX(1.08);transform-origin:100% 50%">15.0</span></div>
<div class="tk" style="left:344px;top:330.2px;width:2px;height:1px"></div>
<div class="a" style="left:313.80px;top:327.80px;width:30px;text-align:right;font-size:6.5px;line-height:6.5px;white-space:nowrap;color:#111;"><span style="display:inline-block;transform:scaleX(1.08);transform-origin:100% 50%">12.5</span></div>
<div class="tk" style="left:344px;top:346.4px;width:2px;height:1px"></div>
<div class="a" style="left:313.80px;top:344.00px;width:30px;text-align:right;font-size:6.5px;line-height:6.5px;white-space:nowrap;color:#111;"><span style="display:inline-block;transform:scaleX(1.08);transform-origin:100% 50%">10.0</span></div>
<div class="tk" style="left:344px;top:362.6px;width:2px;height:1px"></div>
<div class="a" style="left:313.80px;top:360.20px;width:30px;text-align:right;font-size:6.5px;line-height:6.5px;white-space:nowrap;color:#111;"><span style="display:inline-block;transform:scaleX(1.08);transform-origin:100% 50%">7.5</span></div>
<div class="tk" style="left:344px;top:378.8px;width:2px;height:1px"></div>
<div class="a" style="left:313.80px;top:376.40px;width:30px;text-align:right;font-size:6.5px;line-height:6.5px;white-space:nowrap;color:#111;"><span style="display:inline-block;transform:scaleX(1.08);transform-origin:100% 50%">5.0</span></div>
<div class="tk" style="left:344px;top:395.0px;width:2px;height:1px"></div>
<div class="a" style="left:313.80px;top:392.60px;width:30px;text-align:right;font-size:6.5px;line-height:6.5px;white-space:nowrap;color:#111;"><span style="display:inline-block;transform:scaleX(1.08);transform-origin:100% 50%">2.5</span></div>
<div class="pl" style="left:328.4px;top:287.60px;font-size:12.3px;line-height:12.3px">(i)</div>
<div class="a" style="left:385.30px;top:421.21px;width:40px;text-align:center;font-size:7.2px;line-height:7.2px;white-space:nowrap;color:#111;"><span style="display:inline-block;transform:scaleX(1.07);transform-origin:50% 50%">X (km)</span></div>
<svg style="left:465px;top:49.2px" width="7" height="89.25000000000001" viewBox="465 49.2 7 89.25000000000001"><polygon points="466,54.6 468.5,50.2 471,54.6" fill="#f45c5c"/><rect x="466" y="54.6" width="5" height="11.350000000000001" fill="#f45c5c"/><rect x="466" y="65.65" width="5" height="11.350000000000001" fill="#f4a45c"/><rect x="466" y="76.7" width="5" height="11.350000000000001" fill="#f2f25c"/><rect x="466" y="87.75" width="5" height="11.350000000000001" fill="#ffffff"/><rect x="466" y="98.8" width="5" height="11.350000000000001" fill="#5ef2f0"/><rect x="466" y="109.85" width="5" height="11.350000000000001" fill="#5ca6f4"/><rect x="466" y="120.89999999999999" width="5" height="11.350000000000001" fill="#5c5cf0"/><polygon points="466,131.95 468.5,136.14999999999998 471,131.95" fill="#5c5cf0"/><polyline points="466,54.6 468.5,50.2 471,54.6 471,131.95 468.5,136.14999999999998 466,131.95 466,54.6" fill="none" stroke="#666" stroke-width="0.6"/></svg><div class="tk" style="left:471px;top:54.1px;width:1.5px;height:1px"></div><div class="a" style="left:473.60px;top:51.68px;font-size:6px;line-height:6px;white-space:nowrap;color:#111;-webkit-text-stroke:0;color:#2a2a2a">4</div><div class="tk" style="left:471px;top:65.2px;width:1.5px;height:1px"></div><div class="a" style="left:473.60px;top:62.73px;font-size:6px;line-height:6px;white-space:nowrap;color:#111;-webkit-text-stroke:0;color:#2a2a2a">3</div><div class="tk" style="left:471px;top:76.2px;width:1.5px;height:1px"></div><div class="a" style="left:473.60px;top:73.78px;font-size:6px;line-height:6px;white-space:nowrap;color:#111;-webkit-text-stroke:0;color:#2a2a2a">2</div><div class="tk" style="left:471px;top:87.2px;width:1.5px;height:1px"></div><div class="a" style="left:473.60px;top:84.83px;font-size:6px;line-height:6px;white-space:nowrap;color:#111;-webkit-text-stroke:0;color:#2a2a2a">1</div><div class="tk" style="left:471px;top:98.3px;width:1.5px;height:1px"></div><div class="a" style="left:473.60px;top:95.88px;font-size:6px;line-height:6px;white-space:nowrap;color:#111;-webkit-text-stroke:0;color:#2a2a2a">&minus;1</div><div class="tk" style="left:471px;top:109.3px;width:1.5px;height:1px"></div><div class="a" style="left:473.60px;top:106.93px;font-size:6px;line-height:6px;white-space:nowrap;color:#111;-webkit-text-stroke:0;color:#2a2a2a">&minus;2</div><div class="tk" style="left:471px;top:120.4px;width:1.5px;height:1px"></div><div class="a" style="left:473.60px;top:117.98px;font-size:6px;line-height:6px;white-space:nowrap;color:#111;-webkit-text-stroke:0;color:#2a2a2a">&minus;3</div><div class="tk" style="left:471px;top:131.5px;width:1.5px;height:1px"></div><div class="a" style="left:473.60px;top:129.03px;font-size:6px;line-height:6px;white-space:nowrap;color:#111;-webkit-text-stroke:0;color:#2a2a2a">&minus;4</div>
<div class="a" style="left:482.07px;top:138.50px;width:90px;text-align:center;font-size:6.3px;line-height:6.3px;white-space:nowrap;color:#111;transform-origin:0 0;transform:rotate(-90deg);"><span style="display:inline-block;transform:scaleX(1.08);transform-origin:50% 50%">vertical velocity (m s<sup style="font-size:4.4px;vertical-align:2.6px;line-height:0">&minus;1</sup>)</span></div>
<svg style="left:465px;top:180.6px" width="7" height="90.25000000000003" viewBox="465 180.6 7 90.25000000000003"><polygon points="466,185.6 468.5,181.6 471,185.6" fill="#f45c5c"/><rect x="466" y="185.6" width="5" height="11.55" fill="#f45c5c"/><rect x="466" y="196.85" width="5" height="11.55" fill="#f4a45c"/><rect x="466" y="208.1" width="5" height="11.55" fill="#f2f25c"/><rect x="466" y="219.35" width="5" height="11.55" fill="#ffffff"/><rect x="466" y="230.6" width="5" height="11.55" fill="#5ef2f0"/><rect x="466" y="241.85" width="5" height="11.55" fill="#5ca6f4"/><rect x="466" y="253.1" width="5" height="11.55" fill="#5c5cf0"/><polygon points="466,264.35 468.5,268.55 471,264.35" fill="#5c5cf0"/><polyline points="466,185.6 468.5,181.6 471,185.6 471,264.35 468.5,268.55 466,264.35 466,185.6" fill="none" stroke="#666" stroke-width="0.6"/></svg><div class="tk" style="left:471px;top:185.1px;width:1.5px;height:1px"></div><div class="a" style="left:473.60px;top:182.68px;font-size:6px;line-height:6px;white-space:nowrap;color:#111;-webkit-text-stroke:0;color:#2a2a2a">4</div><div class="tk" style="left:471px;top:196.3px;width:1.5px;height:1px"></div><div class="a" style="left:473.60px;top:193.93px;font-size:6px;line-height:6px;white-space:nowrap;color:#111;-webkit-text-stroke:0;color:#2a2a2a">3</div><div class="tk" style="left:471px;top:207.6px;width:1.5px;height:1px"></div><div class="a" style="left:473.60px;top:205.18px;font-size:6px;line-height:6px;white-space:nowrap;color:#111;-webkit-text-stroke:0;color:#2a2a2a">2</div><div class="tk" style="left:471px;top:218.8px;width:1.5px;height:1px"></div><div class="a" style="left:473.60px;top:216.43px;font-size:6px;line-height:6px;white-space:nowrap;color:#111;-webkit-text-stroke:0;color:#2a2a2a">1</div><div class="tk" style="left:471px;top:230.1px;width:1.5px;height:1px"></div><div class="a" style="left:473.60px;top:227.68px;font-size:6px;line-height:6px;white-space:nowrap;color:#111;-webkit-text-stroke:0;color:#2a2a2a">&minus;1</div><div class="tk" style="left:471px;top:241.3px;width:1.5px;height:1px"></div><div class="a" style="left:473.60px;top:238.93px;font-size:6px;line-height:6px;white-space:nowrap;color:#111;-webkit-text-stroke:0;color:#2a2a2a">&minus;2</div><div class="tk" style="left:471px;top:252.6px;width:1.5px;height:1px"></div><div class="a" style="left:473.60px;top:250.18px;font-size:6px;line-height:6px;white-space:nowrap;color:#111;-webkit-text-stroke:0;color:#2a2a2a">&minus;3</div><div class="tk" style="left:471px;top:263.9px;width:1.5px;height:1px"></div><div class="a" style="left:473.60px;top:261.43px;font-size:6px;line-height:6px;white-space:nowrap;color:#111;-webkit-text-stroke:0;color:#2a2a2a">&minus;4</div>
<div class="a" style="left:482.07px;top:269.80px;width:90px;text-align:center;font-size:6.3px;line-height:6.3px;white-space:nowrap;color:#111;transform-origin:0 0;transform:rotate(-90deg);"><span style="display:inline-block;transform:scaleX(1.08);transform-origin:50% 50%">vertical velocity (m s<sup style="font-size:4.4px;vertical-align:2.6px;line-height:0">&minus;1</sup>)</span></div>
<svg style="left:465px;top:330px" width="5.4" height="56.60999999999996" viewBox="465 330 5.4 56.60999999999996"><polygon points="466,333.4 467.7,331 469.4,333.4" fill="#f45c5c"/><rect x="466" y="333.4" width="3.4" height="5.99" fill="#f45c5c"/><rect x="466" y="339.09" width="3.4" height="5.99" fill="#f4a45c"/><rect x="466" y="344.78" width="3.4" height="5.99" fill="#f2f25c"/><rect x="466" y="350.46999999999997" width="3.4" height="5.99" fill="#0a820a"/><rect x="466" y="356.15999999999997" width="3.4" height="5.99" fill="#0abe0a"/><rect x="466" y="361.84999999999997" width="3.4" height="5.99" fill="#1eee1e"/><rect x="466" y="367.53999999999996" width="3.4" height="5.99" fill="#5c5cf0"/><rect x="466" y="373.22999999999996" width="3.4" height="5.99" fill="#5ca6f4"/><rect x="466" y="378.91999999999996" width="3.4" height="5.99" fill="#5ef2f0"/><polyline points="466,333.4 467.7,331 469.4,333.4 469.4,384.60999999999996 466,384.60999999999996 466,333.4" fill="none" stroke="#666" stroke-width="0.6"/></svg><div class="tk" style="left:469.4px;top:332.9px;width:1.5px;height:1px"></div><div class="a" style="left:472.20px;top:330.85px;font-size:5.25px;line-height:5.25px;white-space:nowrap;color:#111;-webkit-text-stroke:0;color:#2a2a2a">0.1375</div><div class="tk" style="left:469.4px;top:338.6px;width:1.5px;height:1px"></div><div class="a" style="left:472.20px;top:336.54px;font-size:5.25px;line-height:5.25px;white-space:nowrap;color:#111;-webkit-text-stroke:0;color:#2a2a2a">0.1250</div><div class="tk" style="left:469.4px;top:344.3px;width:1.5px;height:1px"></div><div class="a" style="left:472.20px;top:342.23px;font-size:5.25px;line-height:5.25px;white-space:nowrap;color:#111;-webkit-text-stroke:0;color:#2a2a2a">0.1125</div><div class="tk" style="left:469.4px;top:350.0px;width:1.5px;height:1px"></div><div class="a" style="left:472.20px;top:347.92px;font-size:5.25px;line-height:5.25px;white-space:nowrap;color:#111;-webkit-text-stroke:0;color:#2a2a2a">0.1000</div><div class="tk" style="left:469.4px;top:355.7px;width:1.5px;height:1px"></div><div class="a" style="left:472.20px;top:353.61px;font-size:5.25px;line-height:5.25px;white-space:nowrap;color:#111;-webkit-text-stroke:0;color:#2a2a2a">0.0875</div><div class="tk" style="left:469.4px;top:361.3px;width:1.5px;height:1px"></div><div class="a" style="left:472.20px;top:359.30px;font-size:5.25px;line-height:5.25px;white-space:nowrap;color:#111;-webkit-text-stroke:0;color:#2a2a2a">0.0750</div><div class="tk" style="left:469.4px;top:367.0px;width:1.5px;height:1px"></div><div class="a" style="left:472.20px;top:364.99px;font-size:5.25px;line-height:5.25px;white-space:nowrap;color:#111;-webkit-text-stroke:0;color:#2a2a2a">0.0625</div><div class="tk" style="left:469.4px;top:372.7px;width:1.5px;height:1px"></div><div class="a" style="left:472.20px;top:370.68px;font-size:5.25px;line-height:5.25px;white-space:nowrap;color:#111;-webkit-text-stroke:0;color:#2a2a2a">0.0500</div><div class="tk" style="left:469.4px;top:378.4px;width:1.5px;height:1px"></div><div class="a" style="left:472.20px;top:376.37px;font-size:5.25px;line-height:5.25px;white-space:nowrap;color:#111;-webkit-text-stroke:0;color:#2a2a2a">0.0375</div><div class="tk" style="left:469.4px;top:384.1px;width:1.5px;height:1px"></div><div class="a" style="left:472.20px;top:382.06px;font-size:5.25px;line-height:5.25px;white-space:nowrap;color:#111;-webkit-text-stroke:0;color:#2a2a2a">0.0250</div>
<div class="a" style="left:489.34px;top:378.60px;width:40px;text-align:center;font-size:5.5px;line-height:5.5px;white-space:nowrap;color:#111;transform-origin:0 0;transform:rotate(-90deg);">KL Div.</div>
</body></html>
